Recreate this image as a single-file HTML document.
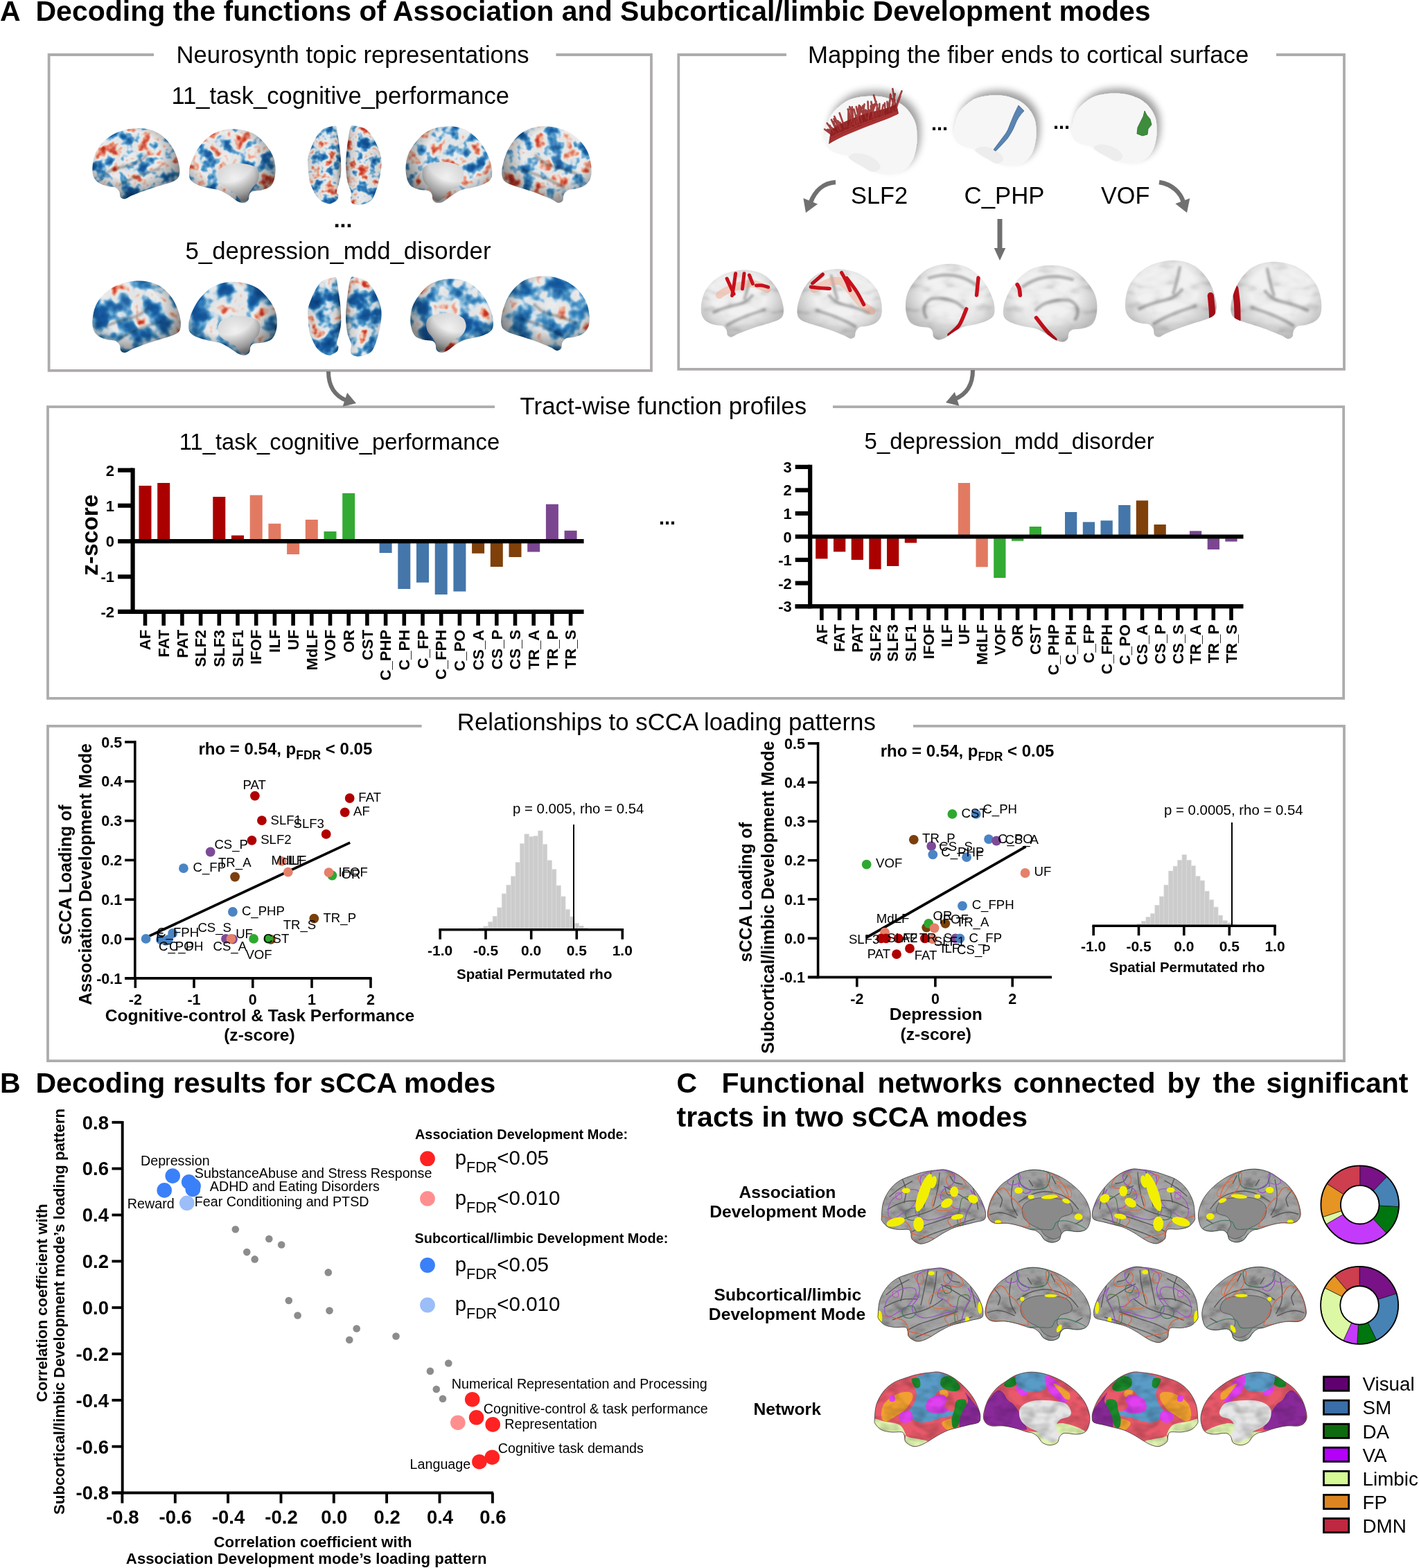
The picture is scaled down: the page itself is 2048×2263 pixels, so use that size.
<!DOCTYPE html>
<html><head><meta charset="utf-8"><title>Figure</title>
<style>html,body{margin:0;padding:0;background:#fff;}svg{display:block;}text{font-family:'Liberation Sans', Arial, sans-serif;}</style></head>
<body><svg width="2048" height="2263" viewBox="0 0 2048 2263">
<rect width="2048" height="2263" fill="#fff"/>
<defs><path id="latS" d="M0.6,44.6C0.8,41.6 0.9,35.3 2.3,30.9C3.7,26.5 6.4,21.7 9.1,18.3C11.8,14.9 14.9,12.4 18.3,10.3C21.7,8.2 25.9,7.0 29.7,5.7C33.5,4.4 37.3,3.1 41.1,2.3C44.9,1.4 49.2,0.9 52.6,0.6C56.0,0.3 58.3,-0.5 61.7,0.2C65.1,0.9 69.3,2.3 73.1,4.6C76.9,6.8 81.2,10.3 84.6,13.7C88.0,17.1 91.3,21.3 93.7,25.1C96.1,28.9 97.9,33.6 98.9,36.6C100.0,39.6 100.1,41.5 100.0,43.4C99.9,45.3 100.1,46.9 98.3,48.0C96.5,49.1 92.1,49.5 89.1,50.3C86.0,51.1 83.2,51.8 80.0,52.6C76.8,53.5 73.1,54.1 69.7,55.4C66.3,56.7 62.6,58.8 59.4,60.6C56.2,62.4 53.0,64.8 50.3,66.3C47.6,67.8 45.7,69.0 43.4,69.7C41.1,70.4 38.9,71.2 36.6,70.6C34.3,70.0 31.0,68.0 29.7,66.3C28.4,64.6 29.2,62.1 28.6,60.6C28.0,59.1 28.4,57.7 26.3,57.1C24.2,56.5 19.2,57.5 16.0,57.1C12.8,56.7 9.4,56.2 6.9,54.9C4.4,53.6 2.2,50.8 1.1,49.1C0.1,47.4 0.4,47.6 0.6,44.6Z"/><path id="medS" d="M0.0,40.9C0.4,37.5 2.0,31.4 4.0,27.2C6.0,23.0 9.2,18.9 12.0,15.8C14.8,12.8 18.1,11.0 21.1,8.9C24.2,6.8 26.9,4.6 30.3,3.2C33.7,1.8 37.9,0.7 41.7,0.3C45.5,-0.1 49.3,0.2 53.1,0.9C56.9,1.6 60.8,2.8 64.6,4.3C68.4,5.8 72.2,7.6 76.0,10.1C79.8,12.6 84.2,16.0 87.4,19.2C90.6,22.4 93.4,25.9 95.4,29.5C97.4,33.1 98.8,37.5 99.4,40.9C100.0,44.3 99.6,47.4 98.9,50.1C98.2,52.8 97.3,55.4 95.4,56.9C93.5,58.4 90.6,59.0 87.4,59.2C84.2,59.4 78.7,57.7 76.0,58.1C73.3,58.5 72.5,60.0 71.4,61.5C70.3,63.0 70.7,65.9 69.2,67.2C67.7,68.5 64.6,69.5 62.3,69.5C60.0,69.5 57.3,68.5 55.4,67.2C53.5,65.9 52.4,63.0 50.9,61.5C49.4,60.0 48.0,58.9 46.3,58.1C44.6,57.3 43.3,57.7 40.6,56.9C37.9,56.1 33.9,54.5 30.3,53.5C26.7,52.5 22.7,51.6 18.9,51.2C15.1,50.8 10.3,51.8 7.4,51.2C4.5,50.6 2.9,49.5 1.7,47.8C0.5,46.1 -0.4,44.3 0.0,40.9Z"/><clipPath id="latC"><path d="M0.6,44.6C0.8,41.6 0.9,35.3 2.3,30.9C3.7,26.5 6.4,21.7 9.1,18.3C11.8,14.9 14.9,12.4 18.3,10.3C21.7,8.2 25.9,7.0 29.7,5.7C33.5,4.4 37.3,3.1 41.1,2.3C44.9,1.4 49.2,0.9 52.6,0.6C56.0,0.3 58.3,-0.5 61.7,0.2C65.1,0.9 69.3,2.3 73.1,4.6C76.9,6.8 81.2,10.3 84.6,13.7C88.0,17.1 91.3,21.3 93.7,25.1C96.1,28.9 97.9,33.6 98.9,36.6C100.0,39.6 100.1,41.5 100.0,43.4C99.9,45.3 100.1,46.9 98.3,48.0C96.5,49.1 92.1,49.5 89.1,50.3C86.0,51.1 83.2,51.8 80.0,52.6C76.8,53.5 73.1,54.1 69.7,55.4C66.3,56.7 62.6,58.8 59.4,60.6C56.2,62.4 53.0,64.8 50.3,66.3C47.6,67.8 45.7,69.0 43.4,69.7C41.1,70.4 38.9,71.2 36.6,70.6C34.3,70.0 31.0,68.0 29.7,66.3C28.4,64.6 29.2,62.1 28.6,60.6C28.0,59.1 28.4,57.7 26.3,57.1C24.2,56.5 19.2,57.5 16.0,57.1C12.8,56.7 9.4,56.2 6.9,54.9C4.4,53.6 2.2,50.8 1.1,49.1C0.1,47.4 0.4,47.6 0.6,44.6Z"/></clipPath><clipPath id="medC"><path d="M0.0,40.9C0.4,37.5 2.0,31.4 4.0,27.2C6.0,23.0 9.2,18.9 12.0,15.8C14.8,12.8 18.1,11.0 21.1,8.9C24.2,6.8 26.9,4.6 30.3,3.2C33.7,1.8 37.9,0.7 41.7,0.3C45.5,-0.1 49.3,0.2 53.1,0.9C56.9,1.6 60.8,2.8 64.6,4.3C68.4,5.8 72.2,7.6 76.0,10.1C79.8,12.6 84.2,16.0 87.4,19.2C90.6,22.4 93.4,25.9 95.4,29.5C97.4,33.1 98.8,37.5 99.4,40.9C100.0,44.3 99.6,47.4 98.9,50.1C98.2,52.8 97.3,55.4 95.4,56.9C93.5,58.4 90.6,59.0 87.4,59.2C84.2,59.4 78.7,57.7 76.0,58.1C73.3,58.5 72.5,60.0 71.4,61.5C70.3,63.0 70.7,65.9 69.2,67.2C67.7,68.5 64.6,69.5 62.3,69.5C60.0,69.5 57.3,68.5 55.4,67.2C53.5,65.9 52.4,63.0 50.9,61.5C49.4,60.0 48.0,58.9 46.3,58.1C44.6,57.3 43.3,57.7 40.6,56.9C37.9,56.1 33.9,54.5 30.3,53.5C26.7,52.5 22.7,51.6 18.9,51.2C15.1,50.8 10.3,51.8 7.4,51.2C4.5,50.6 2.9,49.5 1.7,47.8C0.5,46.1 -0.4,44.3 0.0,40.9Z"/></clipPath><clipPath id="dorC"><ellipse cx="50" cy="50" rx="50" ry="50"/></clipPath><path id="nslatS" d="M1.0,55.4C-0.2,52.1 -0.4,47.6 0.0,43.1C0.4,38.6 1.5,32.8 3.5,28.2C5.5,23.6 8.8,19.3 12.1,15.8C15.4,12.3 19.4,9.5 23.3,7.2C27.2,4.9 31.5,3.4 35.6,2.2C39.7,1.0 43.9,0.3 48.0,0.0C52.1,-0.3 56.5,-0.2 60.4,0.4C64.3,1.0 68.0,2.0 71.5,3.5C75.0,5.0 78.3,7.0 81.4,9.7C84.5,12.4 87.6,15.9 90.1,19.6C92.6,23.3 94.7,27.6 96.3,31.9C97.9,36.2 99.3,41.6 99.8,45.5C100.2,49.4 100.0,52.9 99.0,55.4C98.0,57.9 96.3,59.0 93.8,60.4C91.3,61.8 87.6,62.9 83.9,64.1C80.2,65.3 76.0,66.3 71.5,67.8C67.0,69.2 61.2,71.1 56.7,72.8C52.2,74.5 47.6,76.3 44.3,77.7C41.0,79.1 39.0,81.2 36.9,81.4C34.8,81.6 32.9,80.4 31.9,79.0C30.9,77.6 31.7,74.7 30.7,72.8C29.7,70.9 28.0,68.8 25.7,67.8C23.4,66.8 20.2,67.4 17.1,66.6C14.0,65.8 9.9,64.8 7.2,62.9C4.5,61.0 2.2,58.7 1.0,55.4Z"/><path id="nsmedS" d="M0.0,50.3C0.0,47.1 0.5,43.2 1.9,39.0C3.3,34.8 5.7,29.4 8.2,25.2C10.7,21.0 13.7,17.2 17.0,13.8C20.4,10.4 24.3,7.2 28.3,5.0C32.3,2.8 36.7,1.4 40.9,0.6C45.1,-0.2 49.3,-0.2 53.5,0.0C57.7,0.2 61.8,0.6 66.0,1.9C70.2,3.1 74.6,4.7 78.6,7.5C82.6,10.3 86.8,14.9 89.9,18.9C93.1,22.9 95.8,27.2 97.5,31.4C99.2,35.6 99.8,39.8 100.0,44.0C100.2,48.2 99.8,53.0 98.7,56.6C97.7,60.2 96.2,63.3 93.7,65.4C91.2,67.5 86.9,68.4 83.6,69.2C80.2,70.0 75.9,69.6 73.6,70.4C71.3,71.2 70.6,72.5 69.8,74.2C69.0,75.9 69.6,78.9 68.6,80.5C67.5,82.1 65.6,83.4 63.5,83.6C61.4,83.8 59.1,83.4 56.0,81.8C52.9,80.2 48.3,76.3 44.7,74.2C41.1,72.1 38.4,70.5 34.6,69.2C30.8,68.0 26.2,67.8 22.0,66.7C17.8,65.7 12.8,64.4 9.4,62.9C6.1,61.4 3.5,60.0 1.9,57.9C0.3,55.8 0.0,53.4 0.0,50.3Z"/><clipPath id="nslatC"><path d="M1.0,55.4C-0.2,52.1 -0.4,47.6 0.0,43.1C0.4,38.6 1.5,32.8 3.5,28.2C5.5,23.6 8.8,19.3 12.1,15.8C15.4,12.3 19.4,9.5 23.3,7.2C27.2,4.9 31.5,3.4 35.6,2.2C39.7,1.0 43.9,0.3 48.0,0.0C52.1,-0.3 56.5,-0.2 60.4,0.4C64.3,1.0 68.0,2.0 71.5,3.5C75.0,5.0 78.3,7.0 81.4,9.7C84.5,12.4 87.6,15.9 90.1,19.6C92.6,23.3 94.7,27.6 96.3,31.9C97.9,36.2 99.3,41.6 99.8,45.5C100.2,49.4 100.0,52.9 99.0,55.4C98.0,57.9 96.3,59.0 93.8,60.4C91.3,61.8 87.6,62.9 83.9,64.1C80.2,65.3 76.0,66.3 71.5,67.8C67.0,69.2 61.2,71.1 56.7,72.8C52.2,74.5 47.6,76.3 44.3,77.7C41.0,79.1 39.0,81.2 36.9,81.4C34.8,81.6 32.9,80.4 31.9,79.0C30.9,77.6 31.7,74.7 30.7,72.8C29.7,70.9 28.0,68.8 25.7,67.8C23.4,66.8 20.2,67.4 17.1,66.6C14.0,65.8 9.9,64.8 7.2,62.9C4.5,61.0 2.2,58.7 1.0,55.4Z"/></clipPath><clipPath id="nsmedC"><path d="M0.0,50.3C0.0,47.1 0.5,43.2 1.9,39.0C3.3,34.8 5.7,29.4 8.2,25.2C10.7,21.0 13.7,17.2 17.0,13.8C20.4,10.4 24.3,7.2 28.3,5.0C32.3,2.8 36.7,1.4 40.9,0.6C45.1,-0.2 49.3,-0.2 53.5,0.0C57.7,0.2 61.8,0.6 66.0,1.9C70.2,3.1 74.6,4.7 78.6,7.5C82.6,10.3 86.8,14.9 89.9,18.9C93.1,22.9 95.8,27.2 97.5,31.4C99.2,35.6 99.8,39.8 100.0,44.0C100.2,48.2 99.8,53.0 98.7,56.6C97.7,60.2 96.2,63.3 93.7,65.4C91.2,67.5 86.9,68.4 83.6,69.2C80.2,70.0 75.9,69.6 73.6,70.4C71.3,71.2 70.6,72.5 69.8,74.2C69.0,75.9 69.6,78.9 68.6,80.5C67.5,82.1 65.6,83.4 63.5,83.6C61.4,83.8 59.1,83.4 56.0,81.8C52.9,80.2 48.3,76.3 44.7,74.2C41.1,72.1 38.4,70.5 34.6,69.2C30.8,68.0 26.2,67.8 22.0,66.7C17.8,65.7 12.8,64.4 9.4,62.9C6.1,61.4 3.5,60.0 1.9,57.9C0.3,55.8 0.0,53.4 0.0,50.3Z"/></clipPath><filter id="ns1_0" x="0" y="0" width="1" height="1" color-interpolation-filters="sRGB"><feTurbulence type="fractalNoise" baseFrequency="0.06" numOctaves="3" seed="11" result="n"/><feColorMatrix in="n" type="matrix" values="1 0 0 0 0 1 0 0 0 0 1 0 0 0 0 0 0 0 0 1" result="g"/><feComponentTransfer in="g" result="c"><feFuncR type="table" tableValues="0.031 0.038 0.044 0.050 0.056 0.062 0.068 0.075 0.081 0.087 0.093 0.106 0.144 0.182 0.220 0.294 0.392 0.490 0.641 0.804 0.891 0.925 0.925 0.925 0.933 0.953 0.950 0.932 0.908 0.876 0.843 0.810 0.788 0.768 0.748 0.728 0.708 0.688 0.668 0.648 0.627"/><feFuncG type="table" tableValues="0.235 0.248 0.261 0.273 0.286 0.299 0.312 0.324 0.337 0.350 0.362 0.382 0.429 0.476 0.522 0.581 0.646 0.712 0.795 0.882 0.913 0.925 0.925 0.925 0.890 0.800 0.706 0.608 0.514 0.427 0.340 0.253 0.217 0.195 0.173 0.151 0.128 0.106 0.084 0.061 0.039"/><feFuncB type="table" tableValues="0.490 0.505 0.519 0.534 0.548 0.563 0.577 0.592 0.606 0.621 0.635 0.654 0.686 0.719 0.752 0.786 0.821 0.856 0.898 0.941 0.930 0.925 0.925 0.925 0.872 0.739 0.619 0.507 0.410 0.337 0.264 0.191 0.168 0.156 0.145 0.134 0.123 0.112 0.101 0.090 0.078"/></feComponentTransfer><feComposite in="c" in2="SourceAlpha" operator="in"/></filter><filter id="ns2_0" x="0" y="0" width="1" height="1" color-interpolation-filters="sRGB"><feTurbulence type="fractalNoise" baseFrequency="0.045" numOctaves="3" seed="53" result="n"/><feColorMatrix in="n" type="matrix" values="1 0 0 0 0 1 0 0 0 0 1 0 0 0 0 0 0 0 0 1" result="g"/><feComponentTransfer in="g" result="c"><feFuncR type="table" tableValues="0.031 0.036 0.041 0.047 0.052 0.057 0.062 0.067 0.072 0.077 0.082 0.087 0.092 0.097 0.125 0.160 0.194 0.228 0.314 0.412 0.510 0.657 0.804 0.880 0.925 0.925 0.925 0.925 0.943 0.957 0.937 0.910 0.851 0.799 0.775 0.750 0.725 0.701 0.676 0.652 0.627"/><feFuncG type="table" tableValues="0.235 0.246 0.256 0.266 0.277 0.287 0.298 0.308 0.318 0.329 0.339 0.350 0.360 0.370 0.406 0.448 0.491 0.533 0.594 0.660 0.725 0.804 0.882 0.909 0.925 0.925 0.925 0.925 0.845 0.743 0.635 0.518 0.361 0.230 0.203 0.175 0.148 0.121 0.094 0.066 0.039"/><feFuncB type="table" tableValues="0.490 0.502 0.514 0.526 0.538 0.550 0.561 0.573 0.585 0.597 0.609 0.621 0.633 0.645 0.671 0.700 0.729 0.759 0.793 0.828 0.863 0.902 0.941 0.931 0.925 0.925 0.925 0.925 0.806 0.662 0.538 0.413 0.282 0.174 0.160 0.147 0.133 0.119 0.106 0.092 0.078"/></feComponentTransfer><feComposite in="c" in2="SourceAlpha" operator="in"/></filter><filter id="ns1_1" x="0" y="0" width="1" height="1" color-interpolation-filters="sRGB"><feTurbulence type="fractalNoise" baseFrequency="0.06" numOctaves="3" seed="18" result="n"/><feColorMatrix in="n" type="matrix" values="1 0 0 0 0 1 0 0 0 0 1 0 0 0 0 0 0 0 0 1" result="g"/><feComponentTransfer in="g" result="c"><feFuncR type="table" tableValues="0.031 0.038 0.044 0.050 0.056 0.062 0.068 0.075 0.081 0.087 0.093 0.106 0.144 0.182 0.220 0.294 0.392 0.490 0.641 0.804 0.891 0.925 0.925 0.925 0.933 0.953 0.950 0.932 0.908 0.876 0.843 0.810 0.788 0.768 0.748 0.728 0.708 0.688 0.668 0.648 0.627"/><feFuncG type="table" tableValues="0.235 0.248 0.261 0.273 0.286 0.299 0.312 0.324 0.337 0.350 0.362 0.382 0.429 0.476 0.522 0.581 0.646 0.712 0.795 0.882 0.913 0.925 0.925 0.925 0.890 0.800 0.706 0.608 0.514 0.427 0.340 0.253 0.217 0.195 0.173 0.151 0.128 0.106 0.084 0.061 0.039"/><feFuncB type="table" tableValues="0.490 0.505 0.519 0.534 0.548 0.563 0.577 0.592 0.606 0.621 0.635 0.654 0.686 0.719 0.752 0.786 0.821 0.856 0.898 0.941 0.930 0.925 0.925 0.925 0.872 0.739 0.619 0.507 0.410 0.337 0.264 0.191 0.168 0.156 0.145 0.134 0.123 0.112 0.101 0.090 0.078"/></feComponentTransfer><feComposite in="c" in2="SourceAlpha" operator="in"/></filter><filter id="ns2_1" x="0" y="0" width="1" height="1" color-interpolation-filters="sRGB"><feTurbulence type="fractalNoise" baseFrequency="0.045" numOctaves="3" seed="58" result="n"/><feColorMatrix in="n" type="matrix" values="1 0 0 0 0 1 0 0 0 0 1 0 0 0 0 0 0 0 0 1" result="g"/><feComponentTransfer in="g" result="c"><feFuncR type="table" tableValues="0.031 0.036 0.041 0.047 0.052 0.057 0.062 0.067 0.072 0.077 0.082 0.087 0.092 0.097 0.125 0.160 0.194 0.228 0.314 0.412 0.510 0.657 0.804 0.880 0.925 0.925 0.925 0.925 0.943 0.957 0.937 0.910 0.851 0.799 0.775 0.750 0.725 0.701 0.676 0.652 0.627"/><feFuncG type="table" tableValues="0.235 0.246 0.256 0.266 0.277 0.287 0.298 0.308 0.318 0.329 0.339 0.350 0.360 0.370 0.406 0.448 0.491 0.533 0.594 0.660 0.725 0.804 0.882 0.909 0.925 0.925 0.925 0.925 0.845 0.743 0.635 0.518 0.361 0.230 0.203 0.175 0.148 0.121 0.094 0.066 0.039"/><feFuncB type="table" tableValues="0.490 0.502 0.514 0.526 0.538 0.550 0.561 0.573 0.585 0.597 0.609 0.621 0.633 0.645 0.671 0.700 0.729 0.759 0.793 0.828 0.863 0.902 0.941 0.931 0.925 0.925 0.925 0.925 0.806 0.662 0.538 0.413 0.282 0.174 0.160 0.147 0.133 0.119 0.106 0.092 0.078"/></feComponentTransfer><feComposite in="c" in2="SourceAlpha" operator="in"/></filter><filter id="ns1_2" x="0" y="0" width="1" height="1" color-interpolation-filters="sRGB"><feTurbulence type="fractalNoise" baseFrequency="0.06" numOctaves="3" seed="25" result="n"/><feColorMatrix in="n" type="matrix" values="1 0 0 0 0 1 0 0 0 0 1 0 0 0 0 0 0 0 0 1" result="g"/><feComponentTransfer in="g" result="c"><feFuncR type="table" tableValues="0.031 0.038 0.044 0.050 0.056 0.062 0.068 0.075 0.081 0.087 0.093 0.106 0.144 0.182 0.220 0.294 0.392 0.490 0.641 0.804 0.891 0.925 0.925 0.925 0.933 0.953 0.950 0.932 0.908 0.876 0.843 0.810 0.788 0.768 0.748 0.728 0.708 0.688 0.668 0.648 0.627"/><feFuncG type="table" tableValues="0.235 0.248 0.261 0.273 0.286 0.299 0.312 0.324 0.337 0.350 0.362 0.382 0.429 0.476 0.522 0.581 0.646 0.712 0.795 0.882 0.913 0.925 0.925 0.925 0.890 0.800 0.706 0.608 0.514 0.427 0.340 0.253 0.217 0.195 0.173 0.151 0.128 0.106 0.084 0.061 0.039"/><feFuncB type="table" tableValues="0.490 0.505 0.519 0.534 0.548 0.563 0.577 0.592 0.606 0.621 0.635 0.654 0.686 0.719 0.752 0.786 0.821 0.856 0.898 0.941 0.930 0.925 0.925 0.925 0.872 0.739 0.619 0.507 0.410 0.337 0.264 0.191 0.168 0.156 0.145 0.134 0.123 0.112 0.101 0.090 0.078"/></feComponentTransfer><feComposite in="c" in2="SourceAlpha" operator="in"/></filter><filter id="ns2_2" x="0" y="0" width="1" height="1" color-interpolation-filters="sRGB"><feTurbulence type="fractalNoise" baseFrequency="0.045" numOctaves="3" seed="63" result="n"/><feColorMatrix in="n" type="matrix" values="1 0 0 0 0 1 0 0 0 0 1 0 0 0 0 0 0 0 0 1" result="g"/><feComponentTransfer in="g" result="c"><feFuncR type="table" tableValues="0.031 0.036 0.041 0.047 0.052 0.057 0.062 0.067 0.072 0.077 0.082 0.087 0.092 0.097 0.125 0.160 0.194 0.228 0.314 0.412 0.510 0.657 0.804 0.880 0.925 0.925 0.925 0.925 0.943 0.957 0.937 0.910 0.851 0.799 0.775 0.750 0.725 0.701 0.676 0.652 0.627"/><feFuncG type="table" tableValues="0.235 0.246 0.256 0.266 0.277 0.287 0.298 0.308 0.318 0.329 0.339 0.350 0.360 0.370 0.406 0.448 0.491 0.533 0.594 0.660 0.725 0.804 0.882 0.909 0.925 0.925 0.925 0.925 0.845 0.743 0.635 0.518 0.361 0.230 0.203 0.175 0.148 0.121 0.094 0.066 0.039"/><feFuncB type="table" tableValues="0.490 0.502 0.514 0.526 0.538 0.550 0.561 0.573 0.585 0.597 0.609 0.621 0.633 0.645 0.671 0.700 0.729 0.759 0.793 0.828 0.863 0.902 0.941 0.931 0.925 0.925 0.925 0.925 0.806 0.662 0.538 0.413 0.282 0.174 0.160 0.147 0.133 0.119 0.106 0.092 0.078"/></feComponentTransfer><feComposite in="c" in2="SourceAlpha" operator="in"/></filter><filter id="ns1_3" x="0" y="0" width="1" height="1" color-interpolation-filters="sRGB"><feTurbulence type="fractalNoise" baseFrequency="0.06" numOctaves="3" seed="32" result="n"/><feColorMatrix in="n" type="matrix" values="1 0 0 0 0 1 0 0 0 0 1 0 0 0 0 0 0 0 0 1" result="g"/><feComponentTransfer in="g" result="c"><feFuncR type="table" tableValues="0.031 0.038 0.044 0.050 0.056 0.062 0.068 0.075 0.081 0.087 0.093 0.106 0.144 0.182 0.220 0.294 0.392 0.490 0.641 0.804 0.891 0.925 0.925 0.925 0.933 0.953 0.950 0.932 0.908 0.876 0.843 0.810 0.788 0.768 0.748 0.728 0.708 0.688 0.668 0.648 0.627"/><feFuncG type="table" tableValues="0.235 0.248 0.261 0.273 0.286 0.299 0.312 0.324 0.337 0.350 0.362 0.382 0.429 0.476 0.522 0.581 0.646 0.712 0.795 0.882 0.913 0.925 0.925 0.925 0.890 0.800 0.706 0.608 0.514 0.427 0.340 0.253 0.217 0.195 0.173 0.151 0.128 0.106 0.084 0.061 0.039"/><feFuncB type="table" tableValues="0.490 0.505 0.519 0.534 0.548 0.563 0.577 0.592 0.606 0.621 0.635 0.654 0.686 0.719 0.752 0.786 0.821 0.856 0.898 0.941 0.930 0.925 0.925 0.925 0.872 0.739 0.619 0.507 0.410 0.337 0.264 0.191 0.168 0.156 0.145 0.134 0.123 0.112 0.101 0.090 0.078"/></feComponentTransfer><feComposite in="c" in2="SourceAlpha" operator="in"/></filter><filter id="ns2_3" x="0" y="0" width="1" height="1" color-interpolation-filters="sRGB"><feTurbulence type="fractalNoise" baseFrequency="0.045" numOctaves="3" seed="68" result="n"/><feColorMatrix in="n" type="matrix" values="1 0 0 0 0 1 0 0 0 0 1 0 0 0 0 0 0 0 0 1" result="g"/><feComponentTransfer in="g" result="c"><feFuncR type="table" tableValues="0.031 0.036 0.041 0.047 0.052 0.057 0.062 0.067 0.072 0.077 0.082 0.087 0.092 0.097 0.125 0.160 0.194 0.228 0.314 0.412 0.510 0.657 0.804 0.880 0.925 0.925 0.925 0.925 0.943 0.957 0.937 0.910 0.851 0.799 0.775 0.750 0.725 0.701 0.676 0.652 0.627"/><feFuncG type="table" tableValues="0.235 0.246 0.256 0.266 0.277 0.287 0.298 0.308 0.318 0.329 0.339 0.350 0.360 0.370 0.406 0.448 0.491 0.533 0.594 0.660 0.725 0.804 0.882 0.909 0.925 0.925 0.925 0.925 0.845 0.743 0.635 0.518 0.361 0.230 0.203 0.175 0.148 0.121 0.094 0.066 0.039"/><feFuncB type="table" tableValues="0.490 0.502 0.514 0.526 0.538 0.550 0.561 0.573 0.585 0.597 0.609 0.621 0.633 0.645 0.671 0.700 0.729 0.759 0.793 0.828 0.863 0.902 0.941 0.931 0.925 0.925 0.925 0.925 0.806 0.662 0.538 0.413 0.282 0.174 0.160 0.147 0.133 0.119 0.106 0.092 0.078"/></feComponentTransfer><feComposite in="c" in2="SourceAlpha" operator="in"/></filter><filter id="ns1_4" x="0" y="0" width="1" height="1" color-interpolation-filters="sRGB"><feTurbulence type="fractalNoise" baseFrequency="0.06" numOctaves="3" seed="39" result="n"/><feColorMatrix in="n" type="matrix" values="1 0 0 0 0 1 0 0 0 0 1 0 0 0 0 0 0 0 0 1" result="g"/><feComponentTransfer in="g" result="c"><feFuncR type="table" tableValues="0.031 0.038 0.044 0.050 0.056 0.062 0.068 0.075 0.081 0.087 0.093 0.106 0.144 0.182 0.220 0.294 0.392 0.490 0.641 0.804 0.891 0.925 0.925 0.925 0.933 0.953 0.950 0.932 0.908 0.876 0.843 0.810 0.788 0.768 0.748 0.728 0.708 0.688 0.668 0.648 0.627"/><feFuncG type="table" tableValues="0.235 0.248 0.261 0.273 0.286 0.299 0.312 0.324 0.337 0.350 0.362 0.382 0.429 0.476 0.522 0.581 0.646 0.712 0.795 0.882 0.913 0.925 0.925 0.925 0.890 0.800 0.706 0.608 0.514 0.427 0.340 0.253 0.217 0.195 0.173 0.151 0.128 0.106 0.084 0.061 0.039"/><feFuncB type="table" tableValues="0.490 0.505 0.519 0.534 0.548 0.563 0.577 0.592 0.606 0.621 0.635 0.654 0.686 0.719 0.752 0.786 0.821 0.856 0.898 0.941 0.930 0.925 0.925 0.925 0.872 0.739 0.619 0.507 0.410 0.337 0.264 0.191 0.168 0.156 0.145 0.134 0.123 0.112 0.101 0.090 0.078"/></feComponentTransfer><feComposite in="c" in2="SourceAlpha" operator="in"/></filter><filter id="ns2_4" x="0" y="0" width="1" height="1" color-interpolation-filters="sRGB"><feTurbulence type="fractalNoise" baseFrequency="0.045" numOctaves="3" seed="73" result="n"/><feColorMatrix in="n" type="matrix" values="1 0 0 0 0 1 0 0 0 0 1 0 0 0 0 0 0 0 0 1" result="g"/><feComponentTransfer in="g" result="c"><feFuncR type="table" tableValues="0.031 0.036 0.041 0.047 0.052 0.057 0.062 0.067 0.072 0.077 0.082 0.087 0.092 0.097 0.125 0.160 0.194 0.228 0.314 0.412 0.510 0.657 0.804 0.880 0.925 0.925 0.925 0.925 0.943 0.957 0.937 0.910 0.851 0.799 0.775 0.750 0.725 0.701 0.676 0.652 0.627"/><feFuncG type="table" tableValues="0.235 0.246 0.256 0.266 0.277 0.287 0.298 0.308 0.318 0.329 0.339 0.350 0.360 0.370 0.406 0.448 0.491 0.533 0.594 0.660 0.725 0.804 0.882 0.909 0.925 0.925 0.925 0.925 0.845 0.743 0.635 0.518 0.361 0.230 0.203 0.175 0.148 0.121 0.094 0.066 0.039"/><feFuncB type="table" tableValues="0.490 0.502 0.514 0.526 0.538 0.550 0.561 0.573 0.585 0.597 0.609 0.621 0.633 0.645 0.671 0.700 0.729 0.759 0.793 0.828 0.863 0.902 0.941 0.931 0.925 0.925 0.925 0.925 0.806 0.662 0.538 0.413 0.282 0.174 0.160 0.147 0.133 0.119 0.106 0.092 0.078"/></feComponentTransfer><feComposite in="c" in2="SourceAlpha" operator="in"/></filter><filter id="ns1_5" x="0" y="0" width="1" height="1" color-interpolation-filters="sRGB"><feTurbulence type="fractalNoise" baseFrequency="0.06" numOctaves="3" seed="46" result="n"/><feColorMatrix in="n" type="matrix" values="1 0 0 0 0 1 0 0 0 0 1 0 0 0 0 0 0 0 0 1" result="g"/><feComponentTransfer in="g" result="c"><feFuncR type="table" tableValues="0.031 0.038 0.044 0.050 0.056 0.062 0.068 0.075 0.081 0.087 0.093 0.106 0.144 0.182 0.220 0.294 0.392 0.490 0.641 0.804 0.891 0.925 0.925 0.925 0.933 0.953 0.950 0.932 0.908 0.876 0.843 0.810 0.788 0.768 0.748 0.728 0.708 0.688 0.668 0.648 0.627"/><feFuncG type="table" tableValues="0.235 0.248 0.261 0.273 0.286 0.299 0.312 0.324 0.337 0.350 0.362 0.382 0.429 0.476 0.522 0.581 0.646 0.712 0.795 0.882 0.913 0.925 0.925 0.925 0.890 0.800 0.706 0.608 0.514 0.427 0.340 0.253 0.217 0.195 0.173 0.151 0.128 0.106 0.084 0.061 0.039"/><feFuncB type="table" tableValues="0.490 0.505 0.519 0.534 0.548 0.563 0.577 0.592 0.606 0.621 0.635 0.654 0.686 0.719 0.752 0.786 0.821 0.856 0.898 0.941 0.930 0.925 0.925 0.925 0.872 0.739 0.619 0.507 0.410 0.337 0.264 0.191 0.168 0.156 0.145 0.134 0.123 0.112 0.101 0.090 0.078"/></feComponentTransfer><feComposite in="c" in2="SourceAlpha" operator="in"/></filter><filter id="ns2_5" x="0" y="0" width="1" height="1" color-interpolation-filters="sRGB"><feTurbulence type="fractalNoise" baseFrequency="0.045" numOctaves="3" seed="78" result="n"/><feColorMatrix in="n" type="matrix" values="1 0 0 0 0 1 0 0 0 0 1 0 0 0 0 0 0 0 0 1" result="g"/><feComponentTransfer in="g" result="c"><feFuncR type="table" tableValues="0.031 0.036 0.041 0.047 0.052 0.057 0.062 0.067 0.072 0.077 0.082 0.087 0.092 0.097 0.125 0.160 0.194 0.228 0.314 0.412 0.510 0.657 0.804 0.880 0.925 0.925 0.925 0.925 0.943 0.957 0.937 0.910 0.851 0.799 0.775 0.750 0.725 0.701 0.676 0.652 0.627"/><feFuncG type="table" tableValues="0.235 0.246 0.256 0.266 0.277 0.287 0.298 0.308 0.318 0.329 0.339 0.350 0.360 0.370 0.406 0.448 0.491 0.533 0.594 0.660 0.725 0.804 0.882 0.909 0.925 0.925 0.925 0.925 0.845 0.743 0.635 0.518 0.361 0.230 0.203 0.175 0.148 0.121 0.094 0.066 0.039"/><feFuncB type="table" tableValues="0.490 0.502 0.514 0.526 0.538 0.550 0.561 0.573 0.585 0.597 0.609 0.621 0.633 0.645 0.671 0.700 0.729 0.759 0.793 0.828 0.863 0.902 0.941 0.931 0.925 0.925 0.925 0.925 0.806 0.662 0.538 0.413 0.282 0.174 0.160 0.147 0.133 0.119 0.106 0.092 0.078"/></feComponentTransfer><feComposite in="c" in2="SourceAlpha" operator="in"/></filter><filter id="soft" x="-0.2" y="-0.2" width="1.4" height="1.4"><feGaussianBlur stdDeviation="1.2"/></filter><radialGradient id="shade" cx="0.42" cy="0.38" r="0.62"><stop offset="0.0" stop-color="#fff" stop-opacity="0.12"/><stop offset="0.55" stop-color="#000" stop-opacity="0"/><stop offset="1" stop-color="#000" stop-opacity="0.42"/></radialGradient><radialGradient id="shadeL" cx="0.45" cy="0.38" r="0.6"><stop offset="0.55" stop-color="#000" stop-opacity="0"/><stop offset="1" stop-color="#000" stop-opacity="0.22"/></radialGradient><radialGradient id="wallG" cx="0.4" cy="0.35" r="0.7"><stop offset="0" stop-color="#f4f4f4"/><stop offset="0.7" stop-color="#d8d8d8"/><stop offset="1" stop-color="#a8a8a8"/></radialGradient><linearGradient id="dshL" x1="0" y1="0" x2="1" y2="0"><stop offset="0" stop-color="#000" stop-opacity="0.12"/><stop offset="0.6" stop-color="#000" stop-opacity="0"/><stop offset="0.85" stop-color="#000" stop-opacity="0.12"/><stop offset="1" stop-color="#000" stop-opacity="0.45"/></linearGradient><linearGradient id="dshR" x1="1" y1="0" x2="0" y2="0"><stop offset="0" stop-color="#000" stop-opacity="0.12"/><stop offset="0.6" stop-color="#000" stop-opacity="0"/><stop offset="0.85" stop-color="#000" stop-opacity="0.12"/><stop offset="1" stop-color="#000" stop-opacity="0.45"/></linearGradient><filter id="gshadow" x="-0.3" y="-0.4" width="1.6" height="1.8"><feGaussianBlur in="SourceAlpha" stdDeviation="4.5"/><feOffset dx="4" dy="-6" result="b"/><feComponentTransfer in="b" result="b2"><feFuncA type="linear" slope="0.38"/></feComponentTransfer><feMerge><feMergeNode in="b2"/><feMergeNode in="SourceGraphic"/></feMerge></filter><filter id="wsurf" x="0" y="0" width="1" height="1" color-interpolation-filters="sRGB"><feTurbulence type="fractalNoise" baseFrequency="0.05 0.09" numOctaves="2" seed="4" result="n"/><feColorMatrix in="n" type="matrix" values="1 0 0 0 0 1 0 0 0 0 1 0 0 0 0 0 0 0 0 1" result="g"/><feComponentTransfer in="g" result="c"><feFuncR type="table" tableValues="0.74 0.84 0.92 0.945 0.95 0.95"/><feFuncG type="table" tableValues="0.74 0.84 0.92 0.945 0.95 0.95"/><feFuncB type="table" tableValues="0.74 0.84 0.92 0.945 0.95 0.95"/></feComponentTransfer><feComposite in="c" in2="SourceAlpha" operator="in"/></filter><filter id="gsurf" x="0" y="0" width="1" height="1" color-interpolation-filters="sRGB"><feTurbulence type="fractalNoise" baseFrequency="0.07 0.11" numOctaves="3" seed="9" result="n"/><feColorMatrix in="n" type="matrix" values="1 0 0 0 0 1 0 0 0 0 1 0 0 0 0 0 0 0 0 1" result="g"/><feComponentTransfer in="g" result="c"><feFuncR type="table" tableValues="0.40 0.47 0.56 0.62 0.65 0.66 0.67"/><feFuncG type="table" tableValues="0.40 0.47 0.56 0.62 0.65 0.66 0.67"/><feFuncB type="table" tableValues="0.40 0.47 0.56 0.62 0.65 0.66 0.67"/></feComponentTransfer><feComposite in="c" in2="SourceAlpha" operator="in"/></filter><filter id="nsurf" x="0" y="0" width="1" height="1" color-interpolation-filters="sRGB"><feTurbulence type="fractalNoise" baseFrequency="0.08 0.12" numOctaves="2" seed="21" result="n"/><feColorMatrix in="n" type="matrix" values="0 0 0 0 0 0 0 0 0 0 0 0 0 0 0 -2.2 0 0 0 1.35"/><feComposite in2="SourceAlpha" operator="in"/></filter></defs>
<g transform="translate(133.6,185.3) scale(1.2580,1.2518)"><use href="#nslatS" fill="#888" filter="url(#ns1_0)"/><path d="M14,52 C24,47 34,44 44,42 C52,40 58,36 63,30 M30,66 C42,58 58,52 78,46" fill="none" stroke="#000" stroke-opacity="0.3" stroke-width="3" filter="url(#soft)"/><use href="#nslatS" fill="url(#shade)"/></g><g transform="translate(272.9,186.4) scale(1.2460,1.2723)"><use href="#nsmedS" fill="#888" filter="url(#ns1_1)"/><path d="M33.0,52.0C33.3,49.8 34.3,46.8 36.0,45.0C37.7,43.2 40.3,42.0 43.0,41.0C45.7,40.0 48.8,39.3 52.0,39.0C55.2,38.7 58.7,38.7 62.0,39.0C65.3,39.3 69.2,40.0 72.0,41.0C74.8,42.0 77.5,43.2 79.0,45.0C80.5,46.8 81.0,49.5 81.0,52.0C81.0,54.5 80.2,57.7 79.0,60.0C77.8,62.3 75.5,64.0 74.0,66.0C72.5,68.0 71.0,69.8 70.0,72.0C69.0,74.2 69.2,77.3 68.0,79.0C66.8,80.7 64.7,82.0 63.0,82.0C61.3,82.0 59.7,80.5 58.0,79.0C56.3,77.5 55.2,74.8 53.0,73.0C50.8,71.2 47.5,69.5 45.0,68.0C42.5,66.5 39.8,65.7 38.0,64.0C36.2,62.3 34.8,60.0 34.0,58.0C33.2,56.0 32.7,54.2 33.0,52.0Z" fill="url(#wallG)"/><use href="#nsmedS" fill="url(#shade)"/></g><g transform="translate(710.3,182.5) scale(-1.2470,1.3193)"><use href="#nsmedS" fill="#888" filter="url(#ns1_2)"/><path d="M33.0,52.0C33.3,49.8 34.3,46.8 36.0,45.0C37.7,43.2 40.3,42.0 43.0,41.0C45.7,40.0 48.8,39.3 52.0,39.0C55.2,38.7 58.7,38.7 62.0,39.0C65.3,39.3 69.2,40.0 72.0,41.0C74.8,42.0 77.5,43.2 79.0,45.0C80.5,46.8 81.0,49.5 81.0,52.0C81.0,54.5 80.2,57.7 79.0,60.0C77.8,62.3 75.5,64.0 74.0,66.0C72.5,68.0 71.0,69.8 70.0,72.0C69.0,74.2 69.2,77.3 68.0,79.0C66.8,80.7 64.7,82.0 63.0,82.0C61.3,82.0 59.7,80.5 58.0,79.0C56.3,77.5 55.2,74.8 53.0,73.0C50.8,71.2 47.5,69.5 45.0,68.0C42.5,66.5 39.8,65.7 38.0,64.0C36.2,62.3 34.8,60.0 34.0,58.0C33.2,56.0 32.7,54.2 33.0,52.0Z" fill="url(#wallG)"/><use href="#nsmedS" fill="url(#shade)"/></g><g transform="translate(853.4,182.5) scale(-1.2910,1.3530)"><use href="#nslatS" fill="#888" filter="url(#ns1_3)"/><path d="M14,52 C24,47 34,44 44,42 C52,40 58,36 63,30 M30,66 C42,58 58,52 78,46" fill="none" stroke="#000" stroke-opacity="0.3" stroke-width="3" filter="url(#soft)"/><use href="#nslatS" fill="url(#shade)"/></g><g transform="translate(133.6,405.4) scale(1.2740,1.2723)"><use href="#nslatS" fill="#888" filter="url(#ns2_0)"/><path d="M14,52 C24,47 34,44 44,42 C52,40 58,36 63,30 M30,66 C42,58 58,52 78,46" fill="none" stroke="#000" stroke-opacity="0.3" stroke-width="3" filter="url(#soft)"/><use href="#nslatS" fill="url(#shade)"/></g><g transform="translate(272.3,407.0) scale(1.2750,1.2651)"><use href="#nsmedS" fill="#888" filter="url(#ns2_1)"/><path d="M33.0,52.0C33.3,49.8 34.3,46.8 36.0,45.0C37.7,43.2 40.3,42.0 43.0,41.0C45.7,40.0 48.8,39.3 52.0,39.0C55.2,38.7 58.7,38.7 62.0,39.0C65.3,39.3 69.2,40.0 72.0,41.0C74.8,42.0 77.5,43.2 79.0,45.0C80.5,46.8 81.0,49.5 81.0,52.0C81.0,54.5 80.2,57.7 79.0,60.0C77.8,62.3 75.5,64.0 74.0,66.0C72.5,68.0 71.0,69.8 70.0,72.0C69.0,74.2 69.2,77.3 68.0,79.0C66.8,80.7 64.7,82.0 63.0,82.0C61.3,82.0 59.7,80.5 58.0,79.0C56.3,77.5 55.2,74.8 53.0,73.0C50.8,71.2 47.5,69.5 45.0,68.0C42.5,66.5 39.8,65.7 38.0,64.0C36.2,62.3 34.8,60.0 34.0,58.0C33.2,56.0 32.7,54.2 33.0,52.0Z" fill="url(#wallG)"/><use href="#nsmedS" fill="url(#shade)"/></g><g transform="translate(712.0,402.6) scale(-1.1960,1.2699)"><use href="#nsmedS" fill="#888" filter="url(#ns2_2)"/><path d="M33.0,52.0C33.3,49.8 34.3,46.8 36.0,45.0C37.7,43.2 40.3,42.0 43.0,41.0C45.7,40.0 48.8,39.3 52.0,39.0C55.2,38.7 58.7,38.7 62.0,39.0C65.3,39.3 69.2,40.0 72.0,41.0C74.8,42.0 77.5,43.2 79.0,45.0C80.5,46.8 81.0,49.5 81.0,52.0C81.0,54.5 80.2,57.7 79.0,60.0C77.8,62.3 75.5,64.0 74.0,66.0C72.5,68.0 71.0,69.8 70.0,72.0C69.0,74.2 69.2,77.3 68.0,79.0C66.8,80.7 64.7,82.0 63.0,82.0C61.3,82.0 59.7,80.5 58.0,79.0C56.3,77.5 55.2,74.8 53.0,73.0C50.8,71.2 47.5,69.5 45.0,68.0C42.5,66.5 39.8,65.7 38.0,64.0C36.2,62.3 34.8,60.0 34.0,58.0C33.2,56.0 32.7,54.2 33.0,52.0Z" fill="url(#wallG)"/><use href="#nsmedS" fill="url(#shade)"/></g><g transform="translate(850.6,398.6) scale(-1.2740,1.3181)"><use href="#nslatS" fill="#888" filter="url(#ns2_3)"/><path d="M14,52 C24,47 34,44 44,42 C52,40 58,36 63,30 M30,66 C42,58 58,52 78,46" fill="none" stroke="#000" stroke-opacity="0.3" stroke-width="3" filter="url(#soft)"/><use href="#nslatS" fill="url(#shade)"/></g><path d="M483.7,181.5C482.1,181.1 478.9,182.3 476.0,183.0C473.2,183.8 469.4,184.7 466.8,186.1C464.3,187.5 462.7,189.1 460.7,191.5C458.7,193.9 456.5,197.1 454.6,200.7C452.6,204.3 450.7,209.1 449.2,213.0C447.7,216.8 446.2,220.7 445.3,223.7C444.5,226.8 444.3,227.6 444.2,231.4C444.1,235.2 444.5,241.6 445.0,246.7C445.4,251.9 445.8,257.6 446.9,262.1C448.0,266.6 449.8,270.0 451.5,273.6C453.2,277.2 454.7,280.8 456.9,283.6C459.0,286.4 461.6,288.7 464.5,290.5C467.5,292.3 472.0,293.9 474.5,294.3C477.1,294.7 477.8,293.8 479.9,292.8C481.9,291.8 485.4,290.1 486.8,288.2C488.2,286.3 488.5,283.1 488.3,281.3C488.2,279.5 485.8,280.6 486.0,277.4C486.3,274.2 488.8,267.2 489.9,262.1C490.9,257.0 491.9,253.1 492.2,246.7C492.4,240.4 492.0,231.4 491.4,223.7C490.8,216.0 489.2,207.1 488.3,200.7C487.4,194.3 486.8,188.5 486.0,185.3C485.3,182.2 485.4,181.9 483.7,181.5Z" fill="#888" filter="url(#ns1_4)"/><path d="M483.7,181.5C482.1,181.1 478.9,182.3 476.0,183.0C473.2,183.8 469.4,184.7 466.8,186.1C464.3,187.5 462.7,189.1 460.7,191.5C458.7,193.9 456.5,197.1 454.6,200.7C452.6,204.3 450.7,209.1 449.2,213.0C447.7,216.8 446.2,220.7 445.3,223.7C444.5,226.8 444.3,227.6 444.2,231.4C444.1,235.2 444.5,241.6 445.0,246.7C445.4,251.9 445.8,257.6 446.9,262.1C448.0,266.6 449.8,270.0 451.5,273.6C453.2,277.2 454.7,280.8 456.9,283.6C459.0,286.4 461.6,288.7 464.5,290.5C467.5,292.3 472.0,293.9 474.5,294.3C477.1,294.7 477.8,293.8 479.9,292.8C481.9,291.8 485.4,290.1 486.8,288.2C488.2,286.3 488.5,283.1 488.3,281.3C488.2,279.5 485.8,280.6 486.0,277.4C486.3,274.2 488.8,267.2 489.9,262.1C490.9,257.0 491.9,253.1 492.2,246.7C492.4,240.4 492.0,231.4 491.4,223.7C490.8,216.0 489.2,207.1 488.3,200.7C487.4,194.3 486.8,188.5 486.0,185.3C485.3,182.2 485.4,181.9 483.7,181.5Z" fill="url(#dshL)"/><path d="M506.7,182.3C508.3,180.4 510.3,181.3 512.9,181.5C515.4,181.8 519.3,182.8 522.1,183.8C524.9,184.8 527.2,185.5 529.8,187.7C532.3,189.8 535.3,193.7 537.4,196.9C539.6,200.1 541.0,203.0 542.8,206.8C544.6,210.7 546.9,215.8 548.2,219.9C549.5,224.0 550.2,226.9 550.5,231.4C550.7,235.9 550.4,241.6 549.7,246.7C549.1,251.9 547.9,257.0 546.7,262.1C545.4,267.2 543.8,273.0 542.0,277.4C540.3,281.9 538.6,286.1 535.9,289.0C533.2,291.8 529.3,293.2 525.9,294.3C522.6,295.5 519.0,296.1 516.0,295.9C512.9,295.6 509.2,294.3 507.5,292.8C505.9,291.3 506.1,289.2 506.0,286.7C505.9,284.1 507.5,281.5 506.7,277.4C506.0,273.4 502.7,268.5 501.4,262.1C500.1,255.7 499.2,246.7 499.1,239.1C498.9,231.4 499.8,223.7 500.6,216.0C501.4,208.4 502.7,198.7 503.7,193.0C504.7,187.4 505.2,184.2 506.7,182.3Z" fill="#888" filter="url(#ns1_5)"/><path d="M506.7,182.3C508.3,180.4 510.3,181.3 512.9,181.5C515.4,181.8 519.3,182.8 522.1,183.8C524.9,184.8 527.2,185.5 529.8,187.7C532.3,189.8 535.3,193.7 537.4,196.9C539.6,200.1 541.0,203.0 542.8,206.8C544.6,210.7 546.9,215.8 548.2,219.9C549.5,224.0 550.2,226.9 550.5,231.4C550.7,235.9 550.4,241.6 549.7,246.7C549.1,251.9 547.9,257.0 546.7,262.1C545.4,267.2 543.8,273.0 542.0,277.4C540.3,281.9 538.6,286.1 535.9,289.0C533.2,291.8 529.3,293.2 525.9,294.3C522.6,295.5 519.0,296.1 516.0,295.9C512.9,295.6 509.2,294.3 507.5,292.8C505.9,291.3 506.1,289.2 506.0,286.7C505.9,284.1 507.5,281.5 506.7,277.4C506.0,273.4 502.7,268.5 501.4,262.1C500.1,255.7 499.2,246.7 499.1,239.1C498.9,231.4 499.8,223.7 500.6,216.0C501.4,208.4 502.7,198.7 503.7,193.0C504.7,187.4 505.2,184.2 506.7,182.3Z" fill="url(#dshR)"/><path d="M483.7,400.0C482.1,399.6 478.9,400.8 476.0,401.5C473.2,402.3 469.4,403.2 466.8,404.6C464.3,406.0 462.7,407.6 460.7,410.0C458.7,412.4 456.5,415.6 454.6,419.2C452.6,422.8 450.7,427.6 449.2,431.5C447.7,435.3 446.2,439.2 445.3,442.2C444.5,445.3 444.3,446.1 444.2,449.9C444.1,453.7 444.5,460.1 445.0,465.2C445.4,470.4 445.8,476.1 446.9,480.6C448.0,485.1 449.8,488.5 451.5,492.1C453.2,495.7 454.7,499.3 456.9,502.1C459.0,504.9 461.6,507.2 464.5,509.0C467.5,510.8 472.0,512.4 474.5,512.8C477.1,513.2 477.8,512.3 479.9,511.3C481.9,510.3 485.4,508.6 486.8,506.7C488.2,504.8 488.5,501.6 488.3,499.8C488.2,498.0 485.8,499.1 486.0,495.9C486.3,492.7 488.8,485.7 489.9,480.6C490.9,475.5 491.9,471.6 492.2,465.2C492.4,458.9 492.0,449.9 491.4,442.2C490.8,434.5 489.2,425.6 488.3,419.2C487.4,412.8 486.8,407.0 486.0,403.8C485.3,400.7 485.4,400.4 483.7,400.0Z" fill="#888" filter="url(#ns2_4)"/><path d="M483.7,400.0C482.1,399.6 478.9,400.8 476.0,401.5C473.2,402.3 469.4,403.2 466.8,404.6C464.3,406.0 462.7,407.6 460.7,410.0C458.7,412.4 456.5,415.6 454.6,419.2C452.6,422.8 450.7,427.6 449.2,431.5C447.7,435.3 446.2,439.2 445.3,442.2C444.5,445.3 444.3,446.1 444.2,449.9C444.1,453.7 444.5,460.1 445.0,465.2C445.4,470.4 445.8,476.1 446.9,480.6C448.0,485.1 449.8,488.5 451.5,492.1C453.2,495.7 454.7,499.3 456.9,502.1C459.0,504.9 461.6,507.2 464.5,509.0C467.5,510.8 472.0,512.4 474.5,512.8C477.1,513.2 477.8,512.3 479.9,511.3C481.9,510.3 485.4,508.6 486.8,506.7C488.2,504.8 488.5,501.6 488.3,499.8C488.2,498.0 485.8,499.1 486.0,495.9C486.3,492.7 488.8,485.7 489.9,480.6C490.9,475.5 491.9,471.6 492.2,465.2C492.4,458.9 492.0,449.9 491.4,442.2C490.8,434.5 489.2,425.6 488.3,419.2C487.4,412.8 486.8,407.0 486.0,403.8C485.3,400.7 485.4,400.4 483.7,400.0Z" fill="url(#dshL)"/><path d="M506.7,400.8C508.3,398.9 510.3,399.8 512.9,400.0C515.4,400.3 519.3,401.3 522.1,402.3C524.9,403.3 527.2,404.0 529.8,406.2C532.3,408.3 535.3,412.2 537.4,415.4C539.6,418.6 541.0,421.5 542.8,425.3C544.6,429.2 546.9,434.3 548.2,438.4C549.5,442.5 550.2,445.4 550.5,449.9C550.7,454.4 550.4,460.1 549.7,465.2C549.1,470.4 547.9,475.5 546.7,480.6C545.4,485.7 543.8,491.5 542.0,495.9C540.3,500.4 538.6,504.6 535.9,507.5C533.2,510.3 529.3,511.7 525.9,512.8C522.6,514.0 519.0,514.6 516.0,514.4C512.9,514.1 509.2,512.8 507.5,511.3C505.9,509.8 506.1,507.7 506.0,505.2C505.9,502.6 507.5,500.0 506.7,495.9C506.0,491.9 502.7,487.0 501.4,480.6C500.1,474.2 499.2,465.2 499.1,457.6C498.9,449.9 499.8,442.2 500.6,434.5C501.4,426.9 502.7,417.2 503.7,411.5C504.7,405.9 505.2,402.7 506.7,400.8Z" fill="#888" filter="url(#ns2_5)"/><path d="M506.7,400.8C508.3,398.9 510.3,399.8 512.9,400.0C515.4,400.3 519.3,401.3 522.1,402.3C524.9,403.3 527.2,404.0 529.8,406.2C532.3,408.3 535.3,412.2 537.4,415.4C539.6,418.6 541.0,421.5 542.8,425.3C544.6,429.2 546.9,434.3 548.2,438.4C549.5,442.5 550.2,445.4 550.5,449.9C550.7,454.4 550.4,460.1 549.7,465.2C549.1,470.4 547.9,475.5 546.7,480.6C545.4,485.7 543.8,491.5 542.0,495.9C540.3,500.4 538.6,504.6 535.9,507.5C533.2,510.3 529.3,511.7 525.9,512.8C522.6,514.0 519.0,514.6 516.0,514.4C512.9,514.1 509.2,512.8 507.5,511.3C505.9,509.8 506.1,507.7 506.0,505.2C505.9,502.6 507.5,500.0 506.7,495.9C506.0,491.9 502.7,487.0 501.4,480.6C500.1,474.2 499.2,465.2 499.1,457.6C498.9,449.9 499.8,442.2 500.6,434.5C501.4,426.9 502.7,417.2 503.7,411.5C504.7,405.9 505.2,402.7 506.7,400.8Z" fill="url(#dshR)"/><g transform="translate(1190.0,138.0) scale(1.3400,1.3396)"><path d="M0.5,43.6C1.5,38.8 3.2,28.1 6.6,22.1C10.0,16.1 16.1,11.2 20.9,7.8C25.7,4.4 29.7,3.2 35.2,2.0C40.7,0.8 48.3,0.5 53.8,0.6C59.3,0.7 63.3,1.4 68.1,2.8C72.9,4.2 78.4,6.5 82.5,9.2C86.6,11.9 89.9,15.6 92.5,19.2C95.1,22.8 97.0,26.6 98.2,30.7C99.4,34.8 99.5,39.6 99.6,43.6C99.7,47.6 99.6,51.0 98.9,55.0C98.2,59.0 97.2,64.1 95.4,67.9C93.6,71.7 91.1,75.3 88.2,77.9C85.3,80.5 81.9,82.5 78.1,83.7C74.3,84.9 69.6,85.3 65.3,85.1C61.0,84.8 56.5,83.6 52.4,82.2C48.3,80.8 44.5,78.4 40.9,76.5C37.3,74.6 33.5,72.6 30.9,70.7C28.3,68.8 28.0,66.4 25.1,65.0C22.2,63.6 17.0,63.4 13.7,62.2C10.4,61.0 7.2,59.7 5.1,57.8C2.9,55.9 1.6,53.1 0.8,50.7C0.0,48.3 -0.5,48.4 0.5,43.6Z" fill="#f6f6f6" filter="url(#gshadow)"/><path d="M26.0,66.0C26.5,64.5 30.7,62.3 34.0,62.0C37.3,61.7 42.3,62.7 46.0,64.0C49.7,65.3 53.7,67.7 56.0,70.0C58.3,72.3 60.7,76.0 60.0,78.0C59.3,80.0 55.2,82.5 52.0,82.2C48.8,82.0 44.4,78.4 40.9,76.5C37.4,74.6 33.4,72.5 30.9,70.7C28.4,69.0 25.5,67.5 26.0,66.0Z" fill="#ededed"/></g><g transform="translate(1376.0,136.9) scale(1.2000,1.2056)"><path d="M0.5,43.6C1.5,38.8 3.2,28.1 6.6,22.1C10.0,16.1 16.1,11.2 20.9,7.8C25.7,4.4 29.7,3.2 35.2,2.0C40.7,0.8 48.3,0.5 53.8,0.6C59.3,0.7 63.3,1.4 68.1,2.8C72.9,4.2 78.4,6.5 82.5,9.2C86.6,11.9 89.9,15.6 92.5,19.2C95.1,22.8 97.0,26.6 98.2,30.7C99.4,34.8 99.5,39.6 99.6,43.6C99.7,47.6 99.6,51.0 98.9,55.0C98.2,59.0 97.2,64.1 95.4,67.9C93.6,71.7 91.1,75.3 88.2,77.9C85.3,80.5 81.9,82.5 78.1,83.7C74.3,84.9 69.6,85.3 65.3,85.1C61.0,84.8 56.5,83.6 52.4,82.2C48.3,80.8 44.5,78.4 40.9,76.5C37.3,74.6 33.5,72.6 30.9,70.7C28.3,68.8 28.0,66.4 25.1,65.0C22.2,63.6 17.0,63.4 13.7,62.2C10.4,61.0 7.2,59.7 5.1,57.8C2.9,55.9 1.6,53.1 0.8,50.7C0.0,48.3 -0.5,48.4 0.5,43.6Z" fill="#f6f6f6" filter="url(#gshadow)"/><path d="M26.0,66.0C26.5,64.5 30.7,62.3 34.0,62.0C37.3,61.7 42.3,62.7 46.0,64.0C49.7,65.3 53.7,67.7 56.0,70.0C58.3,72.3 60.7,76.0 60.0,78.0C59.3,80.0 55.2,82.5 52.0,82.2C48.8,82.0 44.4,78.4 40.9,76.5C37.4,74.6 33.4,72.5 30.9,70.7C28.4,69.0 25.5,67.5 26.0,66.0Z" fill="#ededed"/></g><g transform="translate(1546.0,134.0) scale(1.2400,1.1986)"><path d="M0.5,43.6C1.5,38.8 3.2,28.1 6.6,22.1C10.0,16.1 16.1,11.2 20.9,7.8C25.7,4.4 29.7,3.2 35.2,2.0C40.7,0.8 48.3,0.5 53.8,0.6C59.3,0.7 63.3,1.4 68.1,2.8C72.9,4.2 78.4,6.5 82.5,9.2C86.6,11.9 89.9,15.6 92.5,19.2C95.1,22.8 97.0,26.6 98.2,30.7C99.4,34.8 99.5,39.6 99.6,43.6C99.7,47.6 99.6,51.0 98.9,55.0C98.2,59.0 97.2,64.1 95.4,67.9C93.6,71.7 91.1,75.3 88.2,77.9C85.3,80.5 81.9,82.5 78.1,83.7C74.3,84.9 69.6,85.3 65.3,85.1C61.0,84.8 56.5,83.6 52.4,82.2C48.3,80.8 44.5,78.4 40.9,76.5C37.3,74.6 33.5,72.6 30.9,70.7C28.3,68.8 28.0,66.4 25.1,65.0C22.2,63.6 17.0,63.4 13.7,62.2C10.4,61.0 7.2,59.7 5.1,57.8C2.9,55.9 1.6,53.1 0.8,50.7C0.0,48.3 -0.5,48.4 0.5,43.6Z" fill="#f6f6f6" filter="url(#gshadow)"/><path d="M26.0,66.0C26.5,64.5 30.7,62.3 34.0,62.0C37.3,61.7 42.3,62.7 46.0,64.0C49.7,65.3 53.7,67.7 56.0,70.0C58.3,72.3 60.7,76.0 60.0,78.0C59.3,80.0 55.2,82.5 52.0,82.2C48.8,82.0 44.4,78.4 40.9,76.5C37.4,74.6 33.4,72.5 30.9,70.7C28.4,69.0 25.5,67.5 26.0,66.0Z" fill="#ededed"/></g><path d="M1196,208 C1212,198 1236,188 1258,180 C1274,174 1286,170 1297,164 L1294,150 C1284,156 1272,158 1256,162 C1236,168 1214,176 1199,188 Z" fill="#8c1b1b" opacity="0.92"/><path d="M1231.4,180.1L1223.7,157.6 M1251.3,173.5L1251.4,160.4 M1204.4,192.4L1196.2,186.9 M1240.9,180.4L1237.9,166.5 M1259.9,173.6L1258.2,151.2 M1292.8,155.2L1288.3,128.1 M1214.5,186.6L1209.3,174.5 M1217.9,188.0L1205.8,175.2 M1252.5,171.2L1249.5,158.5 M1264.9,168.5L1266.1,150.9 M1243.6,176.2L1247.6,150.2 M1223.9,185.6L1230.0,165.0 M1269.5,165.8L1261.0,137.4 M1240.3,180.2L1240.1,165.5 M1204.6,193.8L1193.7,177.8 M1283.3,160.5L1285.1,136.1 M1255.5,172.4L1264.6,146.8 M1245.5,177.6L1247.5,164.6 M1261.8,173.1L1257.4,146.7 M1237.2,180.9L1236.9,168.5 M1216.7,185.7L1212.5,176.8 M1213.1,187.9L1208.0,174.6 M1208.5,190.9L1202.8,175.5 M1278.0,165.9L1276.9,148.9 M1234.7,183.2L1226.9,155.0 M1217.5,186.1L1210.0,176.5 M1256.3,170.9L1255.6,158.8 M1235.7,180.9L1239.9,152.0 M1249.4,175.7L1241.3,153.0 M1285.5,162.4L1291.8,135.4 M1237.8,179.0L1239.3,165.2 M1206.8,189.3L1197.4,182.2 M1232.9,178.9L1229.7,167.3 M1210.5,189.6L1207.2,180.9 M1258.7,169.3L1256.8,152.8 M1235.2,178.4L1245.3,153.1 M1244.8,176.8L1240.7,163.9 M1233.2,180.1L1226.2,154.1 M1203.1,196.1L1190.1,186.5 M1252.0,171.2L1259.7,151.1 M1282.1,163.3L1280.4,146.7 M1216.6,189.7L1209.8,175.0 M1231.9,180.3L1241.6,155.5 M1281.1,164.3L1286.0,138.0 M1222.3,185.9L1206.5,176.3 M1203.5,191.9L1197.5,180.9 M1290.9,158.3L1301.5,131.4 M1290.8,157.9L1287.4,142.2 M1219.4,185.1L1211.7,163.2 M1280.0,162.8L1285.4,139.7 M1208.9,192.0L1200.0,172.7 M1271.5,166.2L1274.8,151.3 M1232.2,183.7L1229.8,154.3 M1238.7,182.0L1232.4,157.7 M1212.9,187.4L1204.3,168.0 M1214.7,190.8L1203.4,171.6 M1233.9,181.5L1228.7,168.1 M1292.3,159.0L1299.3,138.7 M1241.7,180.3L1235.8,154.1 M1224.6,183.6L1225.7,167.3 M1225.3,184.1L1229.8,170.4 M1234.2,180.8L1241.1,159.4 M1240.5,181.1L1241.0,160.1 M1250.2,171.9L1245.4,152.5 M1201.3,195.9L1194.2,187.0 M1269.1,167.6L1269.4,149.7 M1253.2,175.3L1253.8,161.4 M1224.3,183.6L1224.5,157.7 M1253.8,174.9L1252.5,146.5 M1258.5,171.5L1261.7,150.5" fill="none" stroke="#8e1d1d" stroke-width="2.6" stroke-linecap="round" opacity="0.85"/><path d="M1231.4,180.1L1223.7,157.6 M1240.9,180.4L1237.9,166.5 M1214.5,186.6L1209.3,174.5 M1264.9,168.5L1266.1,150.9 M1269.5,165.8L1261.0,137.4 M1283.3,160.5L1285.1,136.1 M1261.8,173.1L1257.4,146.7 M1213.1,187.9L1208.0,174.6 M1234.7,183.2L1226.9,155.0 M1235.7,180.9L1239.9,152.0 M1237.8,179.0L1239.3,165.2 M1210.5,189.6L1207.2,180.9 M1244.8,176.8L1240.7,163.9 M1252.0,171.2L1259.7,151.1 M1231.9,180.3L1241.6,155.5 M1203.5,191.9L1197.5,180.9 M1219.4,185.1L1211.7,163.2 M1271.5,166.2L1274.8,151.3 M1212.9,187.4L1204.3,168.0 M1292.3,159.0L1299.3,138.7 M1225.3,184.1L1229.8,170.4 M1250.2,171.9L1245.4,152.5 M1253.2,175.3L1253.8,161.4 M1258.5,171.5L1261.7,150.5" fill="none" stroke="#b54545" stroke-width="0.9" opacity="0.8"/><path d="M1199.2,200.7 C1225,188.5 1260,174.7 1295,162.8" fill="none" stroke="#b03535" stroke-width="0.9" opacity="0.8"/><path d="M1201.6,200.9 C1225,188.8 1260,174.8 1295,162.9" fill="none" stroke="#b03535" stroke-width="0.9" opacity="0.8"/><path d="M1201.3,202.2 C1225,191.0 1260,176.4 1295,163.8" fill="none" stroke="#b03535" stroke-width="0.9" opacity="0.8"/><path d="M1197.6,203.7 C1225,193.4 1260,178.1 1295,164.8" fill="none" stroke="#b03535" stroke-width="0.9" opacity="0.8"/><path d="M1201.7,201.4 C1225,189.6 1260,175.4 1295,163.2" fill="none" stroke="#b03535" stroke-width="0.9" opacity="0.8"/><path d="M1196.8,203.0 C1225,192.4 1260,177.4 1295,164.4" fill="none" stroke="#b03535" stroke-width="0.9" opacity="0.8"/><path d="M1198.7,198.7 C1225,185.2 1260,172.4 1295,161.5" fill="none" stroke="#b03535" stroke-width="0.9" opacity="0.8"/><path d="M1197.4,198.4 C1225,184.7 1260,172.0 1295,161.3" fill="none" stroke="#b03535" stroke-width="0.9" opacity="0.8"/><path d="M1200.0,198.4 C1225,184.7 1260,172.0 1295,161.3" fill="none" stroke="#b03535" stroke-width="0.9" opacity="0.8"/><path d="M1201.4,202.7 C1225,191.8 1260,177.0 1295,164.1" fill="none" stroke="#b03535" stroke-width="0.9" opacity="0.8"/><path d="M1434,216 C1440,208 1446,200 1452,192 C1456,186 1457,180 1460,174 C1463,166 1466,160 1470,152 L1474,156 L1478,160 C1472,166 1468,172 1465,180 C1462,188 1458,194 1454,200 C1448,207 1442,213 1437,218 Z" fill="#5a84b2" stroke="#3f6894" stroke-width="0.8"/><path d="M1641,193 L1642,184 L1646,176 L1650,168 L1652,160 L1655,166 L1660,172 L1662,180 L1657,186 L1656,194 L1649,196 Z" fill="#3e8c3e" stroke="#2a6a2a" stroke-width="0.8"/><g transform="translate(1012.0,389.7) scale(1.1900,1.1892)"><use href="#nslatS" fill="#ddd" filter="url(#wsurf)"/><g clip-path="url(#nslatC)"><path d="M14,52 C24,47 34,44 44,42 C52,40 58,36 63,30 M30,68 C42,60 58,54 78,48 M52,36 C56,26 58,16 60,6" fill="none" stroke="#000" stroke-opacity="0.26" stroke-width="3.5" filter="url(#soft)"/><path d="M22.0,30.4C24.0,29.2 27.7,25.7 34.0,23.4C40.3,21.0 52.3,16.4 60.0,16.4C67.7,16.4 76.7,22.2 80.0,23.4" fill="none" stroke="#f0a080" stroke-width="9" stroke-linecap="round" opacity="0.45"/><path d="M31.2,10.4C31.8,11.8 33.6,15.6 35.0,18.7C36.4,21.8 38.8,27.4 39.6,29.1" fill="none" stroke="#c8101c" stroke-width="4.2" stroke-linecap="round" stroke-linejoin="round"/><path d="M41.7,4.2C41.4,6.2 40.7,11.9 40.0,16.4C39.3,20.8 37.9,28.6 37.5,31.1" fill="none" stroke="#c8101c" stroke-width="4.2" stroke-linecap="round" stroke-linejoin="round"/><path d="M52.1,4.2C51.9,5.8 51.4,10.9 51.0,14.0C50.6,17.1 50.2,21.3 50.0,22.8" fill="none" stroke="#c8101c" stroke-width="4.2" stroke-linecap="round" stroke-linejoin="round"/><path d="M58.3,6.2C59.0,7.9 61.8,14.9 62.5,16.6" fill="none" stroke="#c8101c" stroke-width="4.2" stroke-linecap="round" stroke-linejoin="round"/><path d="M66.7,18.7C67.9,18.7 71.6,18.4 74.0,18.7C76.4,19.1 80.0,20.5 81.2,20.8" fill="none" stroke="#c8101c" stroke-width="4.2" stroke-linecap="round" stroke-linejoin="round"/></g><use href="#nslatS" fill="url(#shadeL)"/></g><g transform="translate(1272.6,388.4) scale(-1.2210,1.2337)"><use href="#nslatS" fill="#ddd" filter="url(#wsurf)"/><g clip-path="url(#nslatC)"><path d="M14,52 C24,47 34,44 44,42 C52,40 58,36 63,30 M30,68 C42,60 58,54 78,48 M52,36 C56,26 58,16 60,6" fill="none" stroke="#000" stroke-opacity="0.26" stroke-width="3.5" filter="url(#soft)"/><path d="M80.0,23.4C75.0,21.8 59.2,11.3 50.0,14.0C40.8,16.8 31.3,33.9 25.0,39.7C18.7,45.6 14.2,47.5 12.0,49.1" fill="none" stroke="#f0a080" stroke-width="9" stroke-linecap="round" opacity="0.45"/><path d="M81.8,16.6C79.8,14.9 71.7,7.9 69.7,6.2" fill="none" stroke="#c8101c" stroke-width="4.2" stroke-linecap="round" stroke-linejoin="round"/><path d="M83.8,20.8C81.8,21.0 75.7,21.9 72.0,22.2C68.3,22.5 63.3,22.7 61.6,22.8" fill="none" stroke="#c8101c" stroke-width="4.2" stroke-linecap="round" stroke-linejoin="round"/><path d="M47.5,4.2C46.6,5.8 43.7,10.6 42.0,14.0C40.3,17.5 38.2,23.1 37.4,24.9" fill="none" stroke="#c8101c" stroke-width="4.2" stroke-linecap="round" stroke-linejoin="round"/><path d="M41.4,10.4C39.5,13.0 33.4,20.5 30.0,25.7C26.6,30.9 22.7,38.9 21.2,41.5" fill="none" stroke="#c8101c" stroke-width="4.2" stroke-linecap="round" stroke-linejoin="round"/></g><use href="#nslatS" fill="url(#shadeL)"/></g><g transform="translate(1435.5,381.0) scale(-1.2850,1.3084)"><use href="#nsmedS" fill="#ddd" filter="url(#wsurf)"/><g clip-path="url(#nsmedC)"><path d="M34,50 C42,40 56,37 70,38 C80,42 82,52 76,60 M20,24 C35,12 55,9 75,16" fill="none" stroke="#000" stroke-opacity="0.26" stroke-width="3.5" filter="url(#soft)"/><path d="M18.3,15.3C18.6,18.5 19.9,31.2 20.2,34.4" fill="none" stroke="#c8101c" stroke-width="4.2" stroke-linecap="round" stroke-linejoin="round"/><path d="M31.7,49.6C33.0,52.4 36.2,62.0 39.4,66.8C42.6,71.5 49.1,76.3 51.0,78.2" fill="none" stroke="#c8101c" stroke-width="4.2" stroke-linecap="round" stroke-linejoin="round"/></g><use href="#nsmedS" fill="url(#shadeL)"/></g><g transform="translate(1447.9,382.9) scale(1.3550,1.3217)"><use href="#nsmedS" fill="#ddd" filter="url(#wsurf)"/><g clip-path="url(#nsmedC)"><path d="M34,50 C42,40 56,37 70,38 C80,42 82,52 76,60 M20,24 C35,12 55,9 75,16" fill="none" stroke="#000" stroke-opacity="0.26" stroke-width="3.5" filter="url(#soft)"/><path d="M15.0,21.0C15.4,21.8 16.7,23.8 17.2,25.7C17.7,27.7 17.9,31.6 18.0,32.7" fill="none" stroke="#c8101c" stroke-width="4.2" stroke-linecap="round" stroke-linejoin="round"/><path d="M35.2,57.3C36.8,59.4 41.7,66.2 45.0,70.1C48.3,74.1 53.5,79.2 55.2,81.0" fill="none" stroke="#c8101c" stroke-width="4.2" stroke-linecap="round" stroke-linejoin="round"/></g><use href="#nsmedS" fill="url(#shadeL)"/></g><g transform="translate(1624.2,376.0) scale(1.3160,1.3578)"><use href="#nslatS" fill="#ddd" filter="url(#wsurf)"/><g clip-path="url(#nslatC)"><path d="M14,52 C24,47 34,44 44,42 C52,40 58,36 63,30 M30,68 C42,60 58,54 78,48 M52,36 C56,26 58,16 60,6" fill="none" stroke="#000" stroke-opacity="0.26" stroke-width="3.5" filter="url(#soft)"/><path d="M93.5,37.4C93.8,39.9 94.7,48.1 95.0,52.6C95.3,57.1 95.4,62.3 95.5,64.3" fill="none" stroke="#c8101c" stroke-width="7" stroke-linecap="round" stroke-linejoin="round"/></g><use href="#nslatS" fill="url(#shadeL)"/></g><g transform="translate(1907.1,378.0) scale(-1.3080,1.3651)"><use href="#nslatS" fill="#ddd" filter="url(#wsurf)"/><g clip-path="url(#nslatC)"><path d="M14,52 C24,47 34,44 44,42 C52,40 58,36 63,30 M30,68 C42,60 58,54 78,48 M52,36 C56,26 58,16 60,6" fill="none" stroke="#000" stroke-opacity="0.26" stroke-width="3.5" filter="url(#soft)"/><path d="M95.0,28.1C94.7,30.8 93.4,39.0 93.0,44.4C92.6,49.9 92.6,58.1 92.5,60.8" fill="none" stroke="#c8101c" stroke-width="7" stroke-linecap="round" stroke-linejoin="round"/></g><use href="#nslatS" fill="url(#shadeL)"/></g><g transform="translate(1271.5,1688.0) scale(1.5090,1.5141)"><use href="#latS" fill="#888" filter="url(#gsurf)"/><g clip-path="url(#latC)"><path d="M14.0,50.0C16.3,49.2 23.7,46.3 28.0,45.0C32.3,43.7 36.0,43.3 40.0,42.0C44.0,40.7 48.3,39.0 52.0,37.0C55.7,35.0 60.3,31.2 62.0,30.0" fill="none" stroke="#4a4a4a" stroke-width="0.9" stroke-opacity="0.85"/><path d="M48.0,2.0C47.7,3.7 46.7,8.7 46.0,12.0C45.3,15.3 44.8,18.0 44.0,22.0C43.2,26.0 41.5,33.7 41.0,36.0" fill="none" stroke="#4a4a4a" stroke-width="0.9" stroke-opacity="0.85"/><path d="M56.0,3.0C55.8,4.8 55.5,10.5 55.0,14.0C54.5,17.5 53.8,20.5 53.0,24.0C52.2,27.5 50.5,33.2 50.0,35.0" fill="none" stroke="#4a4a4a" stroke-width="0.9" stroke-opacity="0.85"/><path d="M8.0,26.0C9.7,24.7 14.3,20.5 18.0,18.0C21.7,15.5 28.0,12.2 30.0,11.0" fill="none" stroke="#4a4a4a" stroke-width="0.9" stroke-opacity="0.85"/><path d="M6.0,38.0C7.7,37.2 12.7,34.3 16.0,33.0C19.3,31.7 22.3,30.5 26.0,30.0C29.7,29.5 36.0,30.0 38.0,30.0" fill="none" stroke="#4a4a4a" stroke-width="0.9" stroke-opacity="0.85"/><path d="M28.0,60.0C30.0,59.0 36.0,55.7 40.0,54.0C44.0,52.3 48.0,51.3 52.0,50.0C56.0,48.7 60.0,47.3 64.0,46.0C68.0,44.7 74.0,42.7 76.0,42.0" fill="none" stroke="#4a4a4a" stroke-width="0.9" stroke-opacity="0.85"/><path d="M36.0,67.0C38.3,66.0 45.3,62.8 50.0,61.0C54.7,59.2 59.0,57.8 64.0,56.0C69.0,54.2 75.7,51.5 80.0,50.0C84.3,48.5 88.3,47.5 90.0,47.0" fill="none" stroke="#4a4a4a" stroke-width="0.9" stroke-opacity="0.85"/><path d="M60.0,16.0C61.7,16.8 66.7,19.2 70.0,21.0C73.3,22.8 77.0,25.2 80.0,27.0C83.0,28.8 86.7,31.2 88.0,32.0" fill="none" stroke="#4a4a4a" stroke-width="0.9" stroke-opacity="0.85"/><path d="M88.0,18.0C88.5,19.7 90.2,24.7 91.0,28.0C91.8,31.3 92.7,36.3 93.0,38.0" fill="none" stroke="#4a4a4a" stroke-width="0.9" stroke-opacity="0.85"/><path d="M20.0,8.0C20.7,10.0 23.7,16.0 24.0,20.0C24.3,24.0 22.3,30.0 22.0,32.0" fill="none" stroke="#4a4a4a" stroke-width="0.9" stroke-opacity="0.85"/><path d="M66.0,6.0C66.7,7.0 68.0,10.7 70.0,12.0C72.0,13.3 76.7,13.7 78.0,14.0" fill="none" stroke="#4a4a4a" stroke-width="0.9" stroke-opacity="0.85"/><path d="M0.6,44.6C1.9,44.1 5.2,45.9 9.1,46.9C13.0,47.8 20.6,48.2 24.0,50.3C27.4,52.4 28.8,56.8 29.7,59.4C30.7,62.1 28.2,64.4 29.7,66.3C31.2,68.2 35.4,70.9 38.9,70.9C42.3,70.9 49.5,67.4 50.3,66.3C51.0,65.1 46.5,64.8 43.4,64.0C40.4,63.2 35.0,62.9 32.0,61.7C29.0,60.6 27.8,57.8 25.1,57.1C22.5,56.5 19.0,58.0 16.0,57.7C13.0,57.4 9.3,56.8 6.9,55.4C4.4,54.1 2.2,51.5 1.1,49.7C0.1,47.9 -0.8,45.0 0.6,44.6Z" fill="none" stroke="#e0603a" stroke-width="0.75"/><path d="M9.1,30.9C11.0,27.6 15.4,24.8 18.3,22.9C21.1,21.0 23.6,20.0 26.3,19.4C29.0,18.9 32.6,18.7 34.3,19.4C36.0,20.2 36.8,22.1 36.6,24.0C36.4,25.9 34.5,28.8 33.1,30.9C31.8,33.0 30.5,34.9 28.6,36.6C26.7,38.3 24.6,39.4 21.7,41.1C18.9,42.9 13.9,46.7 11.4,46.9C9.0,47.0 7.2,45.0 6.9,42.3C6.5,39.6 7.2,34.1 9.1,30.9Z" fill="none" stroke="#a050d0" stroke-width="0.75"/><path d="M61.7,17.7C62.5,16.7 67.2,16.9 68.6,17.7C69.9,18.6 70.5,21.8 69.7,22.9C69.0,23.9 65.3,24.9 64.0,24.0C62.7,23.1 61.0,18.8 61.7,17.7Z" fill="none" stroke="#2e6e50" stroke-width="0.75"/><path d="M64.0,48.0C65.0,46.3 72.4,43.8 74.3,44.6C76.2,45.3 76.4,50.9 75.4,52.6C74.5,54.3 70.5,55.6 68.6,54.9C66.7,54.1 63.0,49.7 64.0,48.0Z" fill="none" stroke="#e0603a" stroke-width="0.75"/><path d="M38.9,5.7C40.8,3.9 45.5,2.6 49.1,1.7C52.8,0.9 57.1,0.1 60.6,0.6C64.0,1.0 68.4,2.4 69.7,4.6C71.1,6.8 70.3,11.2 68.6,13.7C66.9,16.2 61.3,17.1 59.4,19.4C57.5,21.7 56.4,25.5 57.1,27.4C57.9,29.3 61.9,29.3 64.0,30.9C66.1,32.4 67.8,35.4 69.7,36.6C71.6,37.7 74.7,37.0 75.4,37.7C76.2,38.5 76.2,40.2 74.3,41.1C72.4,42.1 67.6,42.5 64.0,43.4C60.4,44.4 56.0,46.1 52.6,46.9C49.1,47.6 46.5,48.6 43.4,48.0C40.4,47.4 36.0,45.3 34.3,43.4C32.6,41.5 32.6,38.9 33.1,36.6C33.7,34.3 36.6,32.4 37.7,29.7C38.9,27.0 40.0,23.4 40.0,20.6C40.0,17.7 37.9,15.0 37.7,12.6C37.5,10.1 37.0,7.5 38.9,5.7Z" fill="none" stroke="#9a4ad0" stroke-width="0.75"/><path d="M50.3,27.4C51.6,25.3 54.7,23.8 57.1,22.9C59.6,21.9 63.2,21.1 65.1,21.7C67.1,22.3 68.4,24.4 68.6,26.3C68.8,28.2 65.9,31.4 66.3,33.1C66.7,34.9 71.2,35.6 70.9,36.6C70.5,37.5 66.7,38.5 64.0,38.9C61.3,39.2 57.3,39.4 54.9,38.9C52.4,38.3 49.9,37.3 49.1,35.4C48.4,33.5 49.0,29.5 50.3,27.4Z" fill="none" stroke="#e07040" stroke-width="0.75"/><path d="M24.0,40.0C25.3,38.3 31.0,36.0 33.1,36.6C35.2,37.1 36.8,41.5 36.6,43.4C36.4,45.3 33.9,47.4 32.0,48.0C30.1,48.6 26.5,48.2 25.1,46.9C23.8,45.5 22.7,41.7 24.0,40.0Z" fill="none" stroke="#3a7a5a" stroke-width="0.75"/><path d="M14.3,23.1C14.9,22.2 18.0,21.9 18.9,22.6C19.8,23.4 20.2,26.5 19.7,27.4C19.1,28.3 16.3,28.7 15.4,28.0C14.5,27.3 13.7,24.0 14.3,23.1Z" fill="none" stroke="#c050c0" stroke-width="0.75"/><path d="M64.0,5.7C65.7,4.4 70.3,3.2 73.1,4.6C76.0,5.9 80.4,11.4 81.1,13.7C81.9,16.0 79.8,17.7 77.7,18.3C75.6,18.9 71.1,18.1 68.6,17.1C66.1,16.2 63.6,14.5 62.9,12.6C62.1,10.7 62.3,7.0 64.0,5.7Z" fill="none" stroke="#e06040" stroke-width="0.75"/><path d="M77.7,27.4C79.4,25.7 84.2,25.5 85.7,26.3C87.2,27.0 87.4,29.5 86.9,32.0C86.3,34.5 83.6,37.9 82.3,41.1C81.0,44.4 80.2,49.5 78.9,51.4C77.5,53.3 75.2,53.7 74.3,52.6C73.3,51.4 73.0,47.2 73.1,44.6C73.3,41.9 74.7,39.4 75.4,36.6C76.2,33.7 76.0,29.1 77.7,27.4Z" fill="none" stroke="#507a40" stroke-width="0.75"/><path d="M35.4,6.9C36.0,5.4 41.0,5.1 42.3,6.3C43.6,7.4 44.0,12.3 43.4,13.7C42.9,15.1 40.2,16.0 38.9,14.9C37.5,13.7 34.9,8.3 35.4,6.9Z" fill="none" stroke="#e0603a" stroke-width="0.75"/><path d="M85.7,19.4C86.2,19.3 89.6,24.1 91.4,26.3C93.2,28.5 95.2,30.5 96.6,32.6C97.9,34.7 99.1,36.9 99.7,38.9C100.2,40.9 100.2,42.9 100.0,44.6C99.8,46.3 100.5,48.1 98.3,49.1C96.1,50.2 89.8,50.3 86.9,50.9C83.9,51.4 81.5,54.0 80.6,52.6C79.7,51.1 80.6,45.3 81.4,42.3C82.1,39.2 83.9,36.9 85.1,34.3C86.3,31.7 88.5,29.3 88.6,26.9C88.7,24.4 85.2,19.5 85.7,19.4Z" fill="none" stroke="#a050d0" stroke-width="0.75"/><ellipse cx="41" cy="22" rx="5" ry="19" transform="rotate(20 41 22)" fill="#f2f000"/><ellipse cx="14" cy="50" rx="9" ry="4" transform="rotate(-15 14 50)" fill="#f2f000"/><ellipse cx="36" cy="52" rx="5" ry="7" transform="rotate(0 36 52)" fill="#f2f000"/><ellipse cx="63" cy="32" rx="6" ry="4" transform="rotate(-30 63 32)" fill="#f2f000"/><ellipse cx="70" cy="21" rx="4" ry="5" transform="rotate(0 70 21)" fill="#f2f000"/><ellipse cx="88" cy="28" rx="5" ry="4" transform="rotate(20 88 28)" fill="#f2f000"/><ellipse cx="73" cy="45" rx="6" ry="2.5" transform="rotate(-10 73 45)" fill="#f2f000"/><ellipse cx="24" cy="20" rx="4" ry="2.5" transform="rotate(0 24 20)" fill="#f2f000"/><ellipse cx="50" cy="12" rx="3" ry="6" transform="rotate(15 50 12)" fill="#f2f000"/></g><use href="#latS" fill="none" stroke="#444" stroke-width="0.6"/></g><g transform="translate(1425.4,1688.0) scale(1.4910,1.5141)"><use href="#medS" fill="#888" filter="url(#gsurf)"/><g clip-path="url(#medC)"><path d="M33.7,36.3C34.3,33.9 35.8,32.2 38.3,30.6C40.8,29.1 44.6,27.8 48.6,27.2C52.6,26.6 57.7,26.8 62.3,27.2C66.9,27.6 72.8,28.0 76.0,29.5C79.2,31.0 81.0,34.2 81.7,36.3C82.5,38.4 82.3,40.5 80.6,42.1C78.9,43.6 73.5,43.8 71.4,45.5C69.3,47.2 68.0,49.7 68.0,52.3C68.0,55.0 72.0,59.2 71.4,61.5C70.9,63.8 67.2,65.9 64.6,66.1C61.9,66.3 57.7,64.2 55.4,62.6C53.1,61.1 53.1,58.6 50.9,56.9C48.6,55.2 44.4,54.2 41.7,52.3C39.0,50.4 36.2,48.2 34.9,45.5C33.5,42.8 33.1,38.8 33.7,36.3Z" fill="#8a8a8a" stroke="#555" stroke-width="0.6"/><path d="M30.0,31.0C32.0,29.8 37.8,25.7 42.0,24.0C46.2,22.3 50.7,21.2 55.0,21.0C59.3,20.8 63.8,21.7 68.0,23.0C72.2,24.3 76.7,26.5 80.0,29.0C83.3,31.5 86.7,36.5 88.0,38.0" fill="none" stroke="#4a4a4a" stroke-width="0.9" stroke-opacity="0.85"/><path d="M25.0,10.0C24.7,12.0 23.2,18.0 23.0,22.0C22.8,26.0 23.0,30.3 24.0,34.0C25.0,37.7 28.2,42.3 29.0,44.0" fill="none" stroke="#4a4a4a" stroke-width="0.9" stroke-opacity="0.85"/><path d="M2.0,43.0C3.3,42.7 7.3,41.2 10.0,41.0C12.7,40.8 15.0,41.2 18.0,42.0C21.0,42.8 26.3,45.3 28.0,46.0" fill="none" stroke="#4a4a4a" stroke-width="0.9" stroke-opacity="0.85"/><path d="M40.0,10.0C40.7,11.0 43.3,15.0 44.0,16.0" fill="none" stroke="#4a4a4a" stroke-width="0.9" stroke-opacity="0.85"/><path d="M62.0,6.0C62.7,7.3 65.3,12.7 66.0,14.0" fill="none" stroke="#4a4a4a" stroke-width="0.9" stroke-opacity="0.85"/><path d="M85.0,52.0C86.2,51.3 90.8,48.7 92.0,48.0" fill="none" stroke="#4a4a4a" stroke-width="0.9" stroke-opacity="0.85"/><path d="M8.0,20.0C9.0,21.3 13.3,25.3 14.0,28.0C14.7,30.7 12.3,34.7 12.0,36.0" fill="none" stroke="#4a4a4a" stroke-width="0.9" stroke-opacity="0.85"/><path d="M0.6,40.9C0.8,38.1 1.5,33.9 2.9,30.6C4.2,27.4 6.7,23.7 8.6,21.5C10.5,19.3 12.6,17.7 14.3,17.5C16.0,17.3 17.5,18.9 18.9,20.3C20.2,21.8 20.8,24.3 22.3,26.1C23.8,27.8 26.1,28.5 28.0,30.6C29.9,32.7 32.2,36.0 33.7,38.6C35.2,41.3 36.0,44.0 37.1,46.6C38.3,49.3 41.7,53.5 40.6,54.6C39.4,55.8 33.9,54.1 30.3,53.5C26.7,52.9 22.7,51.7 18.9,51.2C15.0,50.7 10.3,51.2 7.4,50.6C4.6,50.1 2.9,49.4 1.7,47.8C0.6,46.2 0.4,43.8 0.6,40.9Z" fill="none" stroke="#e0603a" stroke-width="0.75"/><path d="M20.0,10.1C21.1,8.7 25.0,6.2 26.9,5.5C28.8,4.7 30.9,4.3 31.4,5.5C32.0,6.6 31.4,10.8 30.3,12.3C29.1,13.9 26.3,14.4 24.6,14.6C22.9,14.8 20.8,14.2 20.0,13.5C19.2,12.7 18.9,11.4 20.0,10.1Z" fill="none" stroke="#a050d0" stroke-width="0.75"/><path d="M30.3,3.8C31.5,1.6 35.6,1.2 39.4,0.7C43.2,0.2 49.7,0.3 53.1,0.9C56.6,1.5 59.0,2.2 60.0,4.3C61.0,6.4 59.6,11.3 58.9,13.5C58.1,15.7 57.7,16.5 55.4,17.5C53.1,18.4 48.2,19.1 45.1,19.2C42.1,19.3 39.3,19.0 37.1,18.1C35.0,17.1 33.1,15.9 32.0,13.5C30.9,11.1 29.0,5.9 30.3,3.8Z" fill="none" stroke="#2e6e50" stroke-width="0.75"/><path d="M57.7,4.3C58.7,3.0 62.3,4.2 64.6,5.5C66.9,6.8 69.5,10.1 71.4,12.3C73.3,14.6 74.9,16.7 76.0,19.2C77.1,21.7 78.7,25.5 78.3,27.2C77.9,28.9 75.4,29.9 73.7,29.5C72.0,29.1 69.9,26.4 68.0,24.9C66.1,23.4 63.8,22.2 62.3,20.3C60.8,18.4 59.6,16.2 58.9,13.5C58.1,10.8 56.8,5.7 57.7,4.3Z" fill="none" stroke="#e0603a" stroke-width="0.75"/><path d="M30.3,13.5C30.9,13.1 33.0,14.6 34.9,15.8C36.8,16.9 41.5,19.2 41.7,20.3C41.9,21.5 37.7,23.0 36.0,22.6C34.3,22.2 32.4,19.6 31.4,18.1C30.5,16.5 29.7,13.9 30.3,13.5Z" fill="none" stroke="#9a4ad0" stroke-width="0.75"/><path d="M65.7,11.2C66.1,10.4 71.2,13.1 73.7,14.6C76.2,16.2 79.4,18.4 80.6,20.3C81.7,22.2 81.3,25.3 80.6,26.1C79.8,26.8 77.5,26.1 76.0,24.9C74.5,23.8 73.1,21.5 71.4,19.2C69.7,16.9 65.3,12.0 65.7,11.2Z" fill="none" stroke="#e07040" stroke-width="0.75"/><path d="M41.7,56.9C42.9,56.5 47.4,56.9 50.9,56.9C54.3,56.9 59.6,58.1 62.3,56.9C65.0,55.8 64.6,51.4 66.9,50.1C69.1,48.7 72.6,48.5 76.0,48.9C79.4,49.3 84.2,51.0 87.4,52.3C90.7,53.7 95.4,55.8 95.4,56.9C95.4,58.1 90.7,59.0 87.4,59.2C84.2,59.4 78.7,57.7 76.0,58.1C73.3,58.4 72.6,60.0 71.4,61.5C70.3,63.0 70.7,65.9 69.1,67.2C67.6,68.5 64.6,69.5 62.3,69.5C60.0,69.5 57.3,68.5 55.4,67.2C53.5,65.9 52.8,62.8 50.9,61.5C49.0,60.2 45.5,60.0 44.0,59.2C42.5,58.4 40.6,57.3 41.7,56.9Z" fill="none" stroke="#3a7a5a" stroke-width="0.75"/><ellipse cx="30" cy="20" rx="4" ry="3" transform="rotate(0 30 20)" fill="#f2f000"/><ellipse cx="42" cy="26" rx="3" ry="2" transform="rotate(0 42 26)" fill="#f2f000"/><ellipse cx="60" cy="26" rx="8" ry="2" transform="rotate(-5 60 26)" fill="#f2f000"/><ellipse cx="88" cy="45" rx="4" ry="3" transform="rotate(0 88 45)" fill="#f2f000"/><ellipse cx="10" cy="50" rx="3" ry="2" transform="rotate(0 10 50)" fill="#f2f000"/><ellipse cx="76" cy="30" rx="4" ry="2" transform="rotate(20 76 30)" fill="#f2f000"/></g><use href="#medS" fill="none" stroke="#444" stroke-width="0.6"/></g><g transform="translate(1725.3,1687.0) scale(-1.4870,1.5239)"><use href="#latS" fill="#888" filter="url(#gsurf)"/><g clip-path="url(#latC)"><path d="M14.0,50.0C16.3,49.2 23.7,46.3 28.0,45.0C32.3,43.7 36.0,43.3 40.0,42.0C44.0,40.7 48.3,39.0 52.0,37.0C55.7,35.0 60.3,31.2 62.0,30.0" fill="none" stroke="#4a4a4a" stroke-width="0.9" stroke-opacity="0.85"/><path d="M48.0,2.0C47.7,3.7 46.7,8.7 46.0,12.0C45.3,15.3 44.8,18.0 44.0,22.0C43.2,26.0 41.5,33.7 41.0,36.0" fill="none" stroke="#4a4a4a" stroke-width="0.9" stroke-opacity="0.85"/><path d="M56.0,3.0C55.8,4.8 55.5,10.5 55.0,14.0C54.5,17.5 53.8,20.5 53.0,24.0C52.2,27.5 50.5,33.2 50.0,35.0" fill="none" stroke="#4a4a4a" stroke-width="0.9" stroke-opacity="0.85"/><path d="M8.0,26.0C9.7,24.7 14.3,20.5 18.0,18.0C21.7,15.5 28.0,12.2 30.0,11.0" fill="none" stroke="#4a4a4a" stroke-width="0.9" stroke-opacity="0.85"/><path d="M6.0,38.0C7.7,37.2 12.7,34.3 16.0,33.0C19.3,31.7 22.3,30.5 26.0,30.0C29.7,29.5 36.0,30.0 38.0,30.0" fill="none" stroke="#4a4a4a" stroke-width="0.9" stroke-opacity="0.85"/><path d="M28.0,60.0C30.0,59.0 36.0,55.7 40.0,54.0C44.0,52.3 48.0,51.3 52.0,50.0C56.0,48.7 60.0,47.3 64.0,46.0C68.0,44.7 74.0,42.7 76.0,42.0" fill="none" stroke="#4a4a4a" stroke-width="0.9" stroke-opacity="0.85"/><path d="M36.0,67.0C38.3,66.0 45.3,62.8 50.0,61.0C54.7,59.2 59.0,57.8 64.0,56.0C69.0,54.2 75.7,51.5 80.0,50.0C84.3,48.5 88.3,47.5 90.0,47.0" fill="none" stroke="#4a4a4a" stroke-width="0.9" stroke-opacity="0.85"/><path d="M60.0,16.0C61.7,16.8 66.7,19.2 70.0,21.0C73.3,22.8 77.0,25.2 80.0,27.0C83.0,28.8 86.7,31.2 88.0,32.0" fill="none" stroke="#4a4a4a" stroke-width="0.9" stroke-opacity="0.85"/><path d="M88.0,18.0C88.5,19.7 90.2,24.7 91.0,28.0C91.8,31.3 92.7,36.3 93.0,38.0" fill="none" stroke="#4a4a4a" stroke-width="0.9" stroke-opacity="0.85"/><path d="M20.0,8.0C20.7,10.0 23.7,16.0 24.0,20.0C24.3,24.0 22.3,30.0 22.0,32.0" fill="none" stroke="#4a4a4a" stroke-width="0.9" stroke-opacity="0.85"/><path d="M66.0,6.0C66.7,7.0 68.0,10.7 70.0,12.0C72.0,13.3 76.7,13.7 78.0,14.0" fill="none" stroke="#4a4a4a" stroke-width="0.9" stroke-opacity="0.85"/><path d="M0.6,44.6C1.9,44.1 5.2,45.9 9.1,46.9C13.0,47.8 20.6,48.2 24.0,50.3C27.4,52.4 28.8,56.8 29.7,59.4C30.7,62.1 28.2,64.4 29.7,66.3C31.2,68.2 35.4,70.9 38.9,70.9C42.3,70.9 49.5,67.4 50.3,66.3C51.0,65.1 46.5,64.8 43.4,64.0C40.4,63.2 35.0,62.9 32.0,61.7C29.0,60.6 27.8,57.8 25.1,57.1C22.5,56.5 19.0,58.0 16.0,57.7C13.0,57.4 9.3,56.8 6.9,55.4C4.4,54.1 2.2,51.5 1.1,49.7C0.1,47.9 -0.8,45.0 0.6,44.6Z" fill="none" stroke="#e0603a" stroke-width="0.75"/><path d="M9.1,30.9C11.0,27.6 15.4,24.8 18.3,22.9C21.1,21.0 23.6,20.0 26.3,19.4C29.0,18.9 32.6,18.7 34.3,19.4C36.0,20.2 36.8,22.1 36.6,24.0C36.4,25.9 34.5,28.8 33.1,30.9C31.8,33.0 30.5,34.9 28.6,36.6C26.7,38.3 24.6,39.4 21.7,41.1C18.9,42.9 13.9,46.7 11.4,46.9C9.0,47.0 7.2,45.0 6.9,42.3C6.5,39.6 7.2,34.1 9.1,30.9Z" fill="none" stroke="#a050d0" stroke-width="0.75"/><path d="M61.7,17.7C62.5,16.7 67.2,16.9 68.6,17.7C69.9,18.6 70.5,21.8 69.7,22.9C69.0,23.9 65.3,24.9 64.0,24.0C62.7,23.1 61.0,18.8 61.7,17.7Z" fill="none" stroke="#2e6e50" stroke-width="0.75"/><path d="M64.0,48.0C65.0,46.3 72.4,43.8 74.3,44.6C76.2,45.3 76.4,50.9 75.4,52.6C74.5,54.3 70.5,55.6 68.6,54.9C66.7,54.1 63.0,49.7 64.0,48.0Z" fill="none" stroke="#e0603a" stroke-width="0.75"/><path d="M38.9,5.7C40.8,3.9 45.5,2.6 49.1,1.7C52.8,0.9 57.1,0.1 60.6,0.6C64.0,1.0 68.4,2.4 69.7,4.6C71.1,6.8 70.3,11.2 68.6,13.7C66.9,16.2 61.3,17.1 59.4,19.4C57.5,21.7 56.4,25.5 57.1,27.4C57.9,29.3 61.9,29.3 64.0,30.9C66.1,32.4 67.8,35.4 69.7,36.6C71.6,37.7 74.7,37.0 75.4,37.7C76.2,38.5 76.2,40.2 74.3,41.1C72.4,42.1 67.6,42.5 64.0,43.4C60.4,44.4 56.0,46.1 52.6,46.9C49.1,47.6 46.5,48.6 43.4,48.0C40.4,47.4 36.0,45.3 34.3,43.4C32.6,41.5 32.6,38.9 33.1,36.6C33.7,34.3 36.6,32.4 37.7,29.7C38.9,27.0 40.0,23.4 40.0,20.6C40.0,17.7 37.9,15.0 37.7,12.6C37.5,10.1 37.0,7.5 38.9,5.7Z" fill="none" stroke="#9a4ad0" stroke-width="0.75"/><path d="M50.3,27.4C51.6,25.3 54.7,23.8 57.1,22.9C59.6,21.9 63.2,21.1 65.1,21.7C67.1,22.3 68.4,24.4 68.6,26.3C68.8,28.2 65.9,31.4 66.3,33.1C66.7,34.9 71.2,35.6 70.9,36.6C70.5,37.5 66.7,38.5 64.0,38.9C61.3,39.2 57.3,39.4 54.9,38.9C52.4,38.3 49.9,37.3 49.1,35.4C48.4,33.5 49.0,29.5 50.3,27.4Z" fill="none" stroke="#e07040" stroke-width="0.75"/><path d="M24.0,40.0C25.3,38.3 31.0,36.0 33.1,36.6C35.2,37.1 36.8,41.5 36.6,43.4C36.4,45.3 33.9,47.4 32.0,48.0C30.1,48.6 26.5,48.2 25.1,46.9C23.8,45.5 22.7,41.7 24.0,40.0Z" fill="none" stroke="#3a7a5a" stroke-width="0.75"/><path d="M14.3,23.1C14.9,22.2 18.0,21.9 18.9,22.6C19.8,23.4 20.2,26.5 19.7,27.4C19.1,28.3 16.3,28.7 15.4,28.0C14.5,27.3 13.7,24.0 14.3,23.1Z" fill="none" stroke="#c050c0" stroke-width="0.75"/><path d="M64.0,5.7C65.7,4.4 70.3,3.2 73.1,4.6C76.0,5.9 80.4,11.4 81.1,13.7C81.9,16.0 79.8,17.7 77.7,18.3C75.6,18.9 71.1,18.1 68.6,17.1C66.1,16.2 63.6,14.5 62.9,12.6C62.1,10.7 62.3,7.0 64.0,5.7Z" fill="none" stroke="#e06040" stroke-width="0.75"/><path d="M77.7,27.4C79.4,25.7 84.2,25.5 85.7,26.3C87.2,27.0 87.4,29.5 86.9,32.0C86.3,34.5 83.6,37.9 82.3,41.1C81.0,44.4 80.2,49.5 78.9,51.4C77.5,53.3 75.2,53.7 74.3,52.6C73.3,51.4 73.0,47.2 73.1,44.6C73.3,41.9 74.7,39.4 75.4,36.6C76.2,33.7 76.0,29.1 77.7,27.4Z" fill="none" stroke="#507a40" stroke-width="0.75"/><path d="M35.4,6.9C36.0,5.4 41.0,5.1 42.3,6.3C43.6,7.4 44.0,12.3 43.4,13.7C42.9,15.1 40.2,16.0 38.9,14.9C37.5,13.7 34.9,8.3 35.4,6.9Z" fill="none" stroke="#e0603a" stroke-width="0.75"/><path d="M85.7,19.4C86.2,19.3 89.6,24.1 91.4,26.3C93.2,28.5 95.2,30.5 96.6,32.6C97.9,34.7 99.1,36.9 99.7,38.9C100.2,40.9 100.2,42.9 100.0,44.6C99.8,46.3 100.5,48.1 98.3,49.1C96.1,50.2 89.8,50.3 86.9,50.9C83.9,51.4 81.5,54.0 80.6,52.6C79.7,51.1 80.6,45.3 81.4,42.3C82.1,39.2 83.9,36.9 85.1,34.3C86.3,31.7 88.5,29.3 88.6,26.9C88.7,24.4 85.2,19.5 85.7,19.4Z" fill="none" stroke="#a050d0" stroke-width="0.75"/><ellipse cx="41" cy="22" rx="5" ry="19" transform="rotate(20 41 22)" fill="#f2f000"/><ellipse cx="14" cy="50" rx="9" ry="4" transform="rotate(-15 14 50)" fill="#f2f000"/><ellipse cx="36" cy="52" rx="5" ry="7" transform="rotate(0 36 52)" fill="#f2f000"/><ellipse cx="63" cy="32" rx="6" ry="4" transform="rotate(-30 63 32)" fill="#f2f000"/><ellipse cx="70" cy="21" rx="4" ry="5" transform="rotate(0 70 21)" fill="#f2f000"/><ellipse cx="88" cy="28" rx="5" ry="4" transform="rotate(20 88 28)" fill="#f2f000"/><ellipse cx="73" cy="45" rx="6" ry="2.5" transform="rotate(-10 73 45)" fill="#f2f000"/><ellipse cx="24" cy="20" rx="4" ry="2.5" transform="rotate(0 24 20)" fill="#f2f000"/><ellipse cx="50" cy="12" rx="3" ry="6" transform="rotate(15 50 12)" fill="#f2f000"/></g><use href="#latS" fill="none" stroke="#444" stroke-width="0.6"/></g><g transform="translate(1877.0,1687.0) scale(-1.4800,1.5239)"><use href="#medS" fill="#888" filter="url(#gsurf)"/><g clip-path="url(#medC)"><path d="M33.7,36.3C34.3,33.9 35.8,32.2 38.3,30.6C40.8,29.1 44.6,27.8 48.6,27.2C52.6,26.6 57.7,26.8 62.3,27.2C66.9,27.6 72.8,28.0 76.0,29.5C79.2,31.0 81.0,34.2 81.7,36.3C82.5,38.4 82.3,40.5 80.6,42.1C78.9,43.6 73.5,43.8 71.4,45.5C69.3,47.2 68.0,49.7 68.0,52.3C68.0,55.0 72.0,59.2 71.4,61.5C70.9,63.8 67.2,65.9 64.6,66.1C61.9,66.3 57.7,64.2 55.4,62.6C53.1,61.1 53.1,58.6 50.9,56.9C48.6,55.2 44.4,54.2 41.7,52.3C39.0,50.4 36.2,48.2 34.9,45.5C33.5,42.8 33.1,38.8 33.7,36.3Z" fill="#8a8a8a" stroke="#555" stroke-width="0.6"/><path d="M30.0,31.0C32.0,29.8 37.8,25.7 42.0,24.0C46.2,22.3 50.7,21.2 55.0,21.0C59.3,20.8 63.8,21.7 68.0,23.0C72.2,24.3 76.7,26.5 80.0,29.0C83.3,31.5 86.7,36.5 88.0,38.0" fill="none" stroke="#4a4a4a" stroke-width="0.9" stroke-opacity="0.85"/><path d="M25.0,10.0C24.7,12.0 23.2,18.0 23.0,22.0C22.8,26.0 23.0,30.3 24.0,34.0C25.0,37.7 28.2,42.3 29.0,44.0" fill="none" stroke="#4a4a4a" stroke-width="0.9" stroke-opacity="0.85"/><path d="M2.0,43.0C3.3,42.7 7.3,41.2 10.0,41.0C12.7,40.8 15.0,41.2 18.0,42.0C21.0,42.8 26.3,45.3 28.0,46.0" fill="none" stroke="#4a4a4a" stroke-width="0.9" stroke-opacity="0.85"/><path d="M40.0,10.0C40.7,11.0 43.3,15.0 44.0,16.0" fill="none" stroke="#4a4a4a" stroke-width="0.9" stroke-opacity="0.85"/><path d="M62.0,6.0C62.7,7.3 65.3,12.7 66.0,14.0" fill="none" stroke="#4a4a4a" stroke-width="0.9" stroke-opacity="0.85"/><path d="M85.0,52.0C86.2,51.3 90.8,48.7 92.0,48.0" fill="none" stroke="#4a4a4a" stroke-width="0.9" stroke-opacity="0.85"/><path d="M8.0,20.0C9.0,21.3 13.3,25.3 14.0,28.0C14.7,30.7 12.3,34.7 12.0,36.0" fill="none" stroke="#4a4a4a" stroke-width="0.9" stroke-opacity="0.85"/><path d="M0.6,40.9C0.8,38.1 1.5,33.9 2.9,30.6C4.2,27.4 6.7,23.7 8.6,21.5C10.5,19.3 12.6,17.7 14.3,17.5C16.0,17.3 17.5,18.9 18.9,20.3C20.2,21.8 20.8,24.3 22.3,26.1C23.8,27.8 26.1,28.5 28.0,30.6C29.9,32.7 32.2,36.0 33.7,38.6C35.2,41.3 36.0,44.0 37.1,46.6C38.3,49.3 41.7,53.5 40.6,54.6C39.4,55.8 33.9,54.1 30.3,53.5C26.7,52.9 22.7,51.7 18.9,51.2C15.0,50.7 10.3,51.2 7.4,50.6C4.6,50.1 2.9,49.4 1.7,47.8C0.6,46.2 0.4,43.8 0.6,40.9Z" fill="none" stroke="#e0603a" stroke-width="0.75"/><path d="M20.0,10.1C21.1,8.7 25.0,6.2 26.9,5.5C28.8,4.7 30.9,4.3 31.4,5.5C32.0,6.6 31.4,10.8 30.3,12.3C29.1,13.9 26.3,14.4 24.6,14.6C22.9,14.8 20.8,14.2 20.0,13.5C19.2,12.7 18.9,11.4 20.0,10.1Z" fill="none" stroke="#a050d0" stroke-width="0.75"/><path d="M30.3,3.8C31.5,1.6 35.6,1.2 39.4,0.7C43.2,0.2 49.7,0.3 53.1,0.9C56.6,1.5 59.0,2.2 60.0,4.3C61.0,6.4 59.6,11.3 58.9,13.5C58.1,15.7 57.7,16.5 55.4,17.5C53.1,18.4 48.2,19.1 45.1,19.2C42.1,19.3 39.3,19.0 37.1,18.1C35.0,17.1 33.1,15.9 32.0,13.5C30.9,11.1 29.0,5.9 30.3,3.8Z" fill="none" stroke="#2e6e50" stroke-width="0.75"/><path d="M57.7,4.3C58.7,3.0 62.3,4.2 64.6,5.5C66.9,6.8 69.5,10.1 71.4,12.3C73.3,14.6 74.9,16.7 76.0,19.2C77.1,21.7 78.7,25.5 78.3,27.2C77.9,28.9 75.4,29.9 73.7,29.5C72.0,29.1 69.9,26.4 68.0,24.9C66.1,23.4 63.8,22.2 62.3,20.3C60.8,18.4 59.6,16.2 58.9,13.5C58.1,10.8 56.8,5.7 57.7,4.3Z" fill="none" stroke="#e0603a" stroke-width="0.75"/><path d="M30.3,13.5C30.9,13.1 33.0,14.6 34.9,15.8C36.8,16.9 41.5,19.2 41.7,20.3C41.9,21.5 37.7,23.0 36.0,22.6C34.3,22.2 32.4,19.6 31.4,18.1C30.5,16.5 29.7,13.9 30.3,13.5Z" fill="none" stroke="#9a4ad0" stroke-width="0.75"/><path d="M65.7,11.2C66.1,10.4 71.2,13.1 73.7,14.6C76.2,16.2 79.4,18.4 80.6,20.3C81.7,22.2 81.3,25.3 80.6,26.1C79.8,26.8 77.5,26.1 76.0,24.9C74.5,23.8 73.1,21.5 71.4,19.2C69.7,16.9 65.3,12.0 65.7,11.2Z" fill="none" stroke="#e07040" stroke-width="0.75"/><path d="M41.7,56.9C42.9,56.5 47.4,56.9 50.9,56.9C54.3,56.9 59.6,58.1 62.3,56.9C65.0,55.8 64.6,51.4 66.9,50.1C69.1,48.7 72.6,48.5 76.0,48.9C79.4,49.3 84.2,51.0 87.4,52.3C90.7,53.7 95.4,55.8 95.4,56.9C95.4,58.1 90.7,59.0 87.4,59.2C84.2,59.4 78.7,57.7 76.0,58.1C73.3,58.4 72.6,60.0 71.4,61.5C70.3,63.0 70.7,65.9 69.1,67.2C67.6,68.5 64.6,69.5 62.3,69.5C60.0,69.5 57.3,68.5 55.4,67.2C53.5,65.9 52.8,62.8 50.9,61.5C49.0,60.2 45.5,60.0 44.0,59.2C42.5,58.4 40.6,57.3 41.7,56.9Z" fill="none" stroke="#3a7a5a" stroke-width="0.75"/><ellipse cx="30" cy="20" rx="4" ry="3" transform="rotate(0 30 20)" fill="#f2f000"/><ellipse cx="42" cy="26" rx="3" ry="2" transform="rotate(0 42 26)" fill="#f2f000"/><ellipse cx="60" cy="26" rx="8" ry="2" transform="rotate(-5 60 26)" fill="#f2f000"/><ellipse cx="88" cy="45" rx="4" ry="3" transform="rotate(0 88 45)" fill="#f2f000"/><ellipse cx="10" cy="50" rx="3" ry="2" transform="rotate(0 10 50)" fill="#f2f000"/><ellipse cx="76" cy="30" rx="4" ry="2" transform="rotate(20 76 30)" fill="#f2f000"/></g><use href="#medS" fill="none" stroke="#444" stroke-width="0.6"/></g><g transform="translate(1266.4,1830.0) scale(1.5250,1.4972)"><use href="#latS" fill="#888" filter="url(#gsurf)"/><g clip-path="url(#latC)"><path d="M14.0,50.0C16.3,49.2 23.7,46.3 28.0,45.0C32.3,43.7 36.0,43.3 40.0,42.0C44.0,40.7 48.3,39.0 52.0,37.0C55.7,35.0 60.3,31.2 62.0,30.0" fill="none" stroke="#4a4a4a" stroke-width="0.9" stroke-opacity="0.85"/><path d="M48.0,2.0C47.7,3.7 46.7,8.7 46.0,12.0C45.3,15.3 44.8,18.0 44.0,22.0C43.2,26.0 41.5,33.7 41.0,36.0" fill="none" stroke="#4a4a4a" stroke-width="0.9" stroke-opacity="0.85"/><path d="M56.0,3.0C55.8,4.8 55.5,10.5 55.0,14.0C54.5,17.5 53.8,20.5 53.0,24.0C52.2,27.5 50.5,33.2 50.0,35.0" fill="none" stroke="#4a4a4a" stroke-width="0.9" stroke-opacity="0.85"/><path d="M8.0,26.0C9.7,24.7 14.3,20.5 18.0,18.0C21.7,15.5 28.0,12.2 30.0,11.0" fill="none" stroke="#4a4a4a" stroke-width="0.9" stroke-opacity="0.85"/><path d="M6.0,38.0C7.7,37.2 12.7,34.3 16.0,33.0C19.3,31.7 22.3,30.5 26.0,30.0C29.7,29.5 36.0,30.0 38.0,30.0" fill="none" stroke="#4a4a4a" stroke-width="0.9" stroke-opacity="0.85"/><path d="M28.0,60.0C30.0,59.0 36.0,55.7 40.0,54.0C44.0,52.3 48.0,51.3 52.0,50.0C56.0,48.7 60.0,47.3 64.0,46.0C68.0,44.7 74.0,42.7 76.0,42.0" fill="none" stroke="#4a4a4a" stroke-width="0.9" stroke-opacity="0.85"/><path d="M36.0,67.0C38.3,66.0 45.3,62.8 50.0,61.0C54.7,59.2 59.0,57.8 64.0,56.0C69.0,54.2 75.7,51.5 80.0,50.0C84.3,48.5 88.3,47.5 90.0,47.0" fill="none" stroke="#4a4a4a" stroke-width="0.9" stroke-opacity="0.85"/><path d="M60.0,16.0C61.7,16.8 66.7,19.2 70.0,21.0C73.3,22.8 77.0,25.2 80.0,27.0C83.0,28.8 86.7,31.2 88.0,32.0" fill="none" stroke="#4a4a4a" stroke-width="0.9" stroke-opacity="0.85"/><path d="M88.0,18.0C88.5,19.7 90.2,24.7 91.0,28.0C91.8,31.3 92.7,36.3 93.0,38.0" fill="none" stroke="#4a4a4a" stroke-width="0.9" stroke-opacity="0.85"/><path d="M20.0,8.0C20.7,10.0 23.7,16.0 24.0,20.0C24.3,24.0 22.3,30.0 22.0,32.0" fill="none" stroke="#4a4a4a" stroke-width="0.9" stroke-opacity="0.85"/><path d="M66.0,6.0C66.7,7.0 68.0,10.7 70.0,12.0C72.0,13.3 76.7,13.7 78.0,14.0" fill="none" stroke="#4a4a4a" stroke-width="0.9" stroke-opacity="0.85"/><path d="M0.6,44.6C1.9,44.1 5.2,45.9 9.1,46.9C13.0,47.8 20.6,48.2 24.0,50.3C27.4,52.4 28.8,56.8 29.7,59.4C30.7,62.1 28.2,64.4 29.7,66.3C31.2,68.2 35.4,70.9 38.9,70.9C42.3,70.9 49.5,67.4 50.3,66.3C51.0,65.1 46.5,64.8 43.4,64.0C40.4,63.2 35.0,62.9 32.0,61.7C29.0,60.6 27.8,57.8 25.1,57.1C22.5,56.5 19.0,58.0 16.0,57.7C13.0,57.4 9.3,56.8 6.9,55.4C4.4,54.1 2.2,51.5 1.1,49.7C0.1,47.9 -0.8,45.0 0.6,44.6Z" fill="none" stroke="#e0603a" stroke-width="0.75"/><path d="M9.1,30.9C11.0,27.6 15.4,24.8 18.3,22.9C21.1,21.0 23.6,20.0 26.3,19.4C29.0,18.9 32.6,18.7 34.3,19.4C36.0,20.2 36.8,22.1 36.6,24.0C36.4,25.9 34.5,28.8 33.1,30.9C31.8,33.0 30.5,34.9 28.6,36.6C26.7,38.3 24.6,39.4 21.7,41.1C18.9,42.9 13.9,46.7 11.4,46.9C9.0,47.0 7.2,45.0 6.9,42.3C6.5,39.6 7.2,34.1 9.1,30.9Z" fill="none" stroke="#a050d0" stroke-width="0.75"/><path d="M61.7,17.7C62.5,16.7 67.2,16.9 68.6,17.7C69.9,18.6 70.5,21.8 69.7,22.9C69.0,23.9 65.3,24.9 64.0,24.0C62.7,23.1 61.0,18.8 61.7,17.7Z" fill="none" stroke="#2e6e50" stroke-width="0.75"/><path d="M64.0,48.0C65.0,46.3 72.4,43.8 74.3,44.6C76.2,45.3 76.4,50.9 75.4,52.6C74.5,54.3 70.5,55.6 68.6,54.9C66.7,54.1 63.0,49.7 64.0,48.0Z" fill="none" stroke="#e0603a" stroke-width="0.75"/><path d="M38.9,5.7C40.8,3.9 45.5,2.6 49.1,1.7C52.8,0.9 57.1,0.1 60.6,0.6C64.0,1.0 68.4,2.4 69.7,4.6C71.1,6.8 70.3,11.2 68.6,13.7C66.9,16.2 61.3,17.1 59.4,19.4C57.5,21.7 56.4,25.5 57.1,27.4C57.9,29.3 61.9,29.3 64.0,30.9C66.1,32.4 67.8,35.4 69.7,36.6C71.6,37.7 74.7,37.0 75.4,37.7C76.2,38.5 76.2,40.2 74.3,41.1C72.4,42.1 67.6,42.5 64.0,43.4C60.4,44.4 56.0,46.1 52.6,46.9C49.1,47.6 46.5,48.6 43.4,48.0C40.4,47.4 36.0,45.3 34.3,43.4C32.6,41.5 32.6,38.9 33.1,36.6C33.7,34.3 36.6,32.4 37.7,29.7C38.9,27.0 40.0,23.4 40.0,20.6C40.0,17.7 37.9,15.0 37.7,12.6C37.5,10.1 37.0,7.5 38.9,5.7Z" fill="none" stroke="#9a4ad0" stroke-width="0.75"/><path d="M50.3,27.4C51.6,25.3 54.7,23.8 57.1,22.9C59.6,21.9 63.2,21.1 65.1,21.7C67.1,22.3 68.4,24.4 68.6,26.3C68.8,28.2 65.9,31.4 66.3,33.1C66.7,34.9 71.2,35.6 70.9,36.6C70.5,37.5 66.7,38.5 64.0,38.9C61.3,39.2 57.3,39.4 54.9,38.9C52.4,38.3 49.9,37.3 49.1,35.4C48.4,33.5 49.0,29.5 50.3,27.4Z" fill="none" stroke="#e07040" stroke-width="0.75"/><path d="M24.0,40.0C25.3,38.3 31.0,36.0 33.1,36.6C35.2,37.1 36.8,41.5 36.6,43.4C36.4,45.3 33.9,47.4 32.0,48.0C30.1,48.6 26.5,48.2 25.1,46.9C23.8,45.5 22.7,41.7 24.0,40.0Z" fill="none" stroke="#3a7a5a" stroke-width="0.75"/><path d="M14.3,23.1C14.9,22.2 18.0,21.9 18.9,22.6C19.8,23.4 20.2,26.5 19.7,27.4C19.1,28.3 16.3,28.7 15.4,28.0C14.5,27.3 13.7,24.0 14.3,23.1Z" fill="none" stroke="#c050c0" stroke-width="0.75"/><path d="M64.0,5.7C65.7,4.4 70.3,3.2 73.1,4.6C76.0,5.9 80.4,11.4 81.1,13.7C81.9,16.0 79.8,17.7 77.7,18.3C75.6,18.9 71.1,18.1 68.6,17.1C66.1,16.2 63.6,14.5 62.9,12.6C62.1,10.7 62.3,7.0 64.0,5.7Z" fill="none" stroke="#e06040" stroke-width="0.75"/><path d="M77.7,27.4C79.4,25.7 84.2,25.5 85.7,26.3C87.2,27.0 87.4,29.5 86.9,32.0C86.3,34.5 83.6,37.9 82.3,41.1C81.0,44.4 80.2,49.5 78.9,51.4C77.5,53.3 75.2,53.7 74.3,52.6C73.3,51.4 73.0,47.2 73.1,44.6C73.3,41.9 74.7,39.4 75.4,36.6C76.2,33.7 76.0,29.1 77.7,27.4Z" fill="none" stroke="#507a40" stroke-width="0.75"/><path d="M35.4,6.9C36.0,5.4 41.0,5.1 42.3,6.3C43.6,7.4 44.0,12.3 43.4,13.7C42.9,15.1 40.2,16.0 38.9,14.9C37.5,13.7 34.9,8.3 35.4,6.9Z" fill="none" stroke="#e0603a" stroke-width="0.75"/><path d="M85.7,19.4C86.2,19.3 89.6,24.1 91.4,26.3C93.2,28.5 95.2,30.5 96.6,32.6C97.9,34.7 99.1,36.9 99.7,38.9C100.2,40.9 100.2,42.9 100.0,44.6C99.8,46.3 100.5,48.1 98.3,49.1C96.1,50.2 89.8,50.3 86.9,50.9C83.9,51.4 81.5,54.0 80.6,52.6C79.7,51.1 80.6,45.3 81.4,42.3C82.1,39.2 83.9,36.9 85.1,34.3C86.3,31.7 88.5,29.3 88.6,26.9C88.7,24.4 85.2,19.5 85.7,19.4Z" fill="none" stroke="#a050d0" stroke-width="0.75"/><ellipse cx="2" cy="48" rx="2.5" ry="7" transform="rotate(0 2 48)" fill="#f2f000"/><ellipse cx="97" cy="38" rx="2" ry="6" transform="rotate(0 97 38)" fill="#f2f000"/><ellipse cx="51" cy="5" rx="3" ry="2" transform="rotate(0 51 5)" fill="#f2f000"/><ellipse cx="85" cy="50" rx="2" ry="3" transform="rotate(0 85 50)" fill="#f2f000"/></g><use href="#latS" fill="none" stroke="#444" stroke-width="0.6"/></g><g transform="translate(1422.0,1829.0) scale(1.5250,1.5211)"><use href="#medS" fill="#888" filter="url(#gsurf)"/><g clip-path="url(#medC)"><path d="M33.7,36.3C34.3,33.9 35.8,32.2 38.3,30.6C40.8,29.1 44.6,27.8 48.6,27.2C52.6,26.6 57.7,26.8 62.3,27.2C66.9,27.6 72.8,28.0 76.0,29.5C79.2,31.0 81.0,34.2 81.7,36.3C82.5,38.4 82.3,40.5 80.6,42.1C78.9,43.6 73.5,43.8 71.4,45.5C69.3,47.2 68.0,49.7 68.0,52.3C68.0,55.0 72.0,59.2 71.4,61.5C70.9,63.8 67.2,65.9 64.6,66.1C61.9,66.3 57.7,64.2 55.4,62.6C53.1,61.1 53.1,58.6 50.9,56.9C48.6,55.2 44.4,54.2 41.7,52.3C39.0,50.4 36.2,48.2 34.9,45.5C33.5,42.8 33.1,38.8 33.7,36.3Z" fill="#8a8a8a" stroke="#555" stroke-width="0.6"/><path d="M30.0,31.0C32.0,29.8 37.8,25.7 42.0,24.0C46.2,22.3 50.7,21.2 55.0,21.0C59.3,20.8 63.8,21.7 68.0,23.0C72.2,24.3 76.7,26.5 80.0,29.0C83.3,31.5 86.7,36.5 88.0,38.0" fill="none" stroke="#4a4a4a" stroke-width="0.9" stroke-opacity="0.85"/><path d="M25.0,10.0C24.7,12.0 23.2,18.0 23.0,22.0C22.8,26.0 23.0,30.3 24.0,34.0C25.0,37.7 28.2,42.3 29.0,44.0" fill="none" stroke="#4a4a4a" stroke-width="0.9" stroke-opacity="0.85"/><path d="M2.0,43.0C3.3,42.7 7.3,41.2 10.0,41.0C12.7,40.8 15.0,41.2 18.0,42.0C21.0,42.8 26.3,45.3 28.0,46.0" fill="none" stroke="#4a4a4a" stroke-width="0.9" stroke-opacity="0.85"/><path d="M40.0,10.0C40.7,11.0 43.3,15.0 44.0,16.0" fill="none" stroke="#4a4a4a" stroke-width="0.9" stroke-opacity="0.85"/><path d="M62.0,6.0C62.7,7.3 65.3,12.7 66.0,14.0" fill="none" stroke="#4a4a4a" stroke-width="0.9" stroke-opacity="0.85"/><path d="M85.0,52.0C86.2,51.3 90.8,48.7 92.0,48.0" fill="none" stroke="#4a4a4a" stroke-width="0.9" stroke-opacity="0.85"/><path d="M8.0,20.0C9.0,21.3 13.3,25.3 14.0,28.0C14.7,30.7 12.3,34.7 12.0,36.0" fill="none" stroke="#4a4a4a" stroke-width="0.9" stroke-opacity="0.85"/><path d="M0.6,40.9C0.8,38.1 1.5,33.9 2.9,30.6C4.2,27.4 6.7,23.7 8.6,21.5C10.5,19.3 12.6,17.7 14.3,17.5C16.0,17.3 17.5,18.9 18.9,20.3C20.2,21.8 20.8,24.3 22.3,26.1C23.8,27.8 26.1,28.5 28.0,30.6C29.9,32.7 32.2,36.0 33.7,38.6C35.2,41.3 36.0,44.0 37.1,46.6C38.3,49.3 41.7,53.5 40.6,54.6C39.4,55.8 33.9,54.1 30.3,53.5C26.7,52.9 22.7,51.7 18.9,51.2C15.0,50.7 10.3,51.2 7.4,50.6C4.6,50.1 2.9,49.4 1.7,47.8C0.6,46.2 0.4,43.8 0.6,40.9Z" fill="none" stroke="#e0603a" stroke-width="0.75"/><path d="M20.0,10.1C21.1,8.7 25.0,6.2 26.9,5.5C28.8,4.7 30.9,4.3 31.4,5.5C32.0,6.6 31.4,10.8 30.3,12.3C29.1,13.9 26.3,14.4 24.6,14.6C22.9,14.8 20.8,14.2 20.0,13.5C19.2,12.7 18.9,11.4 20.0,10.1Z" fill="none" stroke="#a050d0" stroke-width="0.75"/><path d="M30.3,3.8C31.5,1.6 35.6,1.2 39.4,0.7C43.2,0.2 49.7,0.3 53.1,0.9C56.6,1.5 59.0,2.2 60.0,4.3C61.0,6.4 59.6,11.3 58.9,13.5C58.1,15.7 57.7,16.5 55.4,17.5C53.1,18.4 48.2,19.1 45.1,19.2C42.1,19.3 39.3,19.0 37.1,18.1C35.0,17.1 33.1,15.9 32.0,13.5C30.9,11.1 29.0,5.9 30.3,3.8Z" fill="none" stroke="#2e6e50" stroke-width="0.75"/><path d="M57.7,4.3C58.7,3.0 62.3,4.2 64.6,5.5C66.9,6.8 69.5,10.1 71.4,12.3C73.3,14.6 74.9,16.7 76.0,19.2C77.1,21.7 78.7,25.5 78.3,27.2C77.9,28.9 75.4,29.9 73.7,29.5C72.0,29.1 69.9,26.4 68.0,24.9C66.1,23.4 63.8,22.2 62.3,20.3C60.8,18.4 59.6,16.2 58.9,13.5C58.1,10.8 56.8,5.7 57.7,4.3Z" fill="none" stroke="#e0603a" stroke-width="0.75"/><path d="M30.3,13.5C30.9,13.1 33.0,14.6 34.9,15.8C36.8,16.9 41.5,19.2 41.7,20.3C41.9,21.5 37.7,23.0 36.0,22.6C34.3,22.2 32.4,19.6 31.4,18.1C30.5,16.5 29.7,13.9 30.3,13.5Z" fill="none" stroke="#9a4ad0" stroke-width="0.75"/><path d="M65.7,11.2C66.1,10.4 71.2,13.1 73.7,14.6C76.2,16.2 79.4,18.4 80.6,20.3C81.7,22.2 81.3,25.3 80.6,26.1C79.8,26.8 77.5,26.1 76.0,24.9C74.5,23.8 73.1,21.5 71.4,19.2C69.7,16.9 65.3,12.0 65.7,11.2Z" fill="none" stroke="#e07040" stroke-width="0.75"/><path d="M41.7,56.9C42.9,56.5 47.4,56.9 50.9,56.9C54.3,56.9 59.6,58.1 62.3,56.9C65.0,55.8 64.6,51.4 66.9,50.1C69.1,48.7 72.6,48.5 76.0,48.9C79.4,49.3 84.2,51.0 87.4,52.3C90.7,53.7 95.4,55.8 95.4,56.9C95.4,58.1 90.7,59.0 87.4,59.2C84.2,59.4 78.7,57.7 76.0,58.1C73.3,58.4 72.6,60.0 71.4,61.5C70.3,63.0 70.7,65.9 69.1,67.2C67.6,68.5 64.6,69.5 62.3,69.5C60.0,69.5 57.3,68.5 55.4,67.2C53.5,65.9 52.8,62.8 50.9,61.5C49.0,60.2 45.5,60.0 44.0,59.2C42.5,58.4 40.6,57.3 41.7,56.9Z" fill="none" stroke="#3a7a5a" stroke-width="0.75"/><ellipse cx="62" cy="27" rx="6" ry="1.5" transform="rotate(0 62 27)" fill="#f2f000"/><ellipse cx="35" cy="30" rx="2" ry="2" transform="rotate(0 35 30)" fill="#f2f000"/><ellipse cx="70" cy="58" rx="2" ry="4" transform="rotate(30 70 58)" fill="#f2f000"/></g><use href="#medS" fill="none" stroke="#444" stroke-width="0.6"/></g><g transform="translate(1729.8,1828.2) scale(-1.5110,1.5451)"><use href="#latS" fill="#888" filter="url(#gsurf)"/><g clip-path="url(#latC)"><path d="M14.0,50.0C16.3,49.2 23.7,46.3 28.0,45.0C32.3,43.7 36.0,43.3 40.0,42.0C44.0,40.7 48.3,39.0 52.0,37.0C55.7,35.0 60.3,31.2 62.0,30.0" fill="none" stroke="#4a4a4a" stroke-width="0.9" stroke-opacity="0.85"/><path d="M48.0,2.0C47.7,3.7 46.7,8.7 46.0,12.0C45.3,15.3 44.8,18.0 44.0,22.0C43.2,26.0 41.5,33.7 41.0,36.0" fill="none" stroke="#4a4a4a" stroke-width="0.9" stroke-opacity="0.85"/><path d="M56.0,3.0C55.8,4.8 55.5,10.5 55.0,14.0C54.5,17.5 53.8,20.5 53.0,24.0C52.2,27.5 50.5,33.2 50.0,35.0" fill="none" stroke="#4a4a4a" stroke-width="0.9" stroke-opacity="0.85"/><path d="M8.0,26.0C9.7,24.7 14.3,20.5 18.0,18.0C21.7,15.5 28.0,12.2 30.0,11.0" fill="none" stroke="#4a4a4a" stroke-width="0.9" stroke-opacity="0.85"/><path d="M6.0,38.0C7.7,37.2 12.7,34.3 16.0,33.0C19.3,31.7 22.3,30.5 26.0,30.0C29.7,29.5 36.0,30.0 38.0,30.0" fill="none" stroke="#4a4a4a" stroke-width="0.9" stroke-opacity="0.85"/><path d="M28.0,60.0C30.0,59.0 36.0,55.7 40.0,54.0C44.0,52.3 48.0,51.3 52.0,50.0C56.0,48.7 60.0,47.3 64.0,46.0C68.0,44.7 74.0,42.7 76.0,42.0" fill="none" stroke="#4a4a4a" stroke-width="0.9" stroke-opacity="0.85"/><path d="M36.0,67.0C38.3,66.0 45.3,62.8 50.0,61.0C54.7,59.2 59.0,57.8 64.0,56.0C69.0,54.2 75.7,51.5 80.0,50.0C84.3,48.5 88.3,47.5 90.0,47.0" fill="none" stroke="#4a4a4a" stroke-width="0.9" stroke-opacity="0.85"/><path d="M60.0,16.0C61.7,16.8 66.7,19.2 70.0,21.0C73.3,22.8 77.0,25.2 80.0,27.0C83.0,28.8 86.7,31.2 88.0,32.0" fill="none" stroke="#4a4a4a" stroke-width="0.9" stroke-opacity="0.85"/><path d="M88.0,18.0C88.5,19.7 90.2,24.7 91.0,28.0C91.8,31.3 92.7,36.3 93.0,38.0" fill="none" stroke="#4a4a4a" stroke-width="0.9" stroke-opacity="0.85"/><path d="M20.0,8.0C20.7,10.0 23.7,16.0 24.0,20.0C24.3,24.0 22.3,30.0 22.0,32.0" fill="none" stroke="#4a4a4a" stroke-width="0.9" stroke-opacity="0.85"/><path d="M66.0,6.0C66.7,7.0 68.0,10.7 70.0,12.0C72.0,13.3 76.7,13.7 78.0,14.0" fill="none" stroke="#4a4a4a" stroke-width="0.9" stroke-opacity="0.85"/><path d="M0.6,44.6C1.9,44.1 5.2,45.9 9.1,46.9C13.0,47.8 20.6,48.2 24.0,50.3C27.4,52.4 28.8,56.8 29.7,59.4C30.7,62.1 28.2,64.4 29.7,66.3C31.2,68.2 35.4,70.9 38.9,70.9C42.3,70.9 49.5,67.4 50.3,66.3C51.0,65.1 46.5,64.8 43.4,64.0C40.4,63.2 35.0,62.9 32.0,61.7C29.0,60.6 27.8,57.8 25.1,57.1C22.5,56.5 19.0,58.0 16.0,57.7C13.0,57.4 9.3,56.8 6.9,55.4C4.4,54.1 2.2,51.5 1.1,49.7C0.1,47.9 -0.8,45.0 0.6,44.6Z" fill="none" stroke="#e0603a" stroke-width="0.75"/><path d="M9.1,30.9C11.0,27.6 15.4,24.8 18.3,22.9C21.1,21.0 23.6,20.0 26.3,19.4C29.0,18.9 32.6,18.7 34.3,19.4C36.0,20.2 36.8,22.1 36.6,24.0C36.4,25.9 34.5,28.8 33.1,30.9C31.8,33.0 30.5,34.9 28.6,36.6C26.7,38.3 24.6,39.4 21.7,41.1C18.9,42.9 13.9,46.7 11.4,46.9C9.0,47.0 7.2,45.0 6.9,42.3C6.5,39.6 7.2,34.1 9.1,30.9Z" fill="none" stroke="#a050d0" stroke-width="0.75"/><path d="M61.7,17.7C62.5,16.7 67.2,16.9 68.6,17.7C69.9,18.6 70.5,21.8 69.7,22.9C69.0,23.9 65.3,24.9 64.0,24.0C62.7,23.1 61.0,18.8 61.7,17.7Z" fill="none" stroke="#2e6e50" stroke-width="0.75"/><path d="M64.0,48.0C65.0,46.3 72.4,43.8 74.3,44.6C76.2,45.3 76.4,50.9 75.4,52.6C74.5,54.3 70.5,55.6 68.6,54.9C66.7,54.1 63.0,49.7 64.0,48.0Z" fill="none" stroke="#e0603a" stroke-width="0.75"/><path d="M38.9,5.7C40.8,3.9 45.5,2.6 49.1,1.7C52.8,0.9 57.1,0.1 60.6,0.6C64.0,1.0 68.4,2.4 69.7,4.6C71.1,6.8 70.3,11.2 68.6,13.7C66.9,16.2 61.3,17.1 59.4,19.4C57.5,21.7 56.4,25.5 57.1,27.4C57.9,29.3 61.9,29.3 64.0,30.9C66.1,32.4 67.8,35.4 69.7,36.6C71.6,37.7 74.7,37.0 75.4,37.7C76.2,38.5 76.2,40.2 74.3,41.1C72.4,42.1 67.6,42.5 64.0,43.4C60.4,44.4 56.0,46.1 52.6,46.9C49.1,47.6 46.5,48.6 43.4,48.0C40.4,47.4 36.0,45.3 34.3,43.4C32.6,41.5 32.6,38.9 33.1,36.6C33.7,34.3 36.6,32.4 37.7,29.7C38.9,27.0 40.0,23.4 40.0,20.6C40.0,17.7 37.9,15.0 37.7,12.6C37.5,10.1 37.0,7.5 38.9,5.7Z" fill="none" stroke="#9a4ad0" stroke-width="0.75"/><path d="M50.3,27.4C51.6,25.3 54.7,23.8 57.1,22.9C59.6,21.9 63.2,21.1 65.1,21.7C67.1,22.3 68.4,24.4 68.6,26.3C68.8,28.2 65.9,31.4 66.3,33.1C66.7,34.9 71.2,35.6 70.9,36.6C70.5,37.5 66.7,38.5 64.0,38.9C61.3,39.2 57.3,39.4 54.9,38.9C52.4,38.3 49.9,37.3 49.1,35.4C48.4,33.5 49.0,29.5 50.3,27.4Z" fill="none" stroke="#e07040" stroke-width="0.75"/><path d="M24.0,40.0C25.3,38.3 31.0,36.0 33.1,36.6C35.2,37.1 36.8,41.5 36.6,43.4C36.4,45.3 33.9,47.4 32.0,48.0C30.1,48.6 26.5,48.2 25.1,46.9C23.8,45.5 22.7,41.7 24.0,40.0Z" fill="none" stroke="#3a7a5a" stroke-width="0.75"/><path d="M14.3,23.1C14.9,22.2 18.0,21.9 18.9,22.6C19.8,23.4 20.2,26.5 19.7,27.4C19.1,28.3 16.3,28.7 15.4,28.0C14.5,27.3 13.7,24.0 14.3,23.1Z" fill="none" stroke="#c050c0" stroke-width="0.75"/><path d="M64.0,5.7C65.7,4.4 70.3,3.2 73.1,4.6C76.0,5.9 80.4,11.4 81.1,13.7C81.9,16.0 79.8,17.7 77.7,18.3C75.6,18.9 71.1,18.1 68.6,17.1C66.1,16.2 63.6,14.5 62.9,12.6C62.1,10.7 62.3,7.0 64.0,5.7Z" fill="none" stroke="#e06040" stroke-width="0.75"/><path d="M77.7,27.4C79.4,25.7 84.2,25.5 85.7,26.3C87.2,27.0 87.4,29.5 86.9,32.0C86.3,34.5 83.6,37.9 82.3,41.1C81.0,44.4 80.2,49.5 78.9,51.4C77.5,53.3 75.2,53.7 74.3,52.6C73.3,51.4 73.0,47.2 73.1,44.6C73.3,41.9 74.7,39.4 75.4,36.6C76.2,33.7 76.0,29.1 77.7,27.4Z" fill="none" stroke="#507a40" stroke-width="0.75"/><path d="M35.4,6.9C36.0,5.4 41.0,5.1 42.3,6.3C43.6,7.4 44.0,12.3 43.4,13.7C42.9,15.1 40.2,16.0 38.9,14.9C37.5,13.7 34.9,8.3 35.4,6.9Z" fill="none" stroke="#e0603a" stroke-width="0.75"/><path d="M85.7,19.4C86.2,19.3 89.6,24.1 91.4,26.3C93.2,28.5 95.2,30.5 96.6,32.6C97.9,34.7 99.1,36.9 99.7,38.9C100.2,40.9 100.2,42.9 100.0,44.6C99.8,46.3 100.5,48.1 98.3,49.1C96.1,50.2 89.8,50.3 86.9,50.9C83.9,51.4 81.5,54.0 80.6,52.6C79.7,51.1 80.6,45.3 81.4,42.3C82.1,39.2 83.9,36.9 85.1,34.3C86.3,31.7 88.5,29.3 88.6,26.9C88.7,24.4 85.2,19.5 85.7,19.4Z" fill="none" stroke="#a050d0" stroke-width="0.75"/><ellipse cx="2" cy="48" rx="2.5" ry="7" transform="rotate(0 2 48)" fill="#f2f000"/><ellipse cx="97" cy="38" rx="2" ry="6" transform="rotate(0 97 38)" fill="#f2f000"/><ellipse cx="51" cy="5" rx="3" ry="2" transform="rotate(0 51 5)" fill="#f2f000"/><ellipse cx="85" cy="50" rx="2" ry="3" transform="rotate(0 85 50)" fill="#f2f000"/></g><use href="#latS" fill="none" stroke="#444" stroke-width="0.6"/></g><g transform="translate(1885.2,1828.2) scale(-1.5090,1.5451)"><use href="#medS" fill="#888" filter="url(#gsurf)"/><g clip-path="url(#medC)"><path d="M33.7,36.3C34.3,33.9 35.8,32.2 38.3,30.6C40.8,29.1 44.6,27.8 48.6,27.2C52.6,26.6 57.7,26.8 62.3,27.2C66.9,27.6 72.8,28.0 76.0,29.5C79.2,31.0 81.0,34.2 81.7,36.3C82.5,38.4 82.3,40.5 80.6,42.1C78.9,43.6 73.5,43.8 71.4,45.5C69.3,47.2 68.0,49.7 68.0,52.3C68.0,55.0 72.0,59.2 71.4,61.5C70.9,63.8 67.2,65.9 64.6,66.1C61.9,66.3 57.7,64.2 55.4,62.6C53.1,61.1 53.1,58.6 50.9,56.9C48.6,55.2 44.4,54.2 41.7,52.3C39.0,50.4 36.2,48.2 34.9,45.5C33.5,42.8 33.1,38.8 33.7,36.3Z" fill="#8a8a8a" stroke="#555" stroke-width="0.6"/><path d="M30.0,31.0C32.0,29.8 37.8,25.7 42.0,24.0C46.2,22.3 50.7,21.2 55.0,21.0C59.3,20.8 63.8,21.7 68.0,23.0C72.2,24.3 76.7,26.5 80.0,29.0C83.3,31.5 86.7,36.5 88.0,38.0" fill="none" stroke="#4a4a4a" stroke-width="0.9" stroke-opacity="0.85"/><path d="M25.0,10.0C24.7,12.0 23.2,18.0 23.0,22.0C22.8,26.0 23.0,30.3 24.0,34.0C25.0,37.7 28.2,42.3 29.0,44.0" fill="none" stroke="#4a4a4a" stroke-width="0.9" stroke-opacity="0.85"/><path d="M2.0,43.0C3.3,42.7 7.3,41.2 10.0,41.0C12.7,40.8 15.0,41.2 18.0,42.0C21.0,42.8 26.3,45.3 28.0,46.0" fill="none" stroke="#4a4a4a" stroke-width="0.9" stroke-opacity="0.85"/><path d="M40.0,10.0C40.7,11.0 43.3,15.0 44.0,16.0" fill="none" stroke="#4a4a4a" stroke-width="0.9" stroke-opacity="0.85"/><path d="M62.0,6.0C62.7,7.3 65.3,12.7 66.0,14.0" fill="none" stroke="#4a4a4a" stroke-width="0.9" stroke-opacity="0.85"/><path d="M85.0,52.0C86.2,51.3 90.8,48.7 92.0,48.0" fill="none" stroke="#4a4a4a" stroke-width="0.9" stroke-opacity="0.85"/><path d="M8.0,20.0C9.0,21.3 13.3,25.3 14.0,28.0C14.7,30.7 12.3,34.7 12.0,36.0" fill="none" stroke="#4a4a4a" stroke-width="0.9" stroke-opacity="0.85"/><path d="M0.6,40.9C0.8,38.1 1.5,33.9 2.9,30.6C4.2,27.4 6.7,23.7 8.6,21.5C10.5,19.3 12.6,17.7 14.3,17.5C16.0,17.3 17.5,18.9 18.9,20.3C20.2,21.8 20.8,24.3 22.3,26.1C23.8,27.8 26.1,28.5 28.0,30.6C29.9,32.7 32.2,36.0 33.7,38.6C35.2,41.3 36.0,44.0 37.1,46.6C38.3,49.3 41.7,53.5 40.6,54.6C39.4,55.8 33.9,54.1 30.3,53.5C26.7,52.9 22.7,51.7 18.9,51.2C15.0,50.7 10.3,51.2 7.4,50.6C4.6,50.1 2.9,49.4 1.7,47.8C0.6,46.2 0.4,43.8 0.6,40.9Z" fill="none" stroke="#e0603a" stroke-width="0.75"/><path d="M20.0,10.1C21.1,8.7 25.0,6.2 26.9,5.5C28.8,4.7 30.9,4.3 31.4,5.5C32.0,6.6 31.4,10.8 30.3,12.3C29.1,13.9 26.3,14.4 24.6,14.6C22.9,14.8 20.8,14.2 20.0,13.5C19.2,12.7 18.9,11.4 20.0,10.1Z" fill="none" stroke="#a050d0" stroke-width="0.75"/><path d="M30.3,3.8C31.5,1.6 35.6,1.2 39.4,0.7C43.2,0.2 49.7,0.3 53.1,0.9C56.6,1.5 59.0,2.2 60.0,4.3C61.0,6.4 59.6,11.3 58.9,13.5C58.1,15.7 57.7,16.5 55.4,17.5C53.1,18.4 48.2,19.1 45.1,19.2C42.1,19.3 39.3,19.0 37.1,18.1C35.0,17.1 33.1,15.9 32.0,13.5C30.9,11.1 29.0,5.9 30.3,3.8Z" fill="none" stroke="#2e6e50" stroke-width="0.75"/><path d="M57.7,4.3C58.7,3.0 62.3,4.2 64.6,5.5C66.9,6.8 69.5,10.1 71.4,12.3C73.3,14.6 74.9,16.7 76.0,19.2C77.1,21.7 78.7,25.5 78.3,27.2C77.9,28.9 75.4,29.9 73.7,29.5C72.0,29.1 69.9,26.4 68.0,24.9C66.1,23.4 63.8,22.2 62.3,20.3C60.8,18.4 59.6,16.2 58.9,13.5C58.1,10.8 56.8,5.7 57.7,4.3Z" fill="none" stroke="#e0603a" stroke-width="0.75"/><path d="M30.3,13.5C30.9,13.1 33.0,14.6 34.9,15.8C36.8,16.9 41.5,19.2 41.7,20.3C41.9,21.5 37.7,23.0 36.0,22.6C34.3,22.2 32.4,19.6 31.4,18.1C30.5,16.5 29.7,13.9 30.3,13.5Z" fill="none" stroke="#9a4ad0" stroke-width="0.75"/><path d="M65.7,11.2C66.1,10.4 71.2,13.1 73.7,14.6C76.2,16.2 79.4,18.4 80.6,20.3C81.7,22.2 81.3,25.3 80.6,26.1C79.8,26.8 77.5,26.1 76.0,24.9C74.5,23.8 73.1,21.5 71.4,19.2C69.7,16.9 65.3,12.0 65.7,11.2Z" fill="none" stroke="#e07040" stroke-width="0.75"/><path d="M41.7,56.9C42.9,56.5 47.4,56.9 50.9,56.9C54.3,56.9 59.6,58.1 62.3,56.9C65.0,55.8 64.6,51.4 66.9,50.1C69.1,48.7 72.6,48.5 76.0,48.9C79.4,49.3 84.2,51.0 87.4,52.3C90.7,53.7 95.4,55.8 95.4,56.9C95.4,58.1 90.7,59.0 87.4,59.2C84.2,59.4 78.7,57.7 76.0,58.1C73.3,58.4 72.6,60.0 71.4,61.5C70.3,63.0 70.7,65.9 69.1,67.2C67.6,68.5 64.6,69.5 62.3,69.5C60.0,69.5 57.3,68.5 55.4,67.2C53.5,65.9 52.8,62.8 50.9,61.5C49.0,60.2 45.5,60.0 44.0,59.2C42.5,58.4 40.6,57.3 41.7,56.9Z" fill="none" stroke="#3a7a5a" stroke-width="0.75"/><ellipse cx="62" cy="27" rx="6" ry="1.5" transform="rotate(0 62 27)" fill="#f2f000"/><ellipse cx="35" cy="30" rx="2" ry="2" transform="rotate(0 35 30)" fill="#f2f000"/><ellipse cx="70" cy="58" rx="2" ry="4" transform="rotate(30 70 58)" fill="#f2f000"/></g><use href="#medS" fill="none" stroke="#444" stroke-width="0.6"/></g><g transform="translate(1261.4,1980.0) scale(1.5340,1.5211)"><use href="#latS" fill="#e85a6a"/><g clip-path="url(#latC)"><path d="M0.6,44.6C1.9,44.1 5.2,45.9 9.1,46.9C13.0,47.8 20.6,48.2 24.0,50.3C27.4,52.4 28.8,56.8 29.7,59.4C30.7,62.1 28.2,64.4 29.7,66.3C31.2,68.2 35.4,70.9 38.9,70.9C42.3,70.9 49.5,67.4 50.3,66.3C51.0,65.1 46.5,64.8 43.4,64.0C40.4,63.2 35.0,62.9 32.0,61.7C29.0,60.6 27.8,57.8 25.1,57.1C22.5,56.5 19.0,58.0 16.0,57.7C13.0,57.4 9.3,56.8 6.9,55.4C4.4,54.1 2.2,51.5 1.1,49.7C0.1,47.9 -0.8,45.0 0.6,44.6Z" fill="#e0f4b0"/><path d="M9.1,30.9C11.0,27.6 15.4,24.8 18.3,22.9C21.1,21.0 23.6,20.0 26.3,19.4C29.0,18.9 32.6,18.7 34.3,19.4C36.0,20.2 36.8,22.1 36.6,24.0C36.4,25.9 34.5,28.8 33.1,30.9C31.8,33.0 30.5,34.9 28.6,36.6C26.7,38.3 24.6,39.4 21.7,41.1C18.9,42.9 13.9,46.7 11.4,46.9C9.0,47.0 7.2,45.0 6.9,42.3C6.5,39.6 7.2,34.1 9.1,30.9Z" fill="#f0a030"/><path d="M61.7,17.7C62.5,16.7 67.2,16.9 68.6,17.7C69.9,18.6 70.5,21.8 69.7,22.9C69.0,23.9 65.3,24.9 64.0,24.0C62.7,23.1 61.0,18.8 61.7,17.7Z" fill="#f0a030"/><path d="M64.0,48.0C65.0,46.3 72.4,43.8 74.3,44.6C76.2,45.3 76.4,50.9 75.4,52.6C74.5,54.3 70.5,55.6 68.6,54.9C66.7,54.1 63.0,49.7 64.0,48.0Z" fill="#f0a030"/><path d="M38.9,5.7C40.8,3.9 45.5,2.6 49.1,1.7C52.8,0.9 57.1,0.1 60.6,0.6C64.0,1.0 68.4,2.4 69.7,4.6C71.1,6.8 70.3,11.2 68.6,13.7C66.9,16.2 61.3,17.1 59.4,19.4C57.5,21.7 56.4,25.5 57.1,27.4C57.9,29.3 61.9,29.3 64.0,30.9C66.1,32.4 67.8,35.4 69.7,36.6C71.6,37.7 74.7,37.0 75.4,37.7C76.2,38.5 76.2,40.2 74.3,41.1C72.4,42.1 67.6,42.5 64.0,43.4C60.4,44.4 56.0,46.1 52.6,46.9C49.1,47.6 46.5,48.6 43.4,48.0C40.4,47.4 36.0,45.3 34.3,43.4C32.6,41.5 32.6,38.9 33.1,36.6C33.7,34.3 36.6,32.4 37.7,29.7C38.9,27.0 40.0,23.4 40.0,20.6C40.0,17.7 37.9,15.0 37.7,12.6C37.5,10.1 37.0,7.5 38.9,5.7Z" fill="#5a9cc8"/><path d="M50.3,27.4C51.6,25.3 54.7,23.8 57.1,22.9C59.6,21.9 63.2,21.1 65.1,21.7C67.1,22.3 68.4,24.4 68.6,26.3C68.8,28.2 65.9,31.4 66.3,33.1C66.7,34.9 71.2,35.6 70.9,36.6C70.5,37.5 66.7,38.5 64.0,38.9C61.3,39.2 57.3,39.4 54.9,38.9C52.4,38.3 49.9,37.3 49.1,35.4C48.4,33.5 49.0,29.5 50.3,27.4Z" fill="#e040f0"/><path d="M24.0,40.0C25.3,38.3 31.0,36.0 33.1,36.6C35.2,37.1 36.8,41.5 36.6,43.4C36.4,45.3 33.9,47.4 32.0,48.0C30.1,48.6 26.5,48.2 25.1,46.9C23.8,45.5 22.7,41.7 24.0,40.0Z" fill="#e040f0"/><path d="M14.3,23.1C14.9,22.2 18.0,21.9 18.9,22.6C19.8,23.4 20.2,26.5 19.7,27.4C19.1,28.3 16.3,28.7 15.4,28.0C14.5,27.3 13.7,24.0 14.3,23.1Z" fill="#e040f0"/><path d="M64.0,5.7C65.7,4.4 70.3,3.2 73.1,4.6C76.0,5.9 80.4,11.4 81.1,13.7C81.9,16.0 79.8,17.7 77.7,18.3C75.6,18.9 71.1,18.1 68.6,17.1C66.1,16.2 63.6,14.5 62.9,12.6C62.1,10.7 62.3,7.0 64.0,5.7Z" fill="#1a8a2a"/><path d="M77.7,27.4C79.4,25.7 84.2,25.5 85.7,26.3C87.2,27.0 87.4,29.5 86.9,32.0C86.3,34.5 83.6,37.9 82.3,41.1C81.0,44.4 80.2,49.5 78.9,51.4C77.5,53.3 75.2,53.7 74.3,52.6C73.3,51.4 73.0,47.2 73.1,44.6C73.3,41.9 74.7,39.4 75.4,36.6C76.2,33.7 76.0,29.1 77.7,27.4Z" fill="#1a8a2a"/><path d="M35.4,6.9C36.0,5.4 41.0,5.1 42.3,6.3C43.6,7.4 44.0,12.3 43.4,13.7C42.9,15.1 40.2,16.0 38.9,14.9C37.5,13.7 34.9,8.3 35.4,6.9Z" fill="#1a8a2a"/><path d="M85.7,19.4C86.2,19.3 89.6,24.1 91.4,26.3C93.2,28.5 95.2,30.5 96.6,32.6C97.9,34.7 99.1,36.9 99.7,38.9C100.2,40.9 100.2,42.9 100.0,44.6C99.8,46.3 100.5,48.1 98.3,49.1C96.1,50.2 89.8,50.3 86.9,50.9C83.9,51.4 81.5,54.0 80.6,52.6C79.7,51.1 80.6,45.3 81.4,42.3C82.1,39.2 83.9,36.9 85.1,34.3C86.3,31.7 88.5,29.3 88.6,26.9C88.7,24.4 85.2,19.5 85.7,19.4Z" fill="#8a2a9a"/><use href="#latS" fill="#000" filter="url(#nsurf)" opacity="0.22"/></g><use href="#latS" fill="none" stroke="#333" stroke-width="0.5"/></g><g transform="translate(1419.4,1980.0) scale(1.5400,1.5211)"><use href="#medS" fill="#e85a6a"/><g clip-path="url(#medC)"><path d="M0.6,40.9C0.8,38.1 1.5,33.9 2.9,30.6C4.2,27.4 6.7,23.7 8.6,21.5C10.5,19.3 12.6,17.7 14.3,17.5C16.0,17.3 17.5,18.9 18.9,20.3C20.2,21.8 20.8,24.3 22.3,26.1C23.8,27.8 26.1,28.5 28.0,30.6C29.9,32.7 32.2,36.0 33.7,38.6C35.2,41.3 36.0,44.0 37.1,46.6C38.3,49.3 41.7,53.5 40.6,54.6C39.4,55.8 33.9,54.1 30.3,53.5C26.7,52.9 22.7,51.7 18.9,51.2C15.0,50.7 10.3,51.2 7.4,50.6C4.6,50.1 2.9,49.4 1.7,47.8C0.6,46.2 0.4,43.8 0.6,40.9Z" fill="#8a2a9a"/><path d="M20.0,10.1C21.1,8.7 25.0,6.2 26.9,5.5C28.8,4.7 30.9,4.3 31.4,5.5C32.0,6.6 31.4,10.8 30.3,12.3C29.1,13.9 26.3,14.4 24.6,14.6C22.9,14.8 20.8,14.2 20.0,13.5C19.2,12.7 18.9,11.4 20.0,10.1Z" fill="#1a8a2a"/><path d="M30.3,3.8C31.5,1.6 35.6,1.2 39.4,0.7C43.2,0.2 49.7,0.3 53.1,0.9C56.6,1.5 59.0,2.2 60.0,4.3C61.0,6.4 59.6,11.3 58.9,13.5C58.1,15.7 57.7,16.5 55.4,17.5C53.1,18.4 48.2,19.1 45.1,19.2C42.1,19.3 39.3,19.0 37.1,18.1C35.0,17.1 33.1,15.9 32.0,13.5C30.9,11.1 29.0,5.9 30.3,3.8Z" fill="#5a9cc8"/><path d="M57.7,4.3C58.7,3.0 62.3,4.2 64.6,5.5C66.9,6.8 69.5,10.1 71.4,12.3C73.3,14.6 74.9,16.7 76.0,19.2C77.1,21.7 78.7,25.5 78.3,27.2C77.9,28.9 75.4,29.9 73.7,29.5C72.0,29.1 69.9,26.4 68.0,24.9C66.1,23.4 63.8,22.2 62.3,20.3C60.8,18.4 59.6,16.2 58.9,13.5C58.1,10.8 56.8,5.7 57.7,4.3Z" fill="#e040f0"/><path d="M30.3,13.5C30.9,13.1 33.0,14.6 34.9,15.8C36.8,16.9 41.5,19.2 41.7,20.3C41.9,21.5 37.7,23.0 36.0,22.6C34.3,22.2 32.4,19.6 31.4,18.1C30.5,16.5 29.7,13.9 30.3,13.5Z" fill="#e040f0"/><path d="M65.7,11.2C66.1,10.4 71.2,13.1 73.7,14.6C76.2,16.2 79.4,18.4 80.6,20.3C81.7,22.2 81.3,25.3 80.6,26.1C79.8,26.8 77.5,26.1 76.0,24.9C74.5,23.8 73.1,21.5 71.4,19.2C69.7,16.9 65.3,12.0 65.7,11.2Z" fill="#f0a030"/><path d="M41.7,56.9C42.9,56.5 47.4,56.9 50.9,56.9C54.3,56.9 59.6,58.1 62.3,56.9C65.0,55.8 64.6,51.4 66.9,50.1C69.1,48.7 72.6,48.5 76.0,48.9C79.4,49.3 84.2,51.0 87.4,52.3C90.7,53.7 95.4,55.8 95.4,56.9C95.4,58.1 90.7,59.0 87.4,59.2C84.2,59.4 78.7,57.7 76.0,58.1C73.3,58.4 72.6,60.0 71.4,61.5C70.3,63.0 70.7,65.9 69.1,67.2C67.6,68.5 64.6,69.5 62.3,69.5C60.0,69.5 57.3,68.5 55.4,67.2C53.5,65.9 52.8,62.8 50.9,61.5C49.0,60.2 45.5,60.0 44.0,59.2C42.5,58.4 40.6,57.3 41.7,56.9Z" fill="#e0f4b0"/><path d="M33.7,36.3C34.3,33.9 35.8,32.2 38.3,30.6C40.8,29.1 44.6,27.8 48.6,27.2C52.6,26.6 57.7,26.8 62.3,27.2C66.9,27.6 72.8,28.0 76.0,29.5C79.2,31.0 81.0,34.2 81.7,36.3C82.5,38.4 82.3,40.5 80.6,42.1C78.9,43.6 73.5,43.8 71.4,45.5C69.3,47.2 68.0,49.7 68.0,52.3C68.0,55.0 72.0,59.2 71.4,61.5C70.9,63.8 67.2,65.9 64.6,66.1C61.9,66.3 57.7,64.2 55.4,62.6C53.1,61.1 53.1,58.6 50.9,56.9C48.6,55.2 44.4,54.2 41.7,52.3C39.0,50.4 36.2,48.2 34.9,45.5C33.5,42.8 33.1,38.8 33.7,36.3Z" fill="#e6e6e6"/><use href="#medS" fill="#000" filter="url(#nsurf)" opacity="0.22"/></g><use href="#medS" fill="none" stroke="#333" stroke-width="0.5"/></g><g transform="translate(1729.7,1980.0) scale(-1.5340,1.5211)"><use href="#latS" fill="#e85a6a"/><g clip-path="url(#latC)"><path d="M0.6,44.6C1.9,44.1 5.2,45.9 9.1,46.9C13.0,47.8 20.6,48.2 24.0,50.3C27.4,52.4 28.8,56.8 29.7,59.4C30.7,62.1 28.2,64.4 29.7,66.3C31.2,68.2 35.4,70.9 38.9,70.9C42.3,70.9 49.5,67.4 50.3,66.3C51.0,65.1 46.5,64.8 43.4,64.0C40.4,63.2 35.0,62.9 32.0,61.7C29.0,60.6 27.8,57.8 25.1,57.1C22.5,56.5 19.0,58.0 16.0,57.7C13.0,57.4 9.3,56.8 6.9,55.4C4.4,54.1 2.2,51.5 1.1,49.7C0.1,47.9 -0.8,45.0 0.6,44.6Z" fill="#e0f4b0"/><path d="M9.1,30.9C11.0,27.6 15.4,24.8 18.3,22.9C21.1,21.0 23.6,20.0 26.3,19.4C29.0,18.9 32.6,18.7 34.3,19.4C36.0,20.2 36.8,22.1 36.6,24.0C36.4,25.9 34.5,28.8 33.1,30.9C31.8,33.0 30.5,34.9 28.6,36.6C26.7,38.3 24.6,39.4 21.7,41.1C18.9,42.9 13.9,46.7 11.4,46.9C9.0,47.0 7.2,45.0 6.9,42.3C6.5,39.6 7.2,34.1 9.1,30.9Z" fill="#f0a030"/><path d="M61.7,17.7C62.5,16.7 67.2,16.9 68.6,17.7C69.9,18.6 70.5,21.8 69.7,22.9C69.0,23.9 65.3,24.9 64.0,24.0C62.7,23.1 61.0,18.8 61.7,17.7Z" fill="#f0a030"/><path d="M64.0,48.0C65.0,46.3 72.4,43.8 74.3,44.6C76.2,45.3 76.4,50.9 75.4,52.6C74.5,54.3 70.5,55.6 68.6,54.9C66.7,54.1 63.0,49.7 64.0,48.0Z" fill="#f0a030"/><path d="M38.9,5.7C40.8,3.9 45.5,2.6 49.1,1.7C52.8,0.9 57.1,0.1 60.6,0.6C64.0,1.0 68.4,2.4 69.7,4.6C71.1,6.8 70.3,11.2 68.6,13.7C66.9,16.2 61.3,17.1 59.4,19.4C57.5,21.7 56.4,25.5 57.1,27.4C57.9,29.3 61.9,29.3 64.0,30.9C66.1,32.4 67.8,35.4 69.7,36.6C71.6,37.7 74.7,37.0 75.4,37.7C76.2,38.5 76.2,40.2 74.3,41.1C72.4,42.1 67.6,42.5 64.0,43.4C60.4,44.4 56.0,46.1 52.6,46.9C49.1,47.6 46.5,48.6 43.4,48.0C40.4,47.4 36.0,45.3 34.3,43.4C32.6,41.5 32.6,38.9 33.1,36.6C33.7,34.3 36.6,32.4 37.7,29.7C38.9,27.0 40.0,23.4 40.0,20.6C40.0,17.7 37.9,15.0 37.7,12.6C37.5,10.1 37.0,7.5 38.9,5.7Z" fill="#5a9cc8"/><path d="M50.3,27.4C51.6,25.3 54.7,23.8 57.1,22.9C59.6,21.9 63.2,21.1 65.1,21.7C67.1,22.3 68.4,24.4 68.6,26.3C68.8,28.2 65.9,31.4 66.3,33.1C66.7,34.9 71.2,35.6 70.9,36.6C70.5,37.5 66.7,38.5 64.0,38.9C61.3,39.2 57.3,39.4 54.9,38.9C52.4,38.3 49.9,37.3 49.1,35.4C48.4,33.5 49.0,29.5 50.3,27.4Z" fill="#e040f0"/><path d="M24.0,40.0C25.3,38.3 31.0,36.0 33.1,36.6C35.2,37.1 36.8,41.5 36.6,43.4C36.4,45.3 33.9,47.4 32.0,48.0C30.1,48.6 26.5,48.2 25.1,46.9C23.8,45.5 22.7,41.7 24.0,40.0Z" fill="#e040f0"/><path d="M14.3,23.1C14.9,22.2 18.0,21.9 18.9,22.6C19.8,23.4 20.2,26.5 19.7,27.4C19.1,28.3 16.3,28.7 15.4,28.0C14.5,27.3 13.7,24.0 14.3,23.1Z" fill="#e040f0"/><path d="M64.0,5.7C65.7,4.4 70.3,3.2 73.1,4.6C76.0,5.9 80.4,11.4 81.1,13.7C81.9,16.0 79.8,17.7 77.7,18.3C75.6,18.9 71.1,18.1 68.6,17.1C66.1,16.2 63.6,14.5 62.9,12.6C62.1,10.7 62.3,7.0 64.0,5.7Z" fill="#1a8a2a"/><path d="M77.7,27.4C79.4,25.7 84.2,25.5 85.7,26.3C87.2,27.0 87.4,29.5 86.9,32.0C86.3,34.5 83.6,37.9 82.3,41.1C81.0,44.4 80.2,49.5 78.9,51.4C77.5,53.3 75.2,53.7 74.3,52.6C73.3,51.4 73.0,47.2 73.1,44.6C73.3,41.9 74.7,39.4 75.4,36.6C76.2,33.7 76.0,29.1 77.7,27.4Z" fill="#1a8a2a"/><path d="M35.4,6.9C36.0,5.4 41.0,5.1 42.3,6.3C43.6,7.4 44.0,12.3 43.4,13.7C42.9,15.1 40.2,16.0 38.9,14.9C37.5,13.7 34.9,8.3 35.4,6.9Z" fill="#1a8a2a"/><path d="M85.7,19.4C86.2,19.3 89.6,24.1 91.4,26.3C93.2,28.5 95.2,30.5 96.6,32.6C97.9,34.7 99.1,36.9 99.7,38.9C100.2,40.9 100.2,42.9 100.0,44.6C99.8,46.3 100.5,48.1 98.3,49.1C96.1,50.2 89.8,50.3 86.9,50.9C83.9,51.4 81.5,54.0 80.6,52.6C79.7,51.1 80.6,45.3 81.4,42.3C82.1,39.2 83.9,36.9 85.1,34.3C86.3,31.7 88.5,29.3 88.6,26.9C88.7,24.4 85.2,19.5 85.7,19.4Z" fill="#8a2a9a"/><use href="#latS" fill="#000" filter="url(#nsurf)" opacity="0.22"/></g><use href="#latS" fill="none" stroke="#333" stroke-width="0.5"/></g><g transform="translate(1886.0,1980.0) scale(-1.5350,1.5211)"><use href="#medS" fill="#e85a6a"/><g clip-path="url(#medC)"><path d="M0.6,40.9C0.8,38.1 1.5,33.9 2.9,30.6C4.2,27.4 6.7,23.7 8.6,21.5C10.5,19.3 12.6,17.7 14.3,17.5C16.0,17.3 17.5,18.9 18.9,20.3C20.2,21.8 20.8,24.3 22.3,26.1C23.8,27.8 26.1,28.5 28.0,30.6C29.9,32.7 32.2,36.0 33.7,38.6C35.2,41.3 36.0,44.0 37.1,46.6C38.3,49.3 41.7,53.5 40.6,54.6C39.4,55.8 33.9,54.1 30.3,53.5C26.7,52.9 22.7,51.7 18.9,51.2C15.0,50.7 10.3,51.2 7.4,50.6C4.6,50.1 2.9,49.4 1.7,47.8C0.6,46.2 0.4,43.8 0.6,40.9Z" fill="#8a2a9a"/><path d="M20.0,10.1C21.1,8.7 25.0,6.2 26.9,5.5C28.8,4.7 30.9,4.3 31.4,5.5C32.0,6.6 31.4,10.8 30.3,12.3C29.1,13.9 26.3,14.4 24.6,14.6C22.9,14.8 20.8,14.2 20.0,13.5C19.2,12.7 18.9,11.4 20.0,10.1Z" fill="#1a8a2a"/><path d="M30.3,3.8C31.5,1.6 35.6,1.2 39.4,0.7C43.2,0.2 49.7,0.3 53.1,0.9C56.6,1.5 59.0,2.2 60.0,4.3C61.0,6.4 59.6,11.3 58.9,13.5C58.1,15.7 57.7,16.5 55.4,17.5C53.1,18.4 48.2,19.1 45.1,19.2C42.1,19.3 39.3,19.0 37.1,18.1C35.0,17.1 33.1,15.9 32.0,13.5C30.9,11.1 29.0,5.9 30.3,3.8Z" fill="#5a9cc8"/><path d="M57.7,4.3C58.7,3.0 62.3,4.2 64.6,5.5C66.9,6.8 69.5,10.1 71.4,12.3C73.3,14.6 74.9,16.7 76.0,19.2C77.1,21.7 78.7,25.5 78.3,27.2C77.9,28.9 75.4,29.9 73.7,29.5C72.0,29.1 69.9,26.4 68.0,24.9C66.1,23.4 63.8,22.2 62.3,20.3C60.8,18.4 59.6,16.2 58.9,13.5C58.1,10.8 56.8,5.7 57.7,4.3Z" fill="#e040f0"/><path d="M30.3,13.5C30.9,13.1 33.0,14.6 34.9,15.8C36.8,16.9 41.5,19.2 41.7,20.3C41.9,21.5 37.7,23.0 36.0,22.6C34.3,22.2 32.4,19.6 31.4,18.1C30.5,16.5 29.7,13.9 30.3,13.5Z" fill="#e040f0"/><path d="M65.7,11.2C66.1,10.4 71.2,13.1 73.7,14.6C76.2,16.2 79.4,18.4 80.6,20.3C81.7,22.2 81.3,25.3 80.6,26.1C79.8,26.8 77.5,26.1 76.0,24.9C74.5,23.8 73.1,21.5 71.4,19.2C69.7,16.9 65.3,12.0 65.7,11.2Z" fill="#f0a030"/><path d="M41.7,56.9C42.9,56.5 47.4,56.9 50.9,56.9C54.3,56.9 59.6,58.1 62.3,56.9C65.0,55.8 64.6,51.4 66.9,50.1C69.1,48.7 72.6,48.5 76.0,48.9C79.4,49.3 84.2,51.0 87.4,52.3C90.7,53.7 95.4,55.8 95.4,56.9C95.4,58.1 90.7,59.0 87.4,59.2C84.2,59.4 78.7,57.7 76.0,58.1C73.3,58.4 72.6,60.0 71.4,61.5C70.3,63.0 70.7,65.9 69.1,67.2C67.6,68.5 64.6,69.5 62.3,69.5C60.0,69.5 57.3,68.5 55.4,67.2C53.5,65.9 52.8,62.8 50.9,61.5C49.0,60.2 45.5,60.0 44.0,59.2C42.5,58.4 40.6,57.3 41.7,56.9Z" fill="#e0f4b0"/><path d="M33.7,36.3C34.3,33.9 35.8,32.2 38.3,30.6C40.8,29.1 44.6,27.8 48.6,27.2C52.6,26.6 57.7,26.8 62.3,27.2C66.9,27.6 72.8,28.0 76.0,29.5C79.2,31.0 81.0,34.2 81.7,36.3C82.5,38.4 82.3,40.5 80.6,42.1C78.9,43.6 73.5,43.8 71.4,45.5C69.3,47.2 68.0,49.7 68.0,52.3C68.0,55.0 72.0,59.2 71.4,61.5C70.9,63.8 67.2,65.9 64.6,66.1C61.9,66.3 57.7,64.2 55.4,62.6C53.1,61.1 53.1,58.6 50.9,56.9C48.6,55.2 44.4,54.2 41.7,52.3C39.0,50.4 36.2,48.2 34.9,45.5C33.5,42.8 33.1,38.8 33.7,36.3Z" fill="#e6e6e6"/><use href="#medS" fill="#000" filter="url(#nsurf)" opacity="0.22"/></g><use href="#medS" fill="none" stroke="#333" stroke-width="0.5"/></g>
<text x="0.0" y="29.6" font-size="41" font-weight="bold">A</text>
<text x="51.5" y="29.6" font-size="41" font-weight="bold">Decoding the functions of Association and Subcortical/limbic Development modes</text>
<text x="0.0" y="1577.0" font-size="41" font-weight="bold">B</text>
<text x="51.5" y="1577.0" font-size="41" font-weight="bold">Decoding results for sCCA modes</text>
<text x="976.5" y="1576.8" font-size="41" font-weight="bold">C</text>
<text x="1041.5" y="1576.8" font-size="41" font-weight="bold">Functional</text>
<text x="1266.5" y="1576.8" font-size="41" font-weight="bold">networks</text>
<text x="1462.5" y="1576.8" font-size="41" font-weight="bold">connected</text>
<text x="1684.5" y="1576.8" font-size="41" font-weight="bold">by</text>
<text x="1750.5" y="1576.8" font-size="41" font-weight="bold">the</text>
<text x="1827.5" y="1576.8" font-size="41" font-weight="bold">significant</text>
<text x="976.5" y="1626.4" font-size="41" font-weight="bold">tracts in two sCCA modes</text>
<path d="M222.0,79.0H70.6V534.9H940.0V79.0H802.5" fill="none" stroke="#aeabab" stroke-width="3.8" stroke-linejoin="miter"/>
<path d="M1135.0,79.0H979.3V532.9H1940.0V79.0H1842.0" fill="none" stroke="#aeabab" stroke-width="3.8" stroke-linejoin="miter"/>
<path d="M714.0,587.2H69.0V1007.8H1939.2V587.2H1202.0" fill="none" stroke="#aeabab" stroke-width="3.8" stroke-linejoin="miter"/>
<path d="M608.6,1047.8H69.0V1531.2H1940.0V1047.8H1318.0" fill="none" stroke="#aeabab" stroke-width="3.8" stroke-linejoin="miter"/>
<text x="254.5" y="91.0" font-size="34.7">Neurosynth topic representations</text>
<text x="1166.0" y="90.5" font-size="34.8">Mapping the fiber ends to cortical surface</text>
<text x="247.4" y="150.2" font-size="34.6">11_task_cognitive_performance</text>
<text x="267.5" y="373.5" font-size="34.8">5_depression_mdd_disorder</text>
<text x="495.0" y="328.3" font-size="32" font-weight="bold" text-anchor="middle">...</text>
<text x="750.5" y="597.7" font-size="34.9">Tract-wise function profiles</text>
<text x="659.8" y="1054.0" font-size="34.85">Relationships to sCCA loading patterns</text>
<text x="1228.0" y="293.9" font-size="34.4">SLF2</text>
<text x="1391.5" y="293.9" font-size="34.8">C_PHP</text>
<text x="1589.0" y="293.9" font-size="34.2">VOF</text>
<text x="1356.0" y="187.5" font-size="29" font-weight="bold" text-anchor="middle">...</text>
<text x="1532.0" y="185.5" font-size="29" font-weight="bold" text-anchor="middle">...</text>
<path d="M474,536 C474,560 485,572 500,578" fill="none" stroke="#707070" stroke-width="6"/>
<path d="M514.0,582.0L494.6,586.8L501.1,566.7Z" fill="#707070"/>
<path d="M1404,534 C1404,558 1393,570 1378,576" fill="none" stroke="#707070" stroke-width="6"/>
<path d="M1365.0,581.0L1377.9,565.7L1384.4,585.8Z" fill="#707070"/>
<path d="M1206,263 C1188,264 1176,276 1170,292" fill="none" stroke="#707070" stroke-width="6.5"/>
<path d="M1163.0,307.0L1159.4,286.1L1180.1,294.5Z" fill="#707070"/>
<line x1="1443.0" y1="316.0" x2="1443.0" y2="360.0" stroke="#707070" stroke-width="7" stroke-linecap="butt"/>
<path d="M1443.0,376.0L1434.7,358.0L1451.3,358.0Z" fill="#707070"/>
<path d="M1673,263 C1692,266 1704,278 1708,292" fill="none" stroke="#707070" stroke-width="6.5"/>
<path d="M1713.0,307.0L1696.4,293.9L1717.3,286.3Z" fill="#707070"/>
<rect x="200.5" y="701.0" width="18.0" height="77.6" fill="#aa0000"/>
<rect x="227.2" y="697.0" width="18.0" height="81.6" fill="#aa0000"/>
<rect x="307.3" y="717.0" width="18.0" height="61.6" fill="#aa0000"/>
<rect x="334.0" y="772.7" width="18.0" height="5.9" fill="#aa0000"/>
<rect x="360.7" y="714.6" width="18.0" height="64.0" fill="#e27a62"/>
<rect x="387.4" y="755.7" width="18.0" height="22.9" fill="#e27a62"/>
<rect x="414.1" y="783.8" width="18.0" height="16.2" fill="#e27a62"/>
<rect x="440.8" y="750.0" width="18.0" height="28.6" fill="#e27a62"/>
<rect x="467.5" y="767.0" width="18.0" height="11.6" fill="#33aa33"/>
<rect x="494.2" y="711.8" width="18.0" height="66.8" fill="#33aa33"/>
<rect x="547.6" y="783.8" width="18.0" height="14.2" fill="#4476aa"/>
<rect x="574.3" y="783.8" width="18.0" height="66.2" fill="#4476aa"/>
<rect x="601.0" y="783.8" width="18.0" height="56.9" fill="#4476aa"/>
<rect x="627.7" y="783.8" width="18.0" height="74.2" fill="#4476aa"/>
<rect x="654.4" y="783.8" width="18.0" height="69.8" fill="#4476aa"/>
<rect x="681.1" y="783.8" width="18.0" height="14.9" fill="#7f400a"/>
<rect x="707.8" y="783.8" width="18.0" height="34.2" fill="#7f400a"/>
<rect x="734.5" y="783.8" width="18.0" height="20.2" fill="#7f400a"/>
<rect x="761.2" y="783.8" width="18.0" height="12.7" fill="#7b4690"/>
<rect x="787.9" y="727.7" width="18.0" height="50.9" fill="#7b4690"/>
<rect x="814.6" y="765.8" width="18.0" height="12.8" fill="#7b4690"/>
<line x1="191.6" y1="675.5" x2="191.6" y2="886.0" stroke="#000" stroke-width="6.2" stroke-linecap="butt"/>
<line x1="170.1" y1="678.6" x2="191.6" y2="678.6" stroke="#000" stroke-width="6.2" stroke-linecap="butt"/>
<text x="165.1" y="686.6" font-size="22" font-weight="bold" text-anchor="end">2</text>
<line x1="170.1" y1="729.7" x2="191.6" y2="729.7" stroke="#000" stroke-width="6.2" stroke-linecap="butt"/>
<text x="165.1" y="737.7" font-size="22" font-weight="bold" text-anchor="end">1</text>
<line x1="170.1" y1="781.2" x2="191.6" y2="781.2" stroke="#000" stroke-width="6.2" stroke-linecap="butt"/>
<text x="165.1" y="789.2" font-size="22" font-weight="bold" text-anchor="end">0</text>
<line x1="170.1" y1="832.3" x2="191.6" y2="832.3" stroke="#000" stroke-width="6.2" stroke-linecap="butt"/>
<text x="165.1" y="840.3" font-size="22" font-weight="bold" text-anchor="end">-1</text>
<line x1="170.1" y1="882.9" x2="191.6" y2="882.9" stroke="#000" stroke-width="6.2" stroke-linecap="butt"/>
<text x="165.1" y="890.9" font-size="22" font-weight="bold" text-anchor="end">-2</text>
<line x1="191.6" y1="781.2" x2="842.6" y2="781.2" stroke="#000" stroke-width="6.2" stroke-linecap="butt"/>
<line x1="170.1" y1="882.9" x2="842.6" y2="882.9" stroke="#000" stroke-width="6.2" stroke-linecap="butt"/>
<line x1="209.5" y1="882.9" x2="209.5" y2="902.9" stroke="#000" stroke-width="5.6" stroke-linecap="butt"/>
<text x="217.3" y="908.9" font-size="22" font-weight="bold" text-anchor="end" transform="rotate(-90 217.3 908.9)">AF</text>
<line x1="236.2" y1="882.9" x2="236.2" y2="902.9" stroke="#000" stroke-width="5.6" stroke-linecap="butt"/>
<text x="244.0" y="908.9" font-size="22" font-weight="bold" text-anchor="end" transform="rotate(-90 244.0 908.9)">FAT</text>
<line x1="262.9" y1="882.9" x2="262.9" y2="902.9" stroke="#000" stroke-width="5.6" stroke-linecap="butt"/>
<text x="270.7" y="908.9" font-size="22" font-weight="bold" text-anchor="end" transform="rotate(-90 270.7 908.9)">PAT</text>
<line x1="289.6" y1="882.9" x2="289.6" y2="902.9" stroke="#000" stroke-width="5.6" stroke-linecap="butt"/>
<text x="297.4" y="908.9" font-size="22" font-weight="bold" text-anchor="end" transform="rotate(-90 297.4 908.9)">SLF2</text>
<line x1="316.3" y1="882.9" x2="316.3" y2="902.9" stroke="#000" stroke-width="5.6" stroke-linecap="butt"/>
<text x="324.1" y="908.9" font-size="22" font-weight="bold" text-anchor="end" transform="rotate(-90 324.1 908.9)">SLF3</text>
<line x1="343.0" y1="882.9" x2="343.0" y2="902.9" stroke="#000" stroke-width="5.6" stroke-linecap="butt"/>
<text x="350.8" y="908.9" font-size="22" font-weight="bold" text-anchor="end" transform="rotate(-90 350.8 908.9)">SLF1</text>
<line x1="369.7" y1="882.9" x2="369.7" y2="902.9" stroke="#000" stroke-width="5.6" stroke-linecap="butt"/>
<text x="377.5" y="908.9" font-size="22" font-weight="bold" text-anchor="end" transform="rotate(-90 377.5 908.9)">IFOF</text>
<line x1="396.4" y1="882.9" x2="396.4" y2="902.9" stroke="#000" stroke-width="5.6" stroke-linecap="butt"/>
<text x="404.2" y="908.9" font-size="22" font-weight="bold" text-anchor="end" transform="rotate(-90 404.2 908.9)">ILF</text>
<line x1="423.1" y1="882.9" x2="423.1" y2="902.9" stroke="#000" stroke-width="5.6" stroke-linecap="butt"/>
<text x="430.9" y="908.9" font-size="22" font-weight="bold" text-anchor="end" transform="rotate(-90 430.9 908.9)">UF</text>
<line x1="449.8" y1="882.9" x2="449.8" y2="902.9" stroke="#000" stroke-width="5.6" stroke-linecap="butt"/>
<text x="457.6" y="908.9" font-size="22" font-weight="bold" text-anchor="end" transform="rotate(-90 457.6 908.9)">MdLF</text>
<line x1="476.5" y1="882.9" x2="476.5" y2="902.9" stroke="#000" stroke-width="5.6" stroke-linecap="butt"/>
<text x="484.3" y="908.9" font-size="22" font-weight="bold" text-anchor="end" transform="rotate(-90 484.3 908.9)">VOF</text>
<line x1="503.2" y1="882.9" x2="503.2" y2="902.9" stroke="#000" stroke-width="5.6" stroke-linecap="butt"/>
<text x="511.0" y="908.9" font-size="22" font-weight="bold" text-anchor="end" transform="rotate(-90 511.0 908.9)">OR</text>
<line x1="529.9" y1="882.9" x2="529.9" y2="902.9" stroke="#000" stroke-width="5.6" stroke-linecap="butt"/>
<text x="537.7" y="908.9" font-size="22" font-weight="bold" text-anchor="end" transform="rotate(-90 537.7 908.9)">CST</text>
<line x1="556.6" y1="882.9" x2="556.6" y2="902.9" stroke="#000" stroke-width="5.6" stroke-linecap="butt"/>
<text x="564.4" y="908.9" font-size="22" font-weight="bold" text-anchor="end" transform="rotate(-90 564.4 908.9)">C_PHP</text>
<line x1="583.3" y1="882.9" x2="583.3" y2="902.9" stroke="#000" stroke-width="5.6" stroke-linecap="butt"/>
<text x="591.1" y="908.9" font-size="22" font-weight="bold" text-anchor="end" transform="rotate(-90 591.1 908.9)">C_PH</text>
<line x1="610.0" y1="882.9" x2="610.0" y2="902.9" stroke="#000" stroke-width="5.6" stroke-linecap="butt"/>
<text x="617.8" y="908.9" font-size="22" font-weight="bold" text-anchor="end" transform="rotate(-90 617.8 908.9)">C_FP</text>
<line x1="636.7" y1="882.9" x2="636.7" y2="902.9" stroke="#000" stroke-width="5.6" stroke-linecap="butt"/>
<text x="644.5" y="908.9" font-size="22" font-weight="bold" text-anchor="end" transform="rotate(-90 644.5 908.9)">C_FPH</text>
<line x1="663.4" y1="882.9" x2="663.4" y2="902.9" stroke="#000" stroke-width="5.6" stroke-linecap="butt"/>
<text x="671.2" y="908.9" font-size="22" font-weight="bold" text-anchor="end" transform="rotate(-90 671.2 908.9)">C_PO</text>
<line x1="690.1" y1="882.9" x2="690.1" y2="902.9" stroke="#000" stroke-width="5.6" stroke-linecap="butt"/>
<text x="697.9" y="908.9" font-size="22" font-weight="bold" text-anchor="end" transform="rotate(-90 697.9 908.9)">CS_A</text>
<line x1="716.8" y1="882.9" x2="716.8" y2="902.9" stroke="#000" stroke-width="5.6" stroke-linecap="butt"/>
<text x="724.6" y="908.9" font-size="22" font-weight="bold" text-anchor="end" transform="rotate(-90 724.6 908.9)">CS_P</text>
<line x1="743.5" y1="882.9" x2="743.5" y2="902.9" stroke="#000" stroke-width="5.6" stroke-linecap="butt"/>
<text x="751.3" y="908.9" font-size="22" font-weight="bold" text-anchor="end" transform="rotate(-90 751.3 908.9)">CS_S</text>
<line x1="770.2" y1="882.9" x2="770.2" y2="902.9" stroke="#000" stroke-width="5.6" stroke-linecap="butt"/>
<text x="778.0" y="908.9" font-size="22" font-weight="bold" text-anchor="end" transform="rotate(-90 778.0 908.9)">TR_A</text>
<line x1="796.9" y1="882.9" x2="796.9" y2="902.9" stroke="#000" stroke-width="5.6" stroke-linecap="butt"/>
<text x="804.7" y="908.9" font-size="22" font-weight="bold" text-anchor="end" transform="rotate(-90 804.7 908.9)">TR_P</text>
<line x1="823.6" y1="882.9" x2="823.6" y2="902.9" stroke="#000" stroke-width="5.6" stroke-linecap="butt"/>
<text x="831.4" y="908.9" font-size="22" font-weight="bold" text-anchor="end" transform="rotate(-90 831.4 908.9)">TR_S</text>
<text x="141.3" y="772.2" font-size="33.5" font-weight="bold" text-anchor="middle" transform="rotate(-90 141.3 772.2)">z-score</text>
<rect x="1177.2" y="777.1" width="17.3" height="29.3" fill="#aa0000"/>
<rect x="1203.0" y="777.1" width="17.3" height="19.2" fill="#aa0000"/>
<rect x="1228.7" y="777.1" width="17.3" height="30.9" fill="#aa0000"/>
<rect x="1254.3" y="777.1" width="17.3" height="44.4" fill="#aa0000"/>
<rect x="1280.0" y="777.1" width="17.3" height="39.9" fill="#aa0000"/>
<rect x="1305.8" y="777.1" width="17.3" height="6.4" fill="#aa0000"/>
<rect x="1382.8" y="697.0" width="17.3" height="74.9" fill="#e27a62"/>
<rect x="1408.5" y="777.1" width="17.3" height="41.2" fill="#e27a62"/>
<rect x="1434.2" y="777.1" width="17.3" height="56.9" fill="#33aa33"/>
<rect x="1460.0" y="777.1" width="17.3" height="3.6" fill="#33aa33"/>
<rect x="1485.7" y="760.0" width="17.3" height="11.9" fill="#33aa33"/>
<rect x="1537.0" y="739.0" width="17.3" height="32.9" fill="#4476aa"/>
<rect x="1562.8" y="753.4" width="17.3" height="18.5" fill="#4476aa"/>
<rect x="1588.5" y="751.3" width="17.3" height="20.6" fill="#4476aa"/>
<rect x="1614.2" y="729.0" width="17.3" height="42.9" fill="#4476aa"/>
<rect x="1639.8" y="722.4" width="17.3" height="49.5" fill="#7f400a"/>
<rect x="1665.5" y="757.0" width="17.3" height="14.9" fill="#7f400a"/>
<rect x="1716.9" y="766.3" width="17.3" height="5.6" fill="#7b4690"/>
<rect x="1742.7" y="777.1" width="17.3" height="15.9" fill="#7b4690"/>
<rect x="1768.3" y="777.1" width="17.3" height="4.5" fill="#7b4690"/>
<line x1="1169.2" y1="670.8" x2="1169.2" y2="878.2" stroke="#000" stroke-width="6.2" stroke-linecap="butt"/>
<line x1="1147.7" y1="673.9" x2="1169.2" y2="673.9" stroke="#000" stroke-width="6.2" stroke-linecap="butt"/>
<text x="1142.7" y="681.9" font-size="22" font-weight="bold" text-anchor="end">3</text>
<line x1="1147.7" y1="707.4" x2="1169.2" y2="707.4" stroke="#000" stroke-width="6.2" stroke-linecap="butt"/>
<text x="1142.7" y="715.4" font-size="22" font-weight="bold" text-anchor="end">2</text>
<line x1="1147.7" y1="741.0" x2="1169.2" y2="741.0" stroke="#000" stroke-width="6.2" stroke-linecap="butt"/>
<text x="1142.7" y="749.0" font-size="22" font-weight="bold" text-anchor="end">1</text>
<line x1="1147.7" y1="774.5" x2="1169.2" y2="774.5" stroke="#000" stroke-width="6.2" stroke-linecap="butt"/>
<text x="1142.7" y="782.5" font-size="22" font-weight="bold" text-anchor="end">0</text>
<line x1="1147.7" y1="808.0" x2="1169.2" y2="808.0" stroke="#000" stroke-width="6.2" stroke-linecap="butt"/>
<text x="1142.7" y="816.0" font-size="22" font-weight="bold" text-anchor="end">-1</text>
<line x1="1147.7" y1="841.6" x2="1169.2" y2="841.6" stroke="#000" stroke-width="6.2" stroke-linecap="butt"/>
<text x="1142.7" y="849.6" font-size="22" font-weight="bold" text-anchor="end">-2</text>
<line x1="1147.7" y1="875.1" x2="1169.2" y2="875.1" stroke="#000" stroke-width="6.2" stroke-linecap="butt"/>
<text x="1142.7" y="883.1" font-size="22" font-weight="bold" text-anchor="end">-3</text>
<line x1="1169.2" y1="774.5" x2="1794.5" y2="774.5" stroke="#000" stroke-width="6.2" stroke-linecap="butt"/>
<line x1="1147.7" y1="875.1" x2="1794.5" y2="875.1" stroke="#000" stroke-width="6.2" stroke-linecap="butt"/>
<line x1="1185.9" y1="875.1" x2="1185.9" y2="895.1" stroke="#000" stroke-width="5.6" stroke-linecap="butt"/>
<text x="1193.7" y="901.1" font-size="22" font-weight="bold" text-anchor="end" transform="rotate(-90 1193.7 901.1)">AF</text>
<line x1="1211.6" y1="875.1" x2="1211.6" y2="895.1" stroke="#000" stroke-width="5.6" stroke-linecap="butt"/>
<text x="1219.4" y="901.1" font-size="22" font-weight="bold" text-anchor="end" transform="rotate(-90 1219.4 901.1)">FAT</text>
<line x1="1237.3" y1="875.1" x2="1237.3" y2="895.1" stroke="#000" stroke-width="5.6" stroke-linecap="butt"/>
<text x="1245.1" y="901.1" font-size="22" font-weight="bold" text-anchor="end" transform="rotate(-90 1245.1 901.1)">PAT</text>
<line x1="1263.0" y1="875.1" x2="1263.0" y2="895.1" stroke="#000" stroke-width="5.6" stroke-linecap="butt"/>
<text x="1270.8" y="901.1" font-size="22" font-weight="bold" text-anchor="end" transform="rotate(-90 1270.8 901.1)">SLF2</text>
<line x1="1288.7" y1="875.1" x2="1288.7" y2="895.1" stroke="#000" stroke-width="5.6" stroke-linecap="butt"/>
<text x="1296.5" y="901.1" font-size="22" font-weight="bold" text-anchor="end" transform="rotate(-90 1296.5 901.1)">SLF3</text>
<line x1="1314.4" y1="875.1" x2="1314.4" y2="895.1" stroke="#000" stroke-width="5.6" stroke-linecap="butt"/>
<text x="1322.2" y="901.1" font-size="22" font-weight="bold" text-anchor="end" transform="rotate(-90 1322.2 901.1)">SLF1</text>
<line x1="1340.1" y1="875.1" x2="1340.1" y2="895.1" stroke="#000" stroke-width="5.6" stroke-linecap="butt"/>
<text x="1347.9" y="901.1" font-size="22" font-weight="bold" text-anchor="end" transform="rotate(-90 1347.9 901.1)">IFOF</text>
<line x1="1365.8" y1="875.1" x2="1365.8" y2="895.1" stroke="#000" stroke-width="5.6" stroke-linecap="butt"/>
<text x="1373.6" y="901.1" font-size="22" font-weight="bold" text-anchor="end" transform="rotate(-90 1373.6 901.1)">ILF</text>
<line x1="1391.5" y1="875.1" x2="1391.5" y2="895.1" stroke="#000" stroke-width="5.6" stroke-linecap="butt"/>
<text x="1399.3" y="901.1" font-size="22" font-weight="bold" text-anchor="end" transform="rotate(-90 1399.3 901.1)">UF</text>
<line x1="1417.2" y1="875.1" x2="1417.2" y2="895.1" stroke="#000" stroke-width="5.6" stroke-linecap="butt"/>
<text x="1425.0" y="901.1" font-size="22" font-weight="bold" text-anchor="end" transform="rotate(-90 1425.0 901.1)">MdLF</text>
<line x1="1442.9" y1="875.1" x2="1442.9" y2="895.1" stroke="#000" stroke-width="5.6" stroke-linecap="butt"/>
<text x="1450.7" y="901.1" font-size="22" font-weight="bold" text-anchor="end" transform="rotate(-90 1450.7 901.1)">VOF</text>
<line x1="1468.6" y1="875.1" x2="1468.6" y2="895.1" stroke="#000" stroke-width="5.6" stroke-linecap="butt"/>
<text x="1476.4" y="901.1" font-size="22" font-weight="bold" text-anchor="end" transform="rotate(-90 1476.4 901.1)">OR</text>
<line x1="1494.3" y1="875.1" x2="1494.3" y2="895.1" stroke="#000" stroke-width="5.6" stroke-linecap="butt"/>
<text x="1502.1" y="901.1" font-size="22" font-weight="bold" text-anchor="end" transform="rotate(-90 1502.1 901.1)">CST</text>
<line x1="1520.0" y1="875.1" x2="1520.0" y2="895.1" stroke="#000" stroke-width="5.6" stroke-linecap="butt"/>
<text x="1527.8" y="901.1" font-size="22" font-weight="bold" text-anchor="end" transform="rotate(-90 1527.8 901.1)">C_PHP</text>
<line x1="1545.7" y1="875.1" x2="1545.7" y2="895.1" stroke="#000" stroke-width="5.6" stroke-linecap="butt"/>
<text x="1553.5" y="901.1" font-size="22" font-weight="bold" text-anchor="end" transform="rotate(-90 1553.5 901.1)">C_PH</text>
<line x1="1571.4" y1="875.1" x2="1571.4" y2="895.1" stroke="#000" stroke-width="5.6" stroke-linecap="butt"/>
<text x="1579.2" y="901.1" font-size="22" font-weight="bold" text-anchor="end" transform="rotate(-90 1579.2 901.1)">C_FP</text>
<line x1="1597.1" y1="875.1" x2="1597.1" y2="895.1" stroke="#000" stroke-width="5.6" stroke-linecap="butt"/>
<text x="1604.9" y="901.1" font-size="22" font-weight="bold" text-anchor="end" transform="rotate(-90 1604.9 901.1)">C_FPH</text>
<line x1="1622.8" y1="875.1" x2="1622.8" y2="895.1" stroke="#000" stroke-width="5.6" stroke-linecap="butt"/>
<text x="1630.6" y="901.1" font-size="22" font-weight="bold" text-anchor="end" transform="rotate(-90 1630.6 901.1)">C_PO</text>
<line x1="1648.5" y1="875.1" x2="1648.5" y2="895.1" stroke="#000" stroke-width="5.6" stroke-linecap="butt"/>
<text x="1656.3" y="901.1" font-size="22" font-weight="bold" text-anchor="end" transform="rotate(-90 1656.3 901.1)">CS_A</text>
<line x1="1674.2" y1="875.1" x2="1674.2" y2="895.1" stroke="#000" stroke-width="5.6" stroke-linecap="butt"/>
<text x="1682.0" y="901.1" font-size="22" font-weight="bold" text-anchor="end" transform="rotate(-90 1682.0 901.1)">CS_P</text>
<line x1="1699.9" y1="875.1" x2="1699.9" y2="895.1" stroke="#000" stroke-width="5.6" stroke-linecap="butt"/>
<text x="1707.7" y="901.1" font-size="22" font-weight="bold" text-anchor="end" transform="rotate(-90 1707.7 901.1)">CS_S</text>
<line x1="1725.6" y1="875.1" x2="1725.6" y2="895.1" stroke="#000" stroke-width="5.6" stroke-linecap="butt"/>
<text x="1733.4" y="901.1" font-size="22" font-weight="bold" text-anchor="end" transform="rotate(-90 1733.4 901.1)">TR_A</text>
<line x1="1751.3" y1="875.1" x2="1751.3" y2="895.1" stroke="#000" stroke-width="5.6" stroke-linecap="butt"/>
<text x="1759.1" y="901.1" font-size="22" font-weight="bold" text-anchor="end" transform="rotate(-90 1759.1 901.1)">TR_P</text>
<line x1="1777.0" y1="875.1" x2="1777.0" y2="895.1" stroke="#000" stroke-width="5.6" stroke-linecap="butt"/>
<text x="1784.8" y="901.1" font-size="22" font-weight="bold" text-anchor="end" transform="rotate(-90 1784.8 901.1)">TR_S</text>
<text x="963.0" y="756.5" font-size="29" font-weight="bold" text-anchor="middle">...</text>
<text x="258.7" y="649.3" font-size="32.8">11_task_cognitive_performance</text>
<text x="1247.6" y="648.0" font-size="33">5_depression_mdd_disorder</text>
<line x1="194.8" y1="1069.1" x2="194.8" y2="1413.7" stroke="#000" stroke-width="3.6" stroke-linecap="butt"/>
<line x1="180.1" y1="1070.9" x2="194.8" y2="1070.9" stroke="#000" stroke-width="3.6" stroke-linecap="butt"/>
<text x="176.2" y="1078.5" font-size="21.5" font-weight="bold" text-anchor="end">0.5</text>
<line x1="180.1" y1="1127.7" x2="194.8" y2="1127.7" stroke="#000" stroke-width="3.6" stroke-linecap="butt"/>
<text x="176.2" y="1135.3" font-size="21.5" font-weight="bold" text-anchor="end">0.4</text>
<line x1="180.1" y1="1184.6" x2="194.8" y2="1184.6" stroke="#000" stroke-width="3.6" stroke-linecap="butt"/>
<text x="176.2" y="1192.2" font-size="21.5" font-weight="bold" text-anchor="end">0.3</text>
<line x1="180.1" y1="1241.4" x2="194.8" y2="1241.4" stroke="#000" stroke-width="3.6" stroke-linecap="butt"/>
<text x="176.2" y="1249.0" font-size="21.5" font-weight="bold" text-anchor="end">0.2</text>
<line x1="180.1" y1="1298.2" x2="194.8" y2="1298.2" stroke="#000" stroke-width="3.6" stroke-linecap="butt"/>
<text x="176.2" y="1305.8" font-size="21.5" font-weight="bold" text-anchor="end">0.1</text>
<line x1="180.1" y1="1355.1" x2="194.8" y2="1355.1" stroke="#000" stroke-width="3.6" stroke-linecap="butt"/>
<text x="176.2" y="1362.7" font-size="21.5" font-weight="bold" text-anchor="end">0.0</text>
<line x1="180.1" y1="1411.9" x2="194.8" y2="1411.9" stroke="#000" stroke-width="3.6" stroke-linecap="butt"/>
<text x="176.2" y="1419.5" font-size="21.5" font-weight="bold" text-anchor="end">-0.1</text>
<line x1="180.3" y1="1411.9" x2="536.6" y2="1411.9" stroke="#000" stroke-width="3.6" stroke-linecap="butt"/>
<line x1="195.3" y1="1411.9" x2="195.3" y2="1425.9" stroke="#000" stroke-width="3.6" stroke-linecap="butt"/>
<text x="195.3" y="1450.2" font-size="21.5" font-weight="bold" text-anchor="middle">-2</text>
<line x1="280.0" y1="1411.9" x2="280.0" y2="1425.9" stroke="#000" stroke-width="3.6" stroke-linecap="butt"/>
<text x="280.0" y="1450.2" font-size="21.5" font-weight="bold" text-anchor="middle">-1</text>
<line x1="364.8" y1="1411.9" x2="364.8" y2="1425.9" stroke="#000" stroke-width="3.6" stroke-linecap="butt"/>
<text x="364.8" y="1450.2" font-size="21.5" font-weight="bold" text-anchor="middle">0</text>
<line x1="450.0" y1="1411.9" x2="450.0" y2="1425.9" stroke="#000" stroke-width="3.6" stroke-linecap="butt"/>
<text x="450.0" y="1450.2" font-size="21.5" font-weight="bold" text-anchor="middle">1</text>
<line x1="535.0" y1="1411.9" x2="535.0" y2="1425.9" stroke="#000" stroke-width="3.6" stroke-linecap="butt"/>
<text x="535.0" y="1450.2" font-size="21.5" font-weight="bold" text-anchor="middle">2</text>
<line x1="215.5" y1="1350.9" x2="505.2" y2="1216.1" stroke="#000" stroke-width="3.8" stroke-linecap="butt"/>
<circle cx="406.6" cy="1242.8" r="6.9" fill="#e5806a"/>
<circle cx="339.1" cy="1265.5" r="6.9" fill="#7a3f0c"/>
<circle cx="264.9" cy="1253.2" r="6.9" fill="#4a84c4"/>
<circle cx="303.7" cy="1229.5" r="6.9" fill="#7d4a98"/>
<circle cx="363.5" cy="1212.8" r="6.9" fill="#b00000"/>
<circle cx="470.7" cy="1203.9" r="6.9" fill="#b00000"/>
<circle cx="377.9" cy="1184.1" r="6.9" fill="#b00000"/>
<circle cx="497.7" cy="1172.3" r="6.9" fill="#b00000"/>
<circle cx="504.7" cy="1152.0" r="6.9" fill="#b00000"/>
<circle cx="367.9" cy="1148.6" r="6.9" fill="#b00000"/>
<circle cx="415.8" cy="1258.7" r="6.9" fill="#e5806a"/>
<circle cx="479.4" cy="1263.5" r="6.9" fill="#2fa82f"/>
<circle cx="474.5" cy="1259.1" r="6.9" fill="#e5806a"/>
<circle cx="335.9" cy="1316.0" r="6.9" fill="#4a84c4"/>
<circle cx="453.3" cy="1325.6" r="6.9" fill="#7a3f0c"/>
<circle cx="210.6" cy="1354.9" r="6.9" fill="#4a84c4"/>
<circle cx="239.2" cy="1357.8" r="6.9" fill="#4a84c4"/>
<circle cx="243.2" cy="1355.8" r="6.9" fill="#4a84c4"/>
<circle cx="249.1" cy="1347.0" r="6.9" fill="#4a84c4"/>
<circle cx="232.0" cy="1356.0" r="6.9" fill="#4a84c4"/>
<circle cx="326.0" cy="1354.9" r="6.9" fill="#7d4a98"/>
<circle cx="336.0" cy="1355.5" r="6.9" fill="#7d4a98"/>
<circle cx="333.4" cy="1354.9" r="6.9" fill="#e5806a"/>
<circle cx="366.1" cy="1354.9" r="6.9" fill="#2fa82f"/>
<circle cx="390.8" cy="1355.8" r="6.9" fill="#7a3f0c"/>
<circle cx="387.2" cy="1354.9" r="6.9" fill="#2fa82f"/>
<text x="350.5" y="1138.7" font-size="18.6">PAT</text>
<text x="517.3" y="1156.5" font-size="18.6">FAT</text>
<text x="510.0" y="1176.6" font-size="18.6">AF</text>
<text x="390.6" y="1189.5" font-size="18.6">SLF1</text>
<text x="423.5" y="1194.6" font-size="18.6">SLF3</text>
<text x="376.2" y="1217.7" font-size="18.6">SLF2</text>
<text x="309.4" y="1225.0" font-size="18.6">CS_P</text>
<text x="315.0" y="1250.6" font-size="18.6">TR_A</text>
<text x="278.5" y="1258.1" font-size="18.6">C_FP</text>
<text x="391.6" y="1247.9" font-size="18.6">MdLF</text>
<text x="415.6" y="1247.9" font-size="18.6">ILF</text>
<text x="488.6" y="1264.5" font-size="18.6">IFOF</text>
<text x="492.6" y="1267.6" font-size="18.6">OR</text>
<text x="348.9" y="1320.9" font-size="18.6">C_PHP</text>
<text x="466.5" y="1330.8" font-size="18.6">TR_P</text>
<text x="408.7" y="1340.6" font-size="18.6">TR_S</text>
<text x="285.4" y="1345.0" font-size="18.6">CS_S</text>
<text x="226.2" y="1351.9" font-size="18.6">C_FPH</text>
<text x="340.2" y="1353.9" font-size="18.6">UF</text>
<text x="380.1" y="1360.8" font-size="18.6">CST</text>
<text x="229.1" y="1372.2" font-size="18.6">C_PO</text>
<text x="243.9" y="1372.2" font-size="18.6">C_PH</text>
<text x="307.5" y="1372.2" font-size="18.6">CS_A</text>
<text x="354.4" y="1383.8" font-size="18.6">VOF</text>
<text x="225.1" y="1359.2" font-size="18.6">F_</text>
<text x="286.5" y="1089.0" font-size="24" font-weight="bold">rho = 0.54, p<tspan font-size="17.5" dy="6.6">FDR</tspan><tspan dy="-6.6"> &lt; 0.05</tspan></text>
<text x="103.4" y="1262.4" font-size="25" font-weight="bold" text-anchor="middle" transform="rotate(-90 103.4 1262.4)">sCCA Loading of</text>
<text x="132.4" y="1261.7" font-size="25" font-weight="bold" text-anchor="middle" transform="rotate(-90 132.4 1261.7)">Association Development Mode</text>
<text x="375.0" y="1474.3" font-size="24.6" font-weight="bold" text-anchor="middle">Cognitive-control &amp; Task Performance</text>
<text x="374.4" y="1502.0" font-size="24.6" font-weight="bold" text-anchor="middle">(z-score)</text>
<line x1="1180.6" y1="1071.1" x2="1180.6" y2="1412.2" stroke="#000" stroke-width="3.6" stroke-linecap="butt"/>
<line x1="1165.9" y1="1072.9" x2="1180.6" y2="1072.9" stroke="#000" stroke-width="3.6" stroke-linecap="butt"/>
<text x="1162.0" y="1080.5" font-size="21.5" font-weight="bold" text-anchor="end">0.5</text>
<line x1="1165.9" y1="1129.2" x2="1180.6" y2="1129.2" stroke="#000" stroke-width="3.6" stroke-linecap="butt"/>
<text x="1162.0" y="1136.8" font-size="21.5" font-weight="bold" text-anchor="end">0.4</text>
<line x1="1165.9" y1="1185.4" x2="1180.6" y2="1185.4" stroke="#000" stroke-width="3.6" stroke-linecap="butt"/>
<text x="1162.0" y="1193.0" font-size="21.5" font-weight="bold" text-anchor="end">0.3</text>
<line x1="1165.9" y1="1241.7" x2="1180.6" y2="1241.7" stroke="#000" stroke-width="3.6" stroke-linecap="butt"/>
<text x="1162.0" y="1249.2" font-size="21.5" font-weight="bold" text-anchor="end">0.2</text>
<line x1="1165.9" y1="1297.9" x2="1180.6" y2="1297.9" stroke="#000" stroke-width="3.6" stroke-linecap="butt"/>
<text x="1162.0" y="1305.5" font-size="21.5" font-weight="bold" text-anchor="end">0.1</text>
<line x1="1165.9" y1="1354.2" x2="1180.6" y2="1354.2" stroke="#000" stroke-width="3.6" stroke-linecap="butt"/>
<text x="1162.0" y="1361.8" font-size="21.5" font-weight="bold" text-anchor="end">0.0</text>
<line x1="1165.9" y1="1410.4" x2="1180.6" y2="1410.4" stroke="#000" stroke-width="3.6" stroke-linecap="butt"/>
<text x="1162.0" y="1418.0" font-size="21.5" font-weight="bold" text-anchor="end">-0.1</text>
<line x1="1166.1" y1="1410.4" x2="1518.0" y2="1410.4" stroke="#000" stroke-width="3.6" stroke-linecap="butt"/>
<line x1="1236.8" y1="1410.4" x2="1236.8" y2="1424.4" stroke="#000" stroke-width="3.6" stroke-linecap="butt"/>
<text x="1236.8" y="1448.7" font-size="21.5" font-weight="bold" text-anchor="middle">-2</text>
<line x1="1349.9" y1="1410.4" x2="1349.9" y2="1424.4" stroke="#000" stroke-width="3.6" stroke-linecap="butt"/>
<text x="1349.9" y="1448.7" font-size="21.5" font-weight="bold" text-anchor="middle">0</text>
<line x1="1461.2" y1="1410.4" x2="1461.2" y2="1424.4" stroke="#000" stroke-width="3.6" stroke-linecap="butt"/>
<text x="1461.2" y="1448.7" font-size="21.5" font-weight="bold" text-anchor="middle">2</text>
<line x1="1249.8" y1="1353.5" x2="1480.5" y2="1221.9" stroke="#000" stroke-width="3.8" stroke-linecap="butt"/>
<circle cx="1374.4" cy="1174.9" r="6.9" fill="#2fa82f"/>
<circle cx="1408.6" cy="1174.9" r="6.9" fill="#4a84c4"/>
<circle cx="1318.8" cy="1211.8" r="6.9" fill="#7a3f0c"/>
<circle cx="1344.2" cy="1221.1" r="6.9" fill="#7d4a98"/>
<circle cx="1346.3" cy="1233.3" r="6.9" fill="#4a84c4"/>
<circle cx="1395.1" cy="1237.2" r="6.9" fill="#4a84c4"/>
<circle cx="1427.0" cy="1211.1" r="6.9" fill="#4a84c4"/>
<circle cx="1438.1" cy="1213.5" r="6.9" fill="#7d4a98"/>
<circle cx="1250.7" cy="1247.7" r="6.9" fill="#2fa82f"/>
<circle cx="1479.6" cy="1260.0" r="6.9" fill="#e5806a"/>
<circle cx="1389.0" cy="1307.4" r="6.9" fill="#4a84c4"/>
<circle cx="1337.2" cy="1338.6" r="6.9" fill="#7a3f0c"/>
<circle cx="1340.2" cy="1332.8" r="6.9" fill="#2fa82f"/>
<circle cx="1348.6" cy="1339.5" r="6.9" fill="#e5806a"/>
<circle cx="1364.4" cy="1332.8" r="6.9" fill="#7a3f0c"/>
<circle cx="1277.0" cy="1345.6" r="6.9" fill="#e5806a"/>
<circle cx="1346.0" cy="1355.3" r="6.9" fill="#e5806a"/>
<circle cx="1271.8" cy="1354.4" r="6.9" fill="#b00000"/>
<circle cx="1278.8" cy="1354.4" r="6.9" fill="#b00000"/>
<circle cx="1296.7" cy="1354.4" r="6.9" fill="#b00000"/>
<circle cx="1334.9" cy="1354.4" r="6.9" fill="#b00000"/>
<circle cx="1378.8" cy="1354.4" r="6.9" fill="#7d4a98"/>
<circle cx="1385.4" cy="1354.4" r="6.9" fill="#4a84c4"/>
<circle cx="1313.0" cy="1368.9" r="6.9" fill="#b00000"/>
<circle cx="1294.0" cy="1377.2" r="6.9" fill="#b00000"/>
<text x="1387.6" y="1179.5" font-size="18.6">CST</text>
<text x="1418.4" y="1173.7" font-size="18.6">C_PH</text>
<text x="1331.1" y="1216.3" font-size="18.6">TR_P</text>
<text x="1355.3" y="1228.1" font-size="18.6">CS_S</text>
<text x="1358.3" y="1235.6" font-size="18.6">C_PHP</text>
<text x="1408.3" y="1241.2" font-size="18.6">F</text>
<text x="1440.2" y="1216.7" font-size="18.6">C_PO</text>
<text x="1450.4" y="1218.4" font-size="18.6">CS_A</text>
<text x="1264.1" y="1251.8" font-size="18.6">VOF</text>
<text x="1492.5" y="1264.0" font-size="18.6">UF</text>
<text x="1402.7" y="1312.3" font-size="18.6">C_FPH</text>
<text x="1264.8" y="1331.6" font-size="18.6">MdLF</text>
<text x="1346.5" y="1327.5" font-size="18.6">OR</text>
<text x="1355.6" y="1332.8" font-size="18.6">IFOF</text>
<text x="1379.8" y="1337.4" font-size="18.6">TR_A</text>
<text x="1224.9" y="1362.3" font-size="18.6">SLF3</text>
<text x="1280.2" y="1359.6" font-size="18.6">SLF2</text>
<text x="1300.4" y="1359.6" font-size="18.6">AF</text>
<text x="1326.7" y="1359.6" font-size="18.6">TR_S</text>
<text x="1347.8" y="1364.9" font-size="18.6">SLF1</text>
<text x="1398.6" y="1359.6" font-size="18.6">C_FP</text>
<text x="1358.3" y="1374.6" font-size="18.6">ILF</text>
<text x="1381.1" y="1377.2" font-size="18.6">CS_P</text>
<text x="1251.8" y="1382.5" font-size="18.6">PAT</text>
<text x="1319.7" y="1385.1" font-size="18.6">FAT</text>
<text x="1270.7" y="1091.6" font-size="24" font-weight="bold">rho = 0.54, p<tspan font-size="17.5" dy="6.6">FDR</tspan><tspan dy="-6.6"> &lt; 0.05</tspan></text>
<text x="1084.8" y="1287.5" font-size="25" font-weight="bold" text-anchor="middle" transform="rotate(-90 1084.8 1287.5)">sCCA Loading of</text>
<text x="1117.4" y="1295" font-size="25" font-weight="bold" text-anchor="middle" transform="rotate(-90 1117.4 1295)">Subcortical/limbic Development Mode</text>
<text x="1350.8" y="1471.7" font-size="24.6" font-weight="bold" text-anchor="middle">Depression</text>
<text x="1350.8" y="1500.7" font-size="24.6" font-weight="bold" text-anchor="middle">(z-score)</text>
<rect x="691.3" y="1339.2" width="6.3" height="2.5" fill="#cccccc" stroke="#dcdcdc" stroke-width="0.6"/>
<rect x="697.7" y="1336.9" width="6.8" height="4.8" fill="#cccccc" stroke="#dcdcdc" stroke-width="0.6"/>
<rect x="704.5" y="1330.4" width="6.6" height="11.3" fill="#cccccc" stroke="#dcdcdc" stroke-width="0.6"/>
<rect x="711.1" y="1322.3" width="6.6" height="19.4" fill="#cccccc" stroke="#dcdcdc" stroke-width="0.6"/>
<rect x="717.7" y="1309.9" width="6.6" height="31.8" fill="#cccccc" stroke="#dcdcdc" stroke-width="0.6"/>
<rect x="724.2" y="1289.9" width="6.6" height="51.8" fill="#cccccc" stroke="#dcdcdc" stroke-width="0.6"/>
<rect x="730.8" y="1277.2" width="6.6" height="64.5" fill="#cccccc" stroke="#dcdcdc" stroke-width="0.6"/>
<rect x="737.4" y="1264.8" width="6.6" height="76.9" fill="#cccccc" stroke="#dcdcdc" stroke-width="0.6"/>
<rect x="744.0" y="1244.6" width="6.6" height="97.1" fill="#cccccc" stroke="#dcdcdc" stroke-width="0.6"/>
<rect x="750.5" y="1217.5" width="6.3" height="124.2" fill="#cccccc" stroke="#dcdcdc" stroke-width="0.6"/>
<rect x="756.9" y="1203.8" width="6.6" height="137.9" fill="#cccccc" stroke="#dcdcdc" stroke-width="0.6"/>
<rect x="763.5" y="1207.4" width="6.6" height="134.3" fill="#cccccc" stroke="#dcdcdc" stroke-width="0.6"/>
<rect x="770.0" y="1206.6" width="6.6" height="135.1" fill="#cccccc" stroke="#dcdcdc" stroke-width="0.6"/>
<rect x="776.6" y="1199.0" width="6.6" height="142.7" fill="#cccccc" stroke="#dcdcdc" stroke-width="0.6"/>
<rect x="783.2" y="1218.5" width="6.6" height="123.2" fill="#cccccc" stroke="#dcdcdc" stroke-width="0.6"/>
<rect x="789.8" y="1241.8" width="6.8" height="99.9" fill="#cccccc" stroke="#dcdcdc" stroke-width="0.6"/>
<rect x="796.6" y="1254.7" width="6.3" height="87.0" fill="#cccccc" stroke="#dcdcdc" stroke-width="0.6"/>
<rect x="802.9" y="1278.0" width="6.6" height="63.7" fill="#cccccc" stroke="#dcdcdc" stroke-width="0.6"/>
<rect x="809.5" y="1293.9" width="6.6" height="47.8" fill="#cccccc" stroke="#dcdcdc" stroke-width="0.6"/>
<rect x="816.1" y="1312.6" width="6.3" height="29.1" fill="#cccccc" stroke="#dcdcdc" stroke-width="0.6"/>
<rect x="822.4" y="1323.0" width="6.6" height="18.7" fill="#cccccc" stroke="#dcdcdc" stroke-width="0.6"/>
<rect x="829.0" y="1332.4" width="6.6" height="9.3" fill="#cccccc" stroke="#dcdcdc" stroke-width="0.6"/>
<rect x="835.6" y="1336.2" width="6.6" height="5.5" fill="#cccccc" stroke="#dcdcdc" stroke-width="0.6"/>
<rect x="842.1" y="1339.2" width="6.6" height="2.5" fill="#cccccc" stroke="#dcdcdc" stroke-width="0.6"/>
<line x1="633.4" y1="1341.7" x2="900.1" y2="1341.7" stroke="#000" stroke-width="3.6" stroke-linecap="butt"/>
<line x1="635.2" y1="1341.7" x2="635.2" y2="1355.7" stroke="#000" stroke-width="3.6" stroke-linecap="butt"/>
<text x="635.2" y="1378.7" font-size="21" font-weight="bold" text-anchor="middle">-1.0</text>
<line x1="701.0" y1="1341.7" x2="701.0" y2="1355.7" stroke="#000" stroke-width="3.6" stroke-linecap="butt"/>
<text x="701.0" y="1378.7" font-size="21" font-weight="bold" text-anchor="middle">-0.5</text>
<line x1="766.7" y1="1341.7" x2="766.7" y2="1355.7" stroke="#000" stroke-width="3.6" stroke-linecap="butt"/>
<text x="766.7" y="1378.7" font-size="21" font-weight="bold" text-anchor="middle">0.0</text>
<line x1="832.3" y1="1341.7" x2="832.3" y2="1355.7" stroke="#000" stroke-width="3.6" stroke-linecap="butt"/>
<text x="832.3" y="1378.7" font-size="21" font-weight="bold" text-anchor="middle">0.5</text>
<line x1="898.3" y1="1341.7" x2="898.3" y2="1355.7" stroke="#000" stroke-width="3.6" stroke-linecap="butt"/>
<text x="898.3" y="1378.7" font-size="21" font-weight="bold" text-anchor="middle">1.0</text>
<line x1="828.0" y1="1190.0" x2="828.0" y2="1341.7" stroke="#000" stroke-width="2" stroke-linecap="butt"/>
<text x="740.0" y="1174.2" font-size="20.4">p = 0.005, rho = 0.54</text>
<text x="659.0" y="1412.6" font-size="20.5" font-weight="bold">Spatial Permutated rho</text>
<rect x="1641.0" y="1333.1" width="6.3" height="3.1" fill="#cccccc" stroke="#dcdcdc" stroke-width="0.6"/>
<rect x="1647.3" y="1329.3" width="6.6" height="6.9" fill="#cccccc" stroke="#dcdcdc" stroke-width="0.6"/>
<rect x="1653.9" y="1323.5" width="6.6" height="12.7" fill="#cccccc" stroke="#dcdcdc" stroke-width="0.6"/>
<rect x="1660.4" y="1318.5" width="6.3" height="17.7" fill="#cccccc" stroke="#dcdcdc" stroke-width="0.6"/>
<rect x="1666.8" y="1306.3" width="6.6" height="29.9" fill="#cccccc" stroke="#dcdcdc" stroke-width="0.6"/>
<rect x="1673.3" y="1293.9" width="6.6" height="42.3" fill="#cccccc" stroke="#dcdcdc" stroke-width="0.6"/>
<rect x="1679.9" y="1277.2" width="6.6" height="59.0" fill="#cccccc" stroke="#dcdcdc" stroke-width="0.6"/>
<rect x="1686.5" y="1257.0" width="6.6" height="79.2" fill="#cccccc" stroke="#dcdcdc" stroke-width="0.6"/>
<rect x="1693.1" y="1250.1" width="6.3" height="86.1" fill="#cccccc" stroke="#dcdcdc" stroke-width="0.6"/>
<rect x="1699.4" y="1241.3" width="6.6" height="94.9" fill="#cccccc" stroke="#dcdcdc" stroke-width="0.6"/>
<rect x="1706.0" y="1233.7" width="6.6" height="102.5" fill="#cccccc" stroke="#dcdcdc" stroke-width="0.6"/>
<rect x="1712.6" y="1241.3" width="6.6" height="94.9" fill="#cccccc" stroke="#dcdcdc" stroke-width="0.6"/>
<rect x="1719.1" y="1249.6" width="6.3" height="86.6" fill="#cccccc" stroke="#dcdcdc" stroke-width="0.6"/>
<rect x="1725.5" y="1264.6" width="6.6" height="71.6" fill="#cccccc" stroke="#dcdcdc" stroke-width="0.6"/>
<rect x="1732.0" y="1270.9" width="6.6" height="65.3" fill="#cccccc" stroke="#dcdcdc" stroke-width="0.6"/>
<rect x="1738.6" y="1286.1" width="6.6" height="50.1" fill="#cccccc" stroke="#dcdcdc" stroke-width="0.6"/>
<rect x="1745.2" y="1298.7" width="6.6" height="37.5" fill="#cccccc" stroke="#dcdcdc" stroke-width="0.6"/>
<rect x="1751.8" y="1309.1" width="6.3" height="27.1" fill="#cccccc" stroke="#dcdcdc" stroke-width="0.6"/>
<rect x="1758.1" y="1321.0" width="6.6" height="15.2" fill="#cccccc" stroke="#dcdcdc" stroke-width="0.6"/>
<rect x="1764.7" y="1328.6" width="6.6" height="7.6" fill="#cccccc" stroke="#dcdcdc" stroke-width="0.6"/>
<rect x="1771.3" y="1331.9" width="6.6" height="4.3" fill="#cccccc" stroke="#dcdcdc" stroke-width="0.6"/>
<rect x="1777.8" y="1334.4" width="6.6" height="1.8" fill="#cccccc" stroke="#dcdcdc" stroke-width="0.6"/>
<line x1="1576.4" y1="1336.2" x2="1841.8" y2="1336.2" stroke="#000" stroke-width="3.6" stroke-linecap="butt"/>
<line x1="1578.2" y1="1336.2" x2="1578.2" y2="1350.2" stroke="#000" stroke-width="3.6" stroke-linecap="butt"/>
<text x="1578.2" y="1373.2" font-size="21" font-weight="bold" text-anchor="middle">-1.0</text>
<line x1="1643.5" y1="1336.2" x2="1643.5" y2="1350.2" stroke="#000" stroke-width="3.6" stroke-linecap="butt"/>
<text x="1643.5" y="1373.2" font-size="21" font-weight="bold" text-anchor="middle">-0.5</text>
<line x1="1708.8" y1="1336.2" x2="1708.8" y2="1350.2" stroke="#000" stroke-width="3.6" stroke-linecap="butt"/>
<text x="1708.8" y="1373.2" font-size="21" font-weight="bold" text-anchor="middle">0.0</text>
<line x1="1774.3" y1="1336.2" x2="1774.3" y2="1350.2" stroke="#000" stroke-width="3.6" stroke-linecap="butt"/>
<text x="1774.3" y="1373.2" font-size="21" font-weight="bold" text-anchor="middle">0.5</text>
<line x1="1840.0" y1="1336.2" x2="1840.0" y2="1350.2" stroke="#000" stroke-width="3.6" stroke-linecap="butt"/>
<text x="1840.0" y="1373.2" font-size="21" font-weight="bold" text-anchor="middle">1.0</text>
<line x1="1778.0" y1="1187.0" x2="1778.0" y2="1336.2" stroke="#000" stroke-width="2" stroke-linecap="butt"/>
<text x="1680.0" y="1176.3" font-size="20.4">p = 0.0005, rho = 0.54</text>
<text x="1601.0" y="1403.2" font-size="20.5" font-weight="bold">Spatial Permutated rho</text>
<line x1="176.7" y1="1617.9" x2="176.7" y2="2156.4" stroke="#000" stroke-width="3.9" stroke-linecap="butt"/>
<line x1="161.5" y1="1619.8" x2="176.7" y2="1619.8" stroke="#000" stroke-width="3.9" stroke-linecap="butt"/>
<text x="157.0" y="1629.6" font-size="27.5" font-weight="bold" text-anchor="end">0.8</text>
<line x1="161.5" y1="1686.6" x2="176.7" y2="1686.6" stroke="#000" stroke-width="3.9" stroke-linecap="butt"/>
<text x="157.0" y="1696.4" font-size="27.5" font-weight="bold" text-anchor="end">0.6</text>
<line x1="161.5" y1="1753.5" x2="176.7" y2="1753.5" stroke="#000" stroke-width="3.9" stroke-linecap="butt"/>
<text x="157.0" y="1763.3" font-size="27.5" font-weight="bold" text-anchor="end">0.4</text>
<line x1="161.5" y1="1820.3" x2="176.7" y2="1820.3" stroke="#000" stroke-width="3.9" stroke-linecap="butt"/>
<text x="157.0" y="1830.1" font-size="27.5" font-weight="bold" text-anchor="end">0.2</text>
<line x1="161.5" y1="1887.2" x2="176.7" y2="1887.2" stroke="#000" stroke-width="3.9" stroke-linecap="butt"/>
<text x="157.0" y="1897.0" font-size="27.5" font-weight="bold" text-anchor="end">0.0</text>
<line x1="161.5" y1="1954.0" x2="176.7" y2="1954.0" stroke="#000" stroke-width="3.9" stroke-linecap="butt"/>
<text x="157.0" y="1963.8" font-size="27.5" font-weight="bold" text-anchor="end">-0.2</text>
<line x1="161.5" y1="2020.8" x2="176.7" y2="2020.8" stroke="#000" stroke-width="3.9" stroke-linecap="butt"/>
<text x="157.0" y="2030.6" font-size="27.5" font-weight="bold" text-anchor="end">-0.4</text>
<line x1="161.5" y1="2087.7" x2="176.7" y2="2087.7" stroke="#000" stroke-width="3.9" stroke-linecap="butt"/>
<text x="157.0" y="2097.5" font-size="27.5" font-weight="bold" text-anchor="end">-0.6</text>
<line x1="161.5" y1="2154.5" x2="176.7" y2="2154.5" stroke="#000" stroke-width="3.9" stroke-linecap="butt"/>
<text x="157.0" y="2164.3" font-size="27.5" font-weight="bold" text-anchor="end">-0.8</text>
<line x1="161.5" y1="2154.5" x2="712.0" y2="2154.5" stroke="#000" stroke-width="3.9" stroke-linecap="butt"/>
<line x1="176.4" y1="2154.5" x2="176.4" y2="2169.5" stroke="#000" stroke-width="3.9" stroke-linecap="butt"/>
<text x="176.9" y="2198.7" font-size="27.5" font-weight="bold" text-anchor="middle">-0.8</text>
<line x1="252.8" y1="2154.5" x2="252.8" y2="2169.5" stroke="#000" stroke-width="3.9" stroke-linecap="butt"/>
<text x="253.2" y="2198.7" font-size="27.5" font-weight="bold" text-anchor="middle">-0.6</text>
<line x1="329.1" y1="2154.5" x2="329.1" y2="2169.5" stroke="#000" stroke-width="3.9" stroke-linecap="butt"/>
<text x="329.6" y="2198.7" font-size="27.5" font-weight="bold" text-anchor="middle">-0.4</text>
<line x1="405.5" y1="2154.5" x2="405.5" y2="2169.5" stroke="#000" stroke-width="3.9" stroke-linecap="butt"/>
<text x="406.0" y="2198.7" font-size="27.5" font-weight="bold" text-anchor="middle">-0.2</text>
<line x1="481.8" y1="2154.5" x2="481.8" y2="2169.5" stroke="#000" stroke-width="3.9" stroke-linecap="butt"/>
<text x="482.3" y="2198.7" font-size="27.5" font-weight="bold" text-anchor="middle">0.0</text>
<line x1="558.1" y1="2154.5" x2="558.1" y2="2169.5" stroke="#000" stroke-width="3.9" stroke-linecap="butt"/>
<text x="558.6" y="2198.7" font-size="27.5" font-weight="bold" text-anchor="middle">0.2</text>
<line x1="634.5" y1="2154.5" x2="634.5" y2="2169.5" stroke="#000" stroke-width="3.9" stroke-linecap="butt"/>
<text x="635.0" y="2198.7" font-size="27.5" font-weight="bold" text-anchor="middle">0.4</text>
<line x1="710.9" y1="2154.5" x2="710.9" y2="2169.5" stroke="#000" stroke-width="3.9" stroke-linecap="butt"/>
<text x="711.4" y="2198.7" font-size="27.5" font-weight="bold" text-anchor="middle">0.6</text>
<text x="451.6" y="2232.5" font-size="22.2" font-weight="bold" text-anchor="middle">Correlation coefficient with</text>
<text x="442.2" y="2257.2" font-size="22.2" font-weight="bold" text-anchor="middle">Association Development mode’s loading pattern</text>
<text x="68.4" y="1880.4" font-size="22.2" font-weight="bold" text-anchor="middle" transform="rotate(-90 68.4 1880.4)">Correlation coefficient with</text>
<text x="93.3" y="1892.9" font-size="22.2" font-weight="bold" text-anchor="middle" transform="rotate(-90 93.3 1892.9)">Subcortical/limbic Development mode’s loading pattern</text>
<circle cx="339.8" cy="1774.3" r="5.3" fill="#8c8c8c"/>
<circle cx="388.3" cy="1788.0" r="5.3" fill="#8c8c8c"/>
<circle cx="406.2" cy="1796.5" r="5.3" fill="#8c8c8c"/>
<circle cx="356.3" cy="1807.1" r="5.3" fill="#8c8c8c"/>
<circle cx="367.7" cy="1817.4" r="5.3" fill="#8c8c8c"/>
<circle cx="473.8" cy="1836.4" r="5.3" fill="#8c8c8c"/>
<circle cx="416.8" cy="1877.0" r="5.3" fill="#8c8c8c"/>
<circle cx="475.5" cy="1891.6" r="5.3" fill="#8c8c8c"/>
<circle cx="429.6" cy="1898.5" r="5.3" fill="#8c8c8c"/>
<circle cx="514.7" cy="1917.5" r="5.3" fill="#8c8c8c"/>
<circle cx="504.3" cy="1933.7" r="5.3" fill="#8c8c8c"/>
<circle cx="571.5" cy="1928.5" r="5.3" fill="#8c8c8c"/>
<circle cx="647.3" cy="1967.5" r="5.3" fill="#8c8c8c"/>
<circle cx="620.9" cy="1978.9" r="5.3" fill="#8c8c8c"/>
<circle cx="629.8" cy="2005.0" r="5.3" fill="#8c8c8c"/>
<circle cx="639.0" cy="2018.8" r="5.3" fill="#8c8c8c"/>
<circle cx="249.2" cy="1697.1" r="10.8" fill="#3a80f8"/>
<circle cx="237.2" cy="1717.9" r="10.8" fill="#3a80f8"/>
<circle cx="272.7" cy="1705.9" r="10.8" fill="#3a80f8"/>
<circle cx="279.1" cy="1711.6" r="10.8" fill="#3a80f8"/>
<circle cx="278.3" cy="1716.4" r="10.8" fill="#3a80f8"/>
<circle cx="269.8" cy="1736.3" r="10.8" fill="#9bbdf8"/>
<circle cx="681.7" cy="2019.7" r="10.8" fill="#ff2222"/>
<circle cx="687.6" cy="2045.8" r="10.8" fill="#ff2222"/>
<circle cx="711.2" cy="2055.9" r="10.8" fill="#ff2222"/>
<circle cx="660.8" cy="2053.2" r="10.8" fill="#ff8f8f"/>
<circle cx="710.3" cy="2103.2" r="10.8" fill="#ff2222"/>
<circle cx="691.9" cy="2109.7" r="10.8" fill="#ff2222"/>
<text x="203.0" y="1682.0" font-size="19.7">Depression</text>
<text x="280.8" y="1699.5" font-size="19.7">SubstanceAbuse and Stress Response</text>
<text x="302.8" y="1718.8" font-size="19.7">ADHD and Eating Disorders</text>
<text x="280.8" y="1740.5" font-size="19.7">Fear Conditioning and PTSD</text>
<text x="183.8" y="1743.5" font-size="19.7">Reward</text>
<text x="651.8" y="2003.7" font-size="19.7">Numerical Representation and Processing</text>
<text x="697.8" y="2039.7" font-size="19.7">Cognitive-control &amp; task performance</text>
<text x="728.3" y="2061.8" font-size="19.7">Representation</text>
<text x="718.8" y="2097.4" font-size="19.7">Cognitive task demands</text>
<text x="591.6" y="2119.5" font-size="19.7">Language</text>
<text x="599.0" y="1644.0" font-size="19.9" font-weight="bold">Association Development Mode:</text>
<text x="598.5" y="1793.8" font-size="19.9" font-weight="bold">Subcortical/limbic Development Mode:</text>
<circle cx="617.0" cy="1672.2" r="10.9" fill="#ff2222"/>
<text x="656.7" y="1681.2" font-size="29.5">p<tspan font-size="21.5" dy="10.5">FDR</tspan><tspan dy="-10.5">&lt;0.05</tspan></text>
<circle cx="617.0" cy="1729.9" r="10.9" fill="#ff8f8f"/>
<text x="656.7" y="1739.1" font-size="29.5">p<tspan font-size="21.5" dy="10.5">FDR</tspan><tspan dy="-10.5">&lt;0.010</tspan></text>
<circle cx="617.0" cy="1826.0" r="10.9" fill="#3a80f8"/>
<text x="656.7" y="1835.1" font-size="29.5">p<tspan font-size="21.5" dy="10.5">FDR</tspan><tspan dy="-10.5">&lt;0.05</tspan></text>
<circle cx="617.0" cy="1883.5" r="10.9" fill="#9bbdf8"/>
<text x="656.7" y="1892.3" font-size="29.5">p<tspan font-size="21.5" dy="10.5">FDR</tspan><tspan dy="-10.5">&lt;0.010</tspan></text>
<text x="1136.4" y="1728.5" font-size="24.7" font-weight="bold" text-anchor="middle">Association</text>
<text x="1137.4" y="1757.3" font-size="24.7" font-weight="bold" text-anchor="middle">Development Mode</text>
<text x="1136.8" y="1876.6" font-size="24.7" font-weight="bold" text-anchor="middle">Subcortical/limbic</text>
<text x="1136.0" y="1905.3" font-size="24.7" font-weight="bold" text-anchor="middle">Development Mode</text>
<text x="1136.2" y="2042.3" font-size="24.7" font-weight="bold" text-anchor="middle">Network</text>
<rect x="1910.5" y="1987.0" width="36.2" height="20.2" fill="#600070" stroke="#000" stroke-width="2.8"/>
<text x="1966.5" y="2007.3" font-size="27.8">Visual</text>
<rect x="1910.5" y="2021.1" width="36.2" height="20.2" fill="#3a6ea8" stroke="#000" stroke-width="2.8"/>
<text x="1966.5" y="2041.4" font-size="27.8">SM</text>
<rect x="1910.5" y="2055.2" width="36.2" height="20.2" fill="#0e6a0e" stroke="#000" stroke-width="2.8"/>
<text x="1966.5" y="2075.5" font-size="27.8">DA</text>
<rect x="1910.5" y="2089.2" width="36.2" height="20.2" fill="#b400fa" stroke="#000" stroke-width="2.8"/>
<text x="1966.5" y="2109.5" font-size="27.8">VA</text>
<rect x="1910.5" y="2123.3" width="36.2" height="20.2" fill="#d6f996" stroke="#000" stroke-width="2.8"/>
<text x="1966.5" y="2143.6" font-size="27.8">Limbic</text>
<rect x="1910.5" y="2157.4" width="36.2" height="20.2" fill="#dc8520" stroke="#000" stroke-width="2.8"/>
<text x="1966.5" y="2177.7" font-size="27.8">FP</text>
<rect x="1910.5" y="2191.5" width="36.2" height="20.2" fill="#be2840" stroke="#000" stroke-width="2.8"/>
<text x="1966.5" y="2211.8" font-size="27.8">DMN</text>
<path d="M1962.70,1682.40A56.3,56.3 0 0 1 2001.81,1698.20L1982.01,1718.70A27.8,27.8 0 0 0 1962.70,1710.90Z" fill="#781286" stroke="#000" stroke-width="0.6"/>
<path d="M2001.81,1698.20A56.3,56.3 0 0 1 2018.92,1741.65L1990.46,1740.15A27.8,27.8 0 0 0 1982.01,1718.70Z" fill="#4682b4" stroke="#000" stroke-width="0.6"/>
<path d="M2018.92,1741.65A56.3,56.3 0 0 1 2001.10,1779.88L1981.66,1759.03A27.8,27.8 0 0 0 1990.46,1740.15Z" fill="#00760e" stroke="#000" stroke-width="0.6"/>
<path d="M2001.10,1779.88A56.3,56.3 0 0 1 1913.94,1766.85L1938.62,1752.60A27.8,27.8 0 0 0 1981.66,1759.03Z" fill="#c43afa" stroke="#000" stroke-width="0.6"/>
<path d="M1913.94,1766.85A56.3,56.3 0 0 1 1909.25,1756.38L1936.31,1747.43A27.8,27.8 0 0 0 1938.62,1752.60Z" fill="#dcf8a4" stroke="#000" stroke-width="0.6"/>
<path d="M1909.25,1756.38A56.3,56.3 0 0 1 1915.27,1708.37L1939.28,1723.72A27.8,27.8 0 0 0 1936.31,1747.43Z" fill="#e69422" stroke="#000" stroke-width="0.6"/>
<path d="M1915.27,1708.37A56.3,56.3 0 0 1 1962.70,1682.40L1962.70,1710.90A27.8,27.8 0 0 0 1939.28,1723.72Z" fill="#cd3e4e" stroke="#000" stroke-width="0.6"/>
<circle cx="1962.7" cy="1738.7" r="56.3" fill="none" stroke="#000" stroke-width="1.8"/>
<circle cx="1962.7" cy="1738.7" r="27.8" fill="#fff" stroke="#000" stroke-width="1.8"/>
<path d="M1962.10,1827.80A56,56 0 0 1 2015.54,1867.05L1988.63,1875.49A27.8,27.8 0 0 0 1962.10,1856.00Z" fill="#781286" stroke="#000" stroke-width="0.6"/>
<path d="M2015.54,1867.05A56,56 0 0 1 1986.65,1934.13L1974.29,1908.79A27.8,27.8 0 0 0 1988.63,1875.49Z" fill="#4682b4" stroke="#000" stroke-width="0.6"/>
<path d="M1986.65,1934.13A56,56 0 0 1 1958.78,1939.70L1960.45,1911.55A27.8,27.8 0 0 0 1974.29,1908.79Z" fill="#00760e" stroke="#000" stroke-width="0.6"/>
<path d="M1958.78,1939.70A56,56 0 0 1 1938.88,1934.76L1950.57,1909.10A27.8,27.8 0 0 0 1960.45,1911.55Z" fill="#c43afa" stroke="#000" stroke-width="0.6"/>
<path d="M1938.88,1934.76A56,56 0 0 1 1912.03,1858.73L1937.24,1871.35A27.8,27.8 0 0 0 1950.57,1909.10Z" fill="#dcf8a4" stroke="#000" stroke-width="0.6"/>
<path d="M1912.03,1858.73A56,56 0 0 1 1926.10,1840.90L1944.23,1862.50A27.8,27.8 0 0 0 1937.24,1871.35Z" fill="#e69422" stroke="#000" stroke-width="0.6"/>
<path d="M1926.10,1840.90A56,56 0 0 1 1962.10,1827.80L1962.10,1856.00A27.8,27.8 0 0 0 1944.23,1862.50Z" fill="#cd3e4e" stroke="#000" stroke-width="0.6"/>
<circle cx="1962.1" cy="1883.8" r="56" fill="none" stroke="#000" stroke-width="1.8"/>
<circle cx="1962.1" cy="1883.8" r="27.8" fill="#fff" stroke="#000" stroke-width="1.8"/>

</svg></body></html>
